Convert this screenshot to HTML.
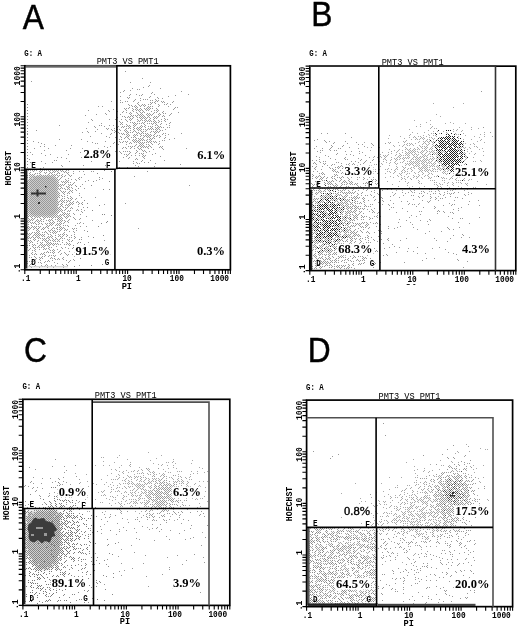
<!DOCTYPE html>
<html><head><meta charset="utf-8"><style>
html,body{margin:0;padding:0;background:#fff;width:520px;height:627px;overflow:hidden}
svg{display:block}
text{opacity:0.999}
</style></head><body>
<svg width="520" height="627" viewBox="0 0 520 627"><defs><filter id="b2" x="-50%" y="-50%" width="200%" height="200%"><feGaussianBlur stdDeviation="2.5"/></filter><filter id="b1" x="-20%" y="-20%" width="140%" height="140%"><feGaussianBlur stdDeviation="1.2"/></filter><filter id="b08" x="-20%" y="-20%" width="140%" height="140%"><feGaussianBlur stdDeviation="0.7"/></filter><filter id="b05" x="-20%" y="-20%" width="140%" height="140%"><feGaussianBlur stdDeviation="0.45"/></filter><filter id="bd" x="-2%" y="-2%" width="104%" height="104%"><feGaussianBlur stdDeviation="0.4"/></filter></defs><rect width="520" height="627" fill="#fff"/><rect x="28.5" y="176" width="29" height="40" rx="7" fill="#cdcdcd" filter="url(#b1)"/><g filter="url(#bd)"><path d="M105 169h1v1h-1zM104 170h1v1h-1zM111 171h1v1h-1zM59 173h1v1h-1zM97 173h1v1h-1zM99 177h1v1h-1zM48 178h1v1h-1zM93 181h1v1h-1zM109 181h1v1h-1zM91 185h1v1h-1zM76 186h1v1h-1zM78 188h1v1h-1zM103 189h1v1h-1zM109 189h1v1h-1zM27 193h1v1h-1zM31 195h1v1h-1zM57 197h1v1h-1zM50 198h1v1h-1zM50 200h1v1h-1zM84 200h1v1h-1zM61 203h1v1h-1zM87 203h1v1h-1zM82 204h1v1h-1zM61 205h1v1h-1zM99 205h1v1h-1zM43 207h1v1h-1zM87 207h1v1h-1zM65 209h1v1h-1zM92 210h1v1h-1zM31 213h1v1h-1zM64 214h1v1h-1zM102 214h1v1h-1zM104 214h1v1h-1zM111 215h1v1h-1zM28 216h1v1h-1zM58 218h1v1h-1zM107 221h1v1h-1zM106 222h1v1h-1zM101 223h1v1h-1zM36 224h1v1h-1zM68 226h1v1h-1zM98 226h1v1h-1zM27 227h1v1h-1zM57 227h1v1h-1zM38 228h1v1h-1zM37 229h1v1h-1zM43 229h1v1h-1zM57 229h1v1h-1zM87 231h1v1h-1zM38 234h1v1h-1zM55 235h1v1h-1zM67 235h1v1h-1zM103 235h1v1h-1zM74 236h1v1h-1zM93 237h1v1h-1zM79 239h1v1h-1zM72 240h1v1h-1zM80 242h1v1h-1zM51 243h1v1h-1zM84 244h1v1h-1zM29 245h1v1h-1zM73 245h1v1h-1zM73 247h1v1h-1zM72 248h1v1h-1zM48 252h1v1h-1zM87 253h1v1h-1zM36 254h1v1h-1zM110 254h1v1h-1zM74 256h1v1h-1zM54 258h1v1h-1zM80 258h1v1h-1zM48 260h1v1h-1zM102 264h1v1h-1zM67 265h1v1h-1zM91 265h1v1h-1zM74 266h1v1h-1zM47 267h1v1h-1z" fill="#888"/><path d="M125 71h1v1h-1zM142 78h1v1h-1zM31 81h1v1h-1zM130 82h1v1h-1zM150 82h1v1h-1zM149 85h1v1h-1zM148 86h1v1h-1zM143 87h1v1h-1zM132 88h1v1h-1zM160 88h1v1h-1zM137 89h1v1h-1zM139 89h1v1h-1zM124 90h1v1h-1zM130 90h1v1h-1zM123 91h1v1h-1zM181 91h1v1h-1zM120 92h1v1h-1zM152 92h1v1h-1zM151 93h1v1h-1zM130 94h1v1h-1zM136 94h1v1h-1zM142 94h1v1h-1zM154 94h1v1h-1zM188 94h1v1h-1zM129 95h1v1h-1zM139 95h1v1h-1zM141 95h1v1h-1zM175 95h1v1h-1zM120 96h1v1h-1zM150 96h1v1h-1zM168 96h1v1h-1zM127 97h1v1h-1zM129 97h1v1h-1zM149 97h1v1h-1zM157 97h1v1h-1zM128 98h1v1h-1zM140 98h1v1h-1zM158 98h1v1h-1zM162 98h1v1h-1zM135 99h1v1h-1zM143 99h1v1h-1zM145 99h1v1h-1zM147 99h1v1h-1zM155 99h1v1h-1zM120 100h1v1h-1zM134 100h1v1h-1zM140 100h1v1h-1zM150 100h1v1h-1zM152 100h1v1h-1zM156 100h1v1h-1zM158 100h1v1h-1zM111 101h1v1h-1zM125 101h1v1h-1zM127 101h1v1h-1zM133 101h1v1h-1zM155 101h1v1h-1zM157 101h1v1h-1zM161 101h1v1h-1zM163 101h1v1h-1zM173 101h1v1h-1zM120 102h1v1h-1zM122 102h1v1h-1zM138 102h1v1h-1zM150 102h1v1h-1zM152 102h1v1h-1zM154 102h1v1h-1zM162 102h1v1h-1zM164 102h1v1h-1zM172 102h1v1h-1zM137 103h1v1h-1zM151 103h1v1h-1zM155 103h1v1h-1zM167 103h1v1h-1zM128 104h1v1h-1zM138 104h1v1h-1zM142 104h1v1h-1zM144 104h1v1h-1zM148 104h1v1h-1zM150 104h1v1h-1zM158 104h1v1h-1zM164 104h1v1h-1zM166 104h1v1h-1zM170 104h1v1h-1zM129 105h1v1h-1zM131 105h1v1h-1zM135 105h1v1h-1zM139 105h1v1h-1zM141 105h1v1h-1zM143 105h1v1h-1zM145 105h1v1h-1zM159 105h1v1h-1zM98 106h1v1h-1zM102 106h1v1h-1zM132 106h1v1h-1zM134 106h1v1h-1zM136 106h1v1h-1zM140 106h1v1h-1zM144 106h1v1h-1zM148 106h1v1h-1zM150 106h1v1h-1zM152 106h1v1h-1zM158 106h1v1h-1zM168 106h1v1h-1zM129 107h1v1h-1zM135 107h1v1h-1zM137 107h1v1h-1zM147 107h1v1h-1zM149 107h1v1h-1zM175 107h1v1h-1zM177 107h1v1h-1zM124 108h1v1h-1zM126 108h1v1h-1zM128 108h1v1h-1zM132 108h1v1h-1zM136 108h1v1h-1zM140 108h1v1h-1zM144 108h1v1h-1zM146 108h1v1h-1zM148 108h1v1h-1zM150 108h1v1h-1zM152 108h1v1h-1zM156 108h1v1h-1zM174 108h1v1h-1zM113 109h1v1h-1zM125 109h1v1h-1zM133 109h1v1h-1zM135 109h1v1h-1zM137 109h1v1h-1zM139 109h1v1h-1zM141 109h1v1h-1zM145 109h1v1h-1zM147 109h1v1h-1zM149 109h1v1h-1zM157 109h1v1h-1zM173 109h1v1h-1zM88 110h1v1h-1zM108 110h1v1h-1zM126 110h1v1h-1zM132 110h1v1h-1zM136 110h1v1h-1zM138 110h1v1h-1zM140 110h1v1h-1zM142 110h1v1h-1zM146 110h1v1h-1zM148 110h1v1h-1zM154 110h1v1h-1zM156 110h1v1h-1zM158 110h1v1h-1zM109 111h1v1h-1zM117 111h1v1h-1zM123 111h1v1h-1zM133 111h1v1h-1zM139 111h1v1h-1zM143 111h1v1h-1zM151 111h1v1h-1zM157 111h1v1h-1zM163 111h1v1h-1zM122 112h1v1h-1zM126 112h1v1h-1zM130 112h1v1h-1zM136 112h1v1h-1zM140 112h1v1h-1zM142 112h1v1h-1zM144 112h1v1h-1zM154 112h1v1h-1zM156 112h1v1h-1zM162 112h1v1h-1zM178 112h1v1h-1zM105 113h1v1h-1zM129 113h1v1h-1zM131 113h1v1h-1zM137 113h1v1h-1zM141 113h1v1h-1zM147 113h1v1h-1zM149 113h1v1h-1zM153 113h1v1h-1zM159 113h1v1h-1zM163 113h1v1h-1zM165 113h1v1h-1zM171 113h1v1h-1zM96 114h1v1h-1zM106 114h1v1h-1zM120 114h1v1h-1zM130 114h1v1h-1zM138 114h1v1h-1zM140 114h1v1h-1zM142 114h1v1h-1zM146 114h1v1h-1zM148 114h1v1h-1zM150 114h1v1h-1zM152 114h1v1h-1zM158 114h1v1h-1zM160 114h1v1h-1zM170 114h1v1h-1zM85 115h1v1h-1zM131 115h1v1h-1zM133 115h1v1h-1zM135 115h1v1h-1zM137 115h1v1h-1zM139 115h1v1h-1zM141 115h1v1h-1zM143 115h1v1h-1zM147 115h1v1h-1zM149 115h1v1h-1zM151 115h1v1h-1zM159 115h1v1h-1zM163 115h1v1h-1zM169 115h1v1h-1zM116 116h1v1h-1zM122 116h1v1h-1zM124 116h1v1h-1zM128 116h1v1h-1zM130 116h1v1h-1zM132 116h1v1h-1zM136 116h1v1h-1zM140 116h1v1h-1zM142 116h1v1h-1zM144 116h1v1h-1zM148 116h1v1h-1zM154 116h1v1h-1zM156 116h1v1h-1zM158 116h1v1h-1zM162 116h1v1h-1zM164 116h1v1h-1zM117 117h1v1h-1zM125 117h1v1h-1zM127 117h1v1h-1zM129 117h1v1h-1zM133 117h1v1h-1zM137 117h1v1h-1zM139 117h1v1h-1zM141 117h1v1h-1zM143 117h1v1h-1zM145 117h1v1h-1zM147 117h1v1h-1zM149 117h1v1h-1zM153 117h1v1h-1zM155 117h1v1h-1zM157 117h1v1h-1zM130 118h1v1h-1zM132 118h1v1h-1zM140 118h1v1h-1zM142 118h1v1h-1zM144 118h1v1h-1zM146 118h1v1h-1zM150 118h1v1h-1zM154 118h1v1h-1zM156 118h1v1h-1zM164 118h1v1h-1zM91 119h1v1h-1zM109 119h1v1h-1zM115 119h1v1h-1zM121 119h1v1h-1zM125 119h1v1h-1zM129 119h1v1h-1zM131 119h1v1h-1zM137 119h1v1h-1zM141 119h1v1h-1zM145 119h1v1h-1zM149 119h1v1h-1zM153 119h1v1h-1zM161 119h1v1h-1zM165 119h1v1h-1zM167 119h1v1h-1zM92 120h1v1h-1zM126 120h1v1h-1zM130 120h1v1h-1zM138 120h1v1h-1zM140 120h1v1h-1zM142 120h1v1h-1zM144 120h1v1h-1zM146 120h1v1h-1zM148 120h1v1h-1zM150 120h1v1h-1zM154 120h1v1h-1zM158 120h1v1h-1zM164 120h1v1h-1zM119 121h1v1h-1zM127 121h1v1h-1zM137 121h1v1h-1zM139 121h1v1h-1zM145 121h1v1h-1zM147 121h1v1h-1zM149 121h1v1h-1zM151 121h1v1h-1zM153 121h1v1h-1zM155 121h1v1h-1zM159 121h1v1h-1zM161 121h1v1h-1zM165 121h1v1h-1zM88 122h1v1h-1zM120 122h1v1h-1zM122 122h1v1h-1zM130 122h1v1h-1zM132 122h1v1h-1zM134 122h1v1h-1zM142 122h1v1h-1zM144 122h1v1h-1zM154 122h1v1h-1zM156 122h1v1h-1zM158 122h1v1h-1zM170 122h1v1h-1zM101 123h1v1h-1zM121 123h1v1h-1zM133 123h1v1h-1zM135 123h1v1h-1zM137 123h1v1h-1zM139 123h1v1h-1zM141 123h1v1h-1zM143 123h1v1h-1zM147 123h1v1h-1zM149 123h1v1h-1zM151 123h1v1h-1zM153 123h1v1h-1zM155 123h1v1h-1zM161 123h1v1h-1zM169 123h1v1h-1zM120 124h1v1h-1zM122 124h1v1h-1zM126 124h1v1h-1zM134 124h1v1h-1zM136 124h1v1h-1zM144 124h1v1h-1zM152 124h1v1h-1zM156 124h1v1h-1zM160 124h1v1h-1zM166 124h1v1h-1zM59 125h1v1h-1zM99 125h1v1h-1zM101 125h1v1h-1zM109 125h1v1h-1zM113 125h1v1h-1zM127 125h1v1h-1zM129 125h1v1h-1zM133 125h1v1h-1zM135 125h1v1h-1zM141 125h1v1h-1zM145 125h1v1h-1zM155 125h1v1h-1zM157 125h1v1h-1zM169 125h1v1h-1zM94 126h1v1h-1zM104 126h1v1h-1zM116 126h1v1h-1zM118 126h1v1h-1zM122 126h1v1h-1zM124 126h1v1h-1zM126 126h1v1h-1zM128 126h1v1h-1zM130 126h1v1h-1zM134 126h1v1h-1zM140 126h1v1h-1zM142 126h1v1h-1zM144 126h1v1h-1zM148 126h1v1h-1zM150 126h1v1h-1zM152 126h1v1h-1zM158 126h1v1h-1zM160 126h1v1h-1zM95 127h1v1h-1zM117 127h1v1h-1zM121 127h1v1h-1zM123 127h1v1h-1zM129 127h1v1h-1zM133 127h1v1h-1zM137 127h1v1h-1zM139 127h1v1h-1zM141 127h1v1h-1zM145 127h1v1h-1zM151 127h1v1h-1zM155 127h1v1h-1zM157 127h1v1h-1zM159 127h1v1h-1zM161 127h1v1h-1zM163 127h1v1h-1zM167 127h1v1h-1zM169 127h1v1h-1zM86 128h1v1h-1zM106 128h1v1h-1zM108 128h1v1h-1zM114 128h1v1h-1zM126 128h1v1h-1zM128 128h1v1h-1zM130 128h1v1h-1zM134 128h1v1h-1zM136 128h1v1h-1zM138 128h1v1h-1zM140 128h1v1h-1zM148 128h1v1h-1zM150 128h1v1h-1zM152 128h1v1h-1zM156 128h1v1h-1zM158 128h1v1h-1zM97 129h1v1h-1zM107 129h1v1h-1zM111 129h1v1h-1zM117 129h1v1h-1zM119 129h1v1h-1zM125 129h1v1h-1zM133 129h1v1h-1zM137 129h1v1h-1zM139 129h1v1h-1zM141 129h1v1h-1zM143 129h1v1h-1zM145 129h1v1h-1zM147 129h1v1h-1zM149 129h1v1h-1zM151 129h1v1h-1zM153 129h1v1h-1zM155 129h1v1h-1zM157 129h1v1h-1zM159 129h1v1h-1zM165 129h1v1h-1zM36 130h1v1h-1zM112 130h1v1h-1zM114 130h1v1h-1zM120 130h1v1h-1zM124 130h1v1h-1zM126 130h1v1h-1zM130 130h1v1h-1zM134 130h1v1h-1zM138 130h1v1h-1zM140 130h1v1h-1zM146 130h1v1h-1zM156 130h1v1h-1zM160 130h1v1h-1zM162 130h1v1h-1zM87 131h1v1h-1zM95 131h1v1h-1zM115 131h1v1h-1zM125 131h1v1h-1zM127 131h1v1h-1zM133 131h1v1h-1zM135 131h1v1h-1zM141 131h1v1h-1zM143 131h1v1h-1zM145 131h1v1h-1zM151 131h1v1h-1zM153 131h1v1h-1zM155 131h1v1h-1zM157 131h1v1h-1zM159 131h1v1h-1zM82 132h1v1h-1zM88 132h1v1h-1zM114 132h1v1h-1zM118 132h1v1h-1zM126 132h1v1h-1zM128 132h1v1h-1zM130 132h1v1h-1zM132 132h1v1h-1zM136 132h1v1h-1zM138 132h1v1h-1zM142 132h1v1h-1zM150 132h1v1h-1zM154 132h1v1h-1zM156 132h1v1h-1zM158 132h1v1h-1zM27 133h1v1h-1zM101 133h1v1h-1zM111 133h1v1h-1zM119 133h1v1h-1zM121 133h1v1h-1zM123 133h1v1h-1zM127 133h1v1h-1zM137 133h1v1h-1zM139 133h1v1h-1zM141 133h1v1h-1zM143 133h1v1h-1zM145 133h1v1h-1zM147 133h1v1h-1zM155 133h1v1h-1zM163 133h1v1h-1zM165 133h1v1h-1zM181 133h1v1h-1zM110 134h1v1h-1zM122 134h1v1h-1zM124 134h1v1h-1zM126 134h1v1h-1zM128 134h1v1h-1zM134 134h1v1h-1zM136 134h1v1h-1zM140 134h1v1h-1zM146 134h1v1h-1zM148 134h1v1h-1zM150 134h1v1h-1zM154 134h1v1h-1zM162 134h1v1h-1zM168 134h1v1h-1zM127 135h1v1h-1zM129 135h1v1h-1zM133 135h1v1h-1zM135 135h1v1h-1zM137 135h1v1h-1zM141 135h1v1h-1zM143 135h1v1h-1zM145 135h1v1h-1zM147 135h1v1h-1zM149 135h1v1h-1zM151 135h1v1h-1zM153 135h1v1h-1zM157 135h1v1h-1zM159 135h1v1h-1zM165 135h1v1h-1zM90 136h1v1h-1zM106 136h1v1h-1zM120 136h1v1h-1zM126 136h1v1h-1zM128 136h1v1h-1zM134 136h1v1h-1zM140 136h1v1h-1zM144 136h1v1h-1zM146 136h1v1h-1zM148 136h1v1h-1zM150 136h1v1h-1zM154 136h1v1h-1zM156 136h1v1h-1zM160 136h1v1h-1zM109 137h1v1h-1zM115 137h1v1h-1zM121 137h1v1h-1zM125 137h1v1h-1zM127 137h1v1h-1zM131 137h1v1h-1zM133 137h1v1h-1zM135 137h1v1h-1zM143 137h1v1h-1zM147 137h1v1h-1zM149 137h1v1h-1zM153 137h1v1h-1zM159 137h1v1h-1zM165 137h1v1h-1zM124 138h1v1h-1zM128 138h1v1h-1zM136 138h1v1h-1zM138 138h1v1h-1zM140 138h1v1h-1zM142 138h1v1h-1zM150 138h1v1h-1zM152 138h1v1h-1zM154 138h1v1h-1zM164 138h1v1h-1zM174 138h1v1h-1zM59 139h1v1h-1zM81 139h1v1h-1zM119 139h1v1h-1zM121 139h1v1h-1zM129 139h1v1h-1zM133 139h1v1h-1zM135 139h1v1h-1zM139 139h1v1h-1zM141 139h1v1h-1zM143 139h1v1h-1zM147 139h1v1h-1zM149 139h1v1h-1zM151 139h1v1h-1zM169 139h1v1h-1zM132 140h1v1h-1zM134 140h1v1h-1zM136 140h1v1h-1zM138 140h1v1h-1zM140 140h1v1h-1zM142 140h1v1h-1zM144 140h1v1h-1zM146 140h1v1h-1zM150 140h1v1h-1zM162 140h1v1h-1zM164 140h1v1h-1zM33 141h1v1h-1zM87 141h1v1h-1zM105 141h1v1h-1zM119 141h1v1h-1zM123 141h1v1h-1zM125 141h1v1h-1zM127 141h1v1h-1zM133 141h1v1h-1zM135 141h1v1h-1zM137 141h1v1h-1zM139 141h1v1h-1zM147 141h1v1h-1zM149 141h1v1h-1zM151 141h1v1h-1zM153 141h1v1h-1zM155 141h1v1h-1zM159 141h1v1h-1zM38 142h1v1h-1zM92 142h1v1h-1zM114 142h1v1h-1zM120 142h1v1h-1zM122 142h1v1h-1zM126 142h1v1h-1zM130 142h1v1h-1zM134 142h1v1h-1zM136 142h1v1h-1zM138 142h1v1h-1zM140 142h1v1h-1zM142 142h1v1h-1zM144 142h1v1h-1zM146 142h1v1h-1zM148 142h1v1h-1zM150 142h1v1h-1zM154 142h1v1h-1zM156 142h1v1h-1zM41 143h1v1h-1zM95 143h1v1h-1zM97 143h1v1h-1zM113 143h1v1h-1zM129 143h1v1h-1zM131 143h1v1h-1zM139 143h1v1h-1zM141 143h1v1h-1zM143 143h1v1h-1zM151 143h1v1h-1zM159 143h1v1h-1zM44 144h1v1h-1zM116 144h1v1h-1zM118 144h1v1h-1zM126 144h1v1h-1zM136 144h1v1h-1zM140 144h1v1h-1zM142 144h1v1h-1zM146 144h1v1h-1zM148 144h1v1h-1zM152 144h1v1h-1zM158 144h1v1h-1zM55 145h1v1h-1zM71 145h1v1h-1zM135 145h1v1h-1zM139 145h1v1h-1zM141 145h1v1h-1zM143 145h1v1h-1zM149 145h1v1h-1zM40 146h1v1h-1zM44 146h1v1h-1zM104 146h1v1h-1zM110 146h1v1h-1zM128 146h1v1h-1zM130 146h1v1h-1zM132 146h1v1h-1zM134 146h1v1h-1zM138 146h1v1h-1zM140 146h1v1h-1zM142 146h1v1h-1zM144 146h1v1h-1zM146 146h1v1h-1zM148 146h1v1h-1zM150 146h1v1h-1zM160 146h1v1h-1zM162 146h1v1h-1zM107 147h1v1h-1zM123 147h1v1h-1zM125 147h1v1h-1zM131 147h1v1h-1zM137 147h1v1h-1zM141 147h1v1h-1zM143 147h1v1h-1zM145 147h1v1h-1zM147 147h1v1h-1zM151 147h1v1h-1zM159 147h1v1h-1zM161 147h1v1h-1zM34 148h1v1h-1zM48 148h1v1h-1zM70 148h1v1h-1zM82 148h1v1h-1zM98 148h1v1h-1zM122 148h1v1h-1zM126 148h1v1h-1zM130 148h1v1h-1zM134 148h1v1h-1zM138 148h1v1h-1zM140 148h1v1h-1zM148 148h1v1h-1zM162 148h1v1h-1zM186 148h1v1h-1zM91 149h1v1h-1zM139 149h1v1h-1zM141 149h1v1h-1zM153 149h1v1h-1zM163 149h1v1h-1zM44 150h1v1h-1zM66 150h1v1h-1zM88 150h1v1h-1zM92 150h1v1h-1zM136 150h1v1h-1zM142 150h1v1h-1zM144 150h1v1h-1zM101 151h1v1h-1zM115 151h1v1h-1zM119 151h1v1h-1zM123 151h1v1h-1zM125 151h1v1h-1zM127 151h1v1h-1zM129 151h1v1h-1zM137 151h1v1h-1zM143 151h1v1h-1zM145 151h1v1h-1zM149 151h1v1h-1zM30 152h1v1h-1zM80 152h1v1h-1zM120 152h1v1h-1zM130 152h1v1h-1zM136 152h1v1h-1zM146 152h1v1h-1zM41 153h1v1h-1zM111 153h1v1h-1zM121 153h1v1h-1zM129 153h1v1h-1zM135 153h1v1h-1zM139 153h1v1h-1zM141 153h1v1h-1zM143 153h1v1h-1zM155 153h1v1h-1zM32 154h1v1h-1zM50 154h1v1h-1zM68 154h1v1h-1zM90 154h1v1h-1zM124 154h1v1h-1zM126 154h1v1h-1zM128 154h1v1h-1zM142 154h1v1h-1zM152 154h1v1h-1zM45 155h1v1h-1zM127 155h1v1h-1zM131 155h1v1h-1zM135 155h1v1h-1zM139 155h1v1h-1zM143 155h1v1h-1zM145 155h1v1h-1zM126 156h1v1h-1zM142 156h1v1h-1zM144 156h1v1h-1zM160 156h1v1h-1zM57 157h1v1h-1zM61 157h1v1h-1zM81 157h1v1h-1zM99 157h1v1h-1zM123 157h1v1h-1zM129 157h1v1h-1zM143 157h1v1h-1zM66 158h1v1h-1zM128 158h1v1h-1zM136 158h1v1h-1zM144 158h1v1h-1zM29 159h1v1h-1zM111 159h1v1h-1zM135 159h1v1h-1zM137 159h1v1h-1zM54 160h1v1h-1zM56 160h1v1h-1zM142 160h1v1h-1zM150 160h1v1h-1zM164 160h1v1h-1zM41 161h1v1h-1zM69 161h1v1h-1zM91 161h1v1h-1zM119 161h1v1h-1zM133 161h1v1h-1zM141 161h1v1h-1zM30 162h1v1h-1zM52 162h1v1h-1zM136 162h1v1h-1zM144 162h1v1h-1zM148 162h1v1h-1zM45 163h1v1h-1zM133 163h1v1h-1zM137 163h1v1h-1zM139 163h1v1h-1zM155 163h1v1h-1zM180 164h1v1h-1zM61 165h1v1h-1zM83 165h1v1h-1zM105 165h1v1h-1zM135 165h1v1h-1zM62 166h1v1h-1zM138 166h1v1h-1zM154 166h1v1h-1zM43 167h1v1h-1zM119 167h1v1h-1zM127 167h1v1h-1zM40 168h1v1h-1zM144 168h1v1h-1zM67 169h1v1h-1zM28 170h1v1h-1zM30 170h1v1h-1zM32 170h1v1h-1zM34 170h1v1h-1zM36 170h1v1h-1zM40 170h1v1h-1zM42 170h1v1h-1zM44 170h1v1h-1zM46 170h1v1h-1zM48 170h1v1h-1zM50 170h1v1h-1zM52 170h1v1h-1zM54 170h1v1h-1zM56 170h1v1h-1zM58 170h1v1h-1zM60 170h1v1h-1zM62 170h1v1h-1zM66 170h1v1h-1zM68 170h1v1h-1zM33 171h1v1h-1zM39 171h1v1h-1zM41 171h1v1h-1zM49 171h1v1h-1zM53 171h1v1h-1zM55 171h1v1h-1zM57 171h1v1h-1zM61 171h1v1h-1zM63 171h1v1h-1zM65 171h1v1h-1zM73 171h1v1h-1zM79 171h1v1h-1zM83 171h1v1h-1zM91 171h1v1h-1zM93 171h1v1h-1zM147 171h1v1h-1zM26 172h1v1h-1zM30 172h1v1h-1zM40 172h1v1h-1zM44 172h1v1h-1zM46 172h1v1h-1zM50 172h1v1h-1zM52 172h1v1h-1zM54 172h1v1h-1zM58 172h1v1h-1zM64 172h1v1h-1zM66 172h1v1h-1zM68 172h1v1h-1zM29 173h1v1h-1zM35 173h1v1h-1zM37 173h1v1h-1zM39 173h1v1h-1zM45 173h1v1h-1zM49 173h1v1h-1zM51 173h1v1h-1zM57 173h1v1h-1zM67 173h1v1h-1zM73 173h1v1h-1zM26 174h1v1h-1zM30 174h1v1h-1zM32 174h1v1h-1zM34 174h1v1h-1zM40 174h1v1h-1zM48 174h1v1h-1zM52 174h1v1h-1zM54 174h1v1h-1zM56 174h1v1h-1zM62 174h1v1h-1zM68 174h1v1h-1zM84 174h1v1h-1zM27 175h1v1h-1zM29 175h1v1h-1zM31 175h1v1h-1zM37 175h1v1h-1zM41 175h1v1h-1zM43 175h1v1h-1zM45 175h1v1h-1zM49 175h1v1h-1zM51 175h1v1h-1zM53 175h1v1h-1zM57 175h1v1h-1zM59 175h1v1h-1zM61 175h1v1h-1zM65 175h1v1h-1zM69 175h1v1h-1zM71 175h1v1h-1zM26 176h1v1h-1zM30 176h1v1h-1zM36 176h1v1h-1zM40 176h1v1h-1zM42 176h1v1h-1zM46 176h1v1h-1zM52 176h1v1h-1zM58 176h1v1h-1zM62 176h1v1h-1zM64 176h1v1h-1zM70 176h1v1h-1zM134 176h1v1h-1zM27 177h1v1h-1zM29 177h1v1h-1zM33 177h1v1h-1zM35 177h1v1h-1zM37 177h1v1h-1zM39 177h1v1h-1zM41 177h1v1h-1zM43 177h1v1h-1zM47 177h1v1h-1zM51 177h1v1h-1zM57 177h1v1h-1zM61 177h1v1h-1zM79 177h1v1h-1zM81 177h1v1h-1zM30 178h1v1h-1zM36 178h1v1h-1zM38 178h1v1h-1zM42 178h1v1h-1zM46 178h1v1h-1zM54 178h1v1h-1zM60 178h1v1h-1zM68 178h1v1h-1zM78 178h1v1h-1zM102 178h1v1h-1zM29 179h1v1h-1zM37 179h1v1h-1zM39 179h1v1h-1zM51 179h1v1h-1zM55 179h1v1h-1zM57 179h1v1h-1zM59 179h1v1h-1zM65 179h1v1h-1zM71 179h1v1h-1zM75 179h1v1h-1zM79 179h1v1h-1zM99 179h1v1h-1zM26 180h1v1h-1zM30 180h1v1h-1zM32 180h1v1h-1zM38 180h1v1h-1zM40 180h1v1h-1zM46 180h1v1h-1zM48 180h1v1h-1zM50 180h1v1h-1zM52 180h1v1h-1zM54 180h1v1h-1zM56 180h1v1h-1zM58 180h1v1h-1zM66 180h1v1h-1zM68 180h1v1h-1zM76 180h1v1h-1zM88 180h1v1h-1zM96 180h1v1h-1zM27 181h1v1h-1zM31 181h1v1h-1zM37 181h1v1h-1zM39 181h1v1h-1zM41 181h1v1h-1zM45 181h1v1h-1zM53 181h1v1h-1zM57 181h1v1h-1zM61 181h1v1h-1zM63 181h1v1h-1zM65 181h1v1h-1zM67 181h1v1h-1zM85 181h1v1h-1zM26 182h1v1h-1zM28 182h1v1h-1zM32 182h1v1h-1zM34 182h1v1h-1zM38 182h1v1h-1zM40 182h1v1h-1zM42 182h1v1h-1zM44 182h1v1h-1zM46 182h1v1h-1zM48 182h1v1h-1zM50 182h1v1h-1zM52 182h1v1h-1zM54 182h1v1h-1zM56 182h1v1h-1zM58 182h1v1h-1zM62 182h1v1h-1zM64 182h1v1h-1zM66 182h1v1h-1zM68 182h1v1h-1zM70 182h1v1h-1zM74 182h1v1h-1zM27 183h1v1h-1zM29 183h1v1h-1zM31 183h1v1h-1zM45 183h1v1h-1zM47 183h1v1h-1zM51 183h1v1h-1zM55 183h1v1h-1zM65 183h1v1h-1zM73 183h1v1h-1zM28 184h1v1h-1zM30 184h1v1h-1zM34 184h1v1h-1zM36 184h1v1h-1zM38 184h1v1h-1zM40 184h1v1h-1zM44 184h1v1h-1zM46 184h1v1h-1zM48 184h1v1h-1zM50 184h1v1h-1zM58 184h1v1h-1zM60 184h1v1h-1zM62 184h1v1h-1zM64 184h1v1h-1zM68 184h1v1h-1zM70 184h1v1h-1zM72 184h1v1h-1zM82 184h1v1h-1zM27 185h1v1h-1zM29 185h1v1h-1zM33 185h1v1h-1zM35 185h1v1h-1zM37 185h1v1h-1zM43 185h1v1h-1zM47 185h1v1h-1zM53 185h1v1h-1zM55 185h1v1h-1zM59 185h1v1h-1zM61 185h1v1h-1zM63 185h1v1h-1zM69 185h1v1h-1zM71 185h1v1h-1zM75 185h1v1h-1zM189 185h1v1h-1zM28 186h1v1h-1zM30 186h1v1h-1zM32 186h1v1h-1zM34 186h1v1h-1zM36 186h1v1h-1zM38 186h1v1h-1zM40 186h1v1h-1zM44 186h1v1h-1zM48 186h1v1h-1zM58 186h1v1h-1zM60 186h1v1h-1zM66 186h1v1h-1zM68 186h1v1h-1zM80 186h1v1h-1zM27 187h1v1h-1zM29 187h1v1h-1zM31 187h1v1h-1zM33 187h1v1h-1zM39 187h1v1h-1zM41 187h1v1h-1zM43 187h1v1h-1zM45 187h1v1h-1zM51 187h1v1h-1zM53 187h1v1h-1zM61 187h1v1h-1zM67 187h1v1h-1zM69 187h1v1h-1zM71 187h1v1h-1zM26 188h1v1h-1zM28 188h1v1h-1zM30 188h1v1h-1zM34 188h1v1h-1zM36 188h1v1h-1zM40 188h1v1h-1zM44 188h1v1h-1zM46 188h1v1h-1zM48 188h1v1h-1zM50 188h1v1h-1zM52 188h1v1h-1zM56 188h1v1h-1zM58 188h1v1h-1zM60 188h1v1h-1zM62 188h1v1h-1zM64 188h1v1h-1zM68 188h1v1h-1zM72 188h1v1h-1zM84 188h1v1h-1zM29 189h1v1h-1zM31 189h1v1h-1zM33 189h1v1h-1zM35 189h1v1h-1zM41 189h1v1h-1zM45 189h1v1h-1zM47 189h1v1h-1zM49 189h1v1h-1zM53 189h1v1h-1zM57 189h1v1h-1zM59 189h1v1h-1zM65 189h1v1h-1zM67 189h1v1h-1zM69 189h1v1h-1zM75 189h1v1h-1zM30 190h1v1h-1zM32 190h1v1h-1zM36 190h1v1h-1zM38 190h1v1h-1zM40 190h1v1h-1zM42 190h1v1h-1zM44 190h1v1h-1zM46 190h1v1h-1zM48 190h1v1h-1zM50 190h1v1h-1zM52 190h1v1h-1zM60 190h1v1h-1zM70 190h1v1h-1zM72 190h1v1h-1zM76 190h1v1h-1zM27 191h1v1h-1zM29 191h1v1h-1zM31 191h1v1h-1zM35 191h1v1h-1zM37 191h1v1h-1zM41 191h1v1h-1zM43 191h1v1h-1zM45 191h1v1h-1zM47 191h1v1h-1zM51 191h1v1h-1zM53 191h1v1h-1zM55 191h1v1h-1zM57 191h1v1h-1zM61 191h1v1h-1zM63 191h1v1h-1zM65 191h1v1h-1zM69 191h1v1h-1zM71 191h1v1h-1zM26 192h1v1h-1zM28 192h1v1h-1zM30 192h1v1h-1zM32 192h1v1h-1zM36 192h1v1h-1zM40 192h1v1h-1zM42 192h1v1h-1zM46 192h1v1h-1zM48 192h1v1h-1zM56 192h1v1h-1zM58 192h1v1h-1zM62 192h1v1h-1zM64 192h1v1h-1zM68 192h1v1h-1zM72 192h1v1h-1zM29 193h1v1h-1zM31 193h1v1h-1zM33 193h1v1h-1zM39 193h1v1h-1zM43 193h1v1h-1zM45 193h1v1h-1zM47 193h1v1h-1zM51 193h1v1h-1zM53 193h1v1h-1zM59 193h1v1h-1zM63 193h1v1h-1zM67 193h1v1h-1zM69 193h1v1h-1zM79 193h1v1h-1zM28 194h1v1h-1zM30 194h1v1h-1zM38 194h1v1h-1zM40 194h1v1h-1zM42 194h1v1h-1zM46 194h1v1h-1zM50 194h1v1h-1zM58 194h1v1h-1zM64 194h1v1h-1zM29 195h1v1h-1zM37 195h1v1h-1zM39 195h1v1h-1zM41 195h1v1h-1zM43 195h1v1h-1zM45 195h1v1h-1zM51 195h1v1h-1zM53 195h1v1h-1zM55 195h1v1h-1zM59 195h1v1h-1zM61 195h1v1h-1zM67 195h1v1h-1zM79 195h1v1h-1zM26 196h1v1h-1zM28 196h1v1h-1zM30 196h1v1h-1zM32 196h1v1h-1zM34 196h1v1h-1zM38 196h1v1h-1zM40 196h1v1h-1zM46 196h1v1h-1zM48 196h1v1h-1zM50 196h1v1h-1zM54 196h1v1h-1zM58 196h1v1h-1zM62 196h1v1h-1zM64 196h1v1h-1zM70 196h1v1h-1zM31 197h1v1h-1zM35 197h1v1h-1zM37 197h1v1h-1zM41 197h1v1h-1zM43 197h1v1h-1zM45 197h1v1h-1zM49 197h1v1h-1zM53 197h1v1h-1zM55 197h1v1h-1zM59 197h1v1h-1zM67 197h1v1h-1zM71 197h1v1h-1zM81 197h1v1h-1zM95 197h1v1h-1zM32 198h1v1h-1zM34 198h1v1h-1zM36 198h1v1h-1zM42 198h1v1h-1zM44 198h1v1h-1zM46 198h1v1h-1zM52 198h1v1h-1zM56 198h1v1h-1zM62 198h1v1h-1zM64 198h1v1h-1zM68 198h1v1h-1zM70 198h1v1h-1zM72 198h1v1h-1zM76 198h1v1h-1zM27 199h1v1h-1zM29 199h1v1h-1zM31 199h1v1h-1zM35 199h1v1h-1zM43 199h1v1h-1zM45 199h1v1h-1zM47 199h1v1h-1zM51 199h1v1h-1zM53 199h1v1h-1zM55 199h1v1h-1zM57 199h1v1h-1zM61 199h1v1h-1zM71 199h1v1h-1zM75 199h1v1h-1zM26 200h1v1h-1zM28 200h1v1h-1zM32 200h1v1h-1zM34 200h1v1h-1zM38 200h1v1h-1zM42 200h1v1h-1zM44 200h1v1h-1zM46 200h1v1h-1zM52 200h1v1h-1zM54 200h1v1h-1zM56 200h1v1h-1zM60 200h1v1h-1zM62 200h1v1h-1zM64 200h1v1h-1zM66 200h1v1h-1zM68 200h1v1h-1zM70 200h1v1h-1zM27 201h1v1h-1zM35 201h1v1h-1zM37 201h1v1h-1zM39 201h1v1h-1zM41 201h1v1h-1zM47 201h1v1h-1zM49 201h1v1h-1zM53 201h1v1h-1zM59 201h1v1h-1zM61 201h1v1h-1zM63 201h1v1h-1zM67 201h1v1h-1zM69 201h1v1h-1zM73 201h1v1h-1zM77 201h1v1h-1zM26 202h1v1h-1zM28 202h1v1h-1zM30 202h1v1h-1zM32 202h1v1h-1zM36 202h1v1h-1zM42 202h1v1h-1zM44 202h1v1h-1zM46 202h1v1h-1zM48 202h1v1h-1zM50 202h1v1h-1zM54 202h1v1h-1zM56 202h1v1h-1zM58 202h1v1h-1zM62 202h1v1h-1zM64 202h1v1h-1zM66 202h1v1h-1zM70 202h1v1h-1zM72 202h1v1h-1zM76 202h1v1h-1zM78 202h1v1h-1zM82 202h1v1h-1zM27 203h1v1h-1zM29 203h1v1h-1zM31 203h1v1h-1zM35 203h1v1h-1zM37 203h1v1h-1zM41 203h1v1h-1zM43 203h1v1h-1zM45 203h1v1h-1zM47 203h1v1h-1zM49 203h1v1h-1zM51 203h1v1h-1zM53 203h1v1h-1zM57 203h1v1h-1zM69 203h1v1h-1zM71 203h1v1h-1zM73 203h1v1h-1zM79 203h1v1h-1zM81 203h1v1h-1zM125 203h1v1h-1zM26 204h1v1h-1zM28 204h1v1h-1zM30 204h1v1h-1zM32 204h1v1h-1zM36 204h1v1h-1zM40 204h1v1h-1zM46 204h1v1h-1zM48 204h1v1h-1zM50 204h1v1h-1zM52 204h1v1h-1zM56 204h1v1h-1zM58 204h1v1h-1zM60 204h1v1h-1zM62 204h1v1h-1zM66 204h1v1h-1zM68 204h1v1h-1zM70 204h1v1h-1zM72 204h1v1h-1zM78 204h1v1h-1zM104 204h1v1h-1zM31 205h1v1h-1zM35 205h1v1h-1zM39 205h1v1h-1zM41 205h1v1h-1zM43 205h1v1h-1zM45 205h1v1h-1zM47 205h1v1h-1zM49 205h1v1h-1zM51 205h1v1h-1zM55 205h1v1h-1zM65 205h1v1h-1zM67 205h1v1h-1zM69 205h1v1h-1zM26 206h1v1h-1zM28 206h1v1h-1zM30 206h1v1h-1zM40 206h1v1h-1zM48 206h1v1h-1zM50 206h1v1h-1zM52 206h1v1h-1zM54 206h1v1h-1zM56 206h1v1h-1zM60 206h1v1h-1zM62 206h1v1h-1zM68 206h1v1h-1zM78 206h1v1h-1zM27 207h1v1h-1zM35 207h1v1h-1zM37 207h1v1h-1zM39 207h1v1h-1zM41 207h1v1h-1zM45 207h1v1h-1zM49 207h1v1h-1zM51 207h1v1h-1zM55 207h1v1h-1zM59 207h1v1h-1zM63 207h1v1h-1zM65 207h1v1h-1zM67 207h1v1h-1zM71 207h1v1h-1zM83 207h1v1h-1zM26 208h1v1h-1zM28 208h1v1h-1zM30 208h1v1h-1zM38 208h1v1h-1zM42 208h1v1h-1zM46 208h1v1h-1zM54 208h1v1h-1zM56 208h1v1h-1zM58 208h1v1h-1zM60 208h1v1h-1zM66 208h1v1h-1zM70 208h1v1h-1zM72 208h1v1h-1zM27 209h1v1h-1zM29 209h1v1h-1zM35 209h1v1h-1zM37 209h1v1h-1zM39 209h1v1h-1zM43 209h1v1h-1zM45 209h1v1h-1zM47 209h1v1h-1zM51 209h1v1h-1zM53 209h1v1h-1zM55 209h1v1h-1zM57 209h1v1h-1zM59 209h1v1h-1zM61 209h1v1h-1zM77 209h1v1h-1zM81 209h1v1h-1zM26 210h1v1h-1zM28 210h1v1h-1zM30 210h1v1h-1zM32 210h1v1h-1zM36 210h1v1h-1zM38 210h1v1h-1zM42 210h1v1h-1zM46 210h1v1h-1zM48 210h1v1h-1zM50 210h1v1h-1zM52 210h1v1h-1zM54 210h1v1h-1zM58 210h1v1h-1zM60 210h1v1h-1zM62 210h1v1h-1zM64 210h1v1h-1zM68 210h1v1h-1zM70 210h1v1h-1zM76 210h1v1h-1zM78 210h1v1h-1zM84 210h1v1h-1zM27 211h1v1h-1zM29 211h1v1h-1zM31 211h1v1h-1zM33 211h1v1h-1zM35 211h1v1h-1zM37 211h1v1h-1zM41 211h1v1h-1zM43 211h1v1h-1zM47 211h1v1h-1zM49 211h1v1h-1zM55 211h1v1h-1zM57 211h1v1h-1zM59 211h1v1h-1zM61 211h1v1h-1zM67 211h1v1h-1zM69 211h1v1h-1zM81 211h1v1h-1zM26 212h1v1h-1zM28 212h1v1h-1zM30 212h1v1h-1zM34 212h1v1h-1zM38 212h1v1h-1zM40 212h1v1h-1zM42 212h1v1h-1zM44 212h1v1h-1zM50 212h1v1h-1zM56 212h1v1h-1zM58 212h1v1h-1zM62 212h1v1h-1zM64 212h1v1h-1zM82 212h1v1h-1zM33 213h1v1h-1zM35 213h1v1h-1zM39 213h1v1h-1zM41 213h1v1h-1zM43 213h1v1h-1zM45 213h1v1h-1zM51 213h1v1h-1zM53 213h1v1h-1zM55 213h1v1h-1zM63 213h1v1h-1zM65 213h1v1h-1zM67 213h1v1h-1zM69 213h1v1h-1zM73 213h1v1h-1zM28 214h1v1h-1zM30 214h1v1h-1zM32 214h1v1h-1zM34 214h1v1h-1zM36 214h1v1h-1zM40 214h1v1h-1zM42 214h1v1h-1zM44 214h1v1h-1zM48 214h1v1h-1zM54 214h1v1h-1zM56 214h1v1h-1zM60 214h1v1h-1zM62 214h1v1h-1zM66 214h1v1h-1zM68 214h1v1h-1zM74 214h1v1h-1zM80 214h1v1h-1zM29 215h1v1h-1zM31 215h1v1h-1zM35 215h1v1h-1zM41 215h1v1h-1zM45 215h1v1h-1zM47 215h1v1h-1zM49 215h1v1h-1zM53 215h1v1h-1zM57 215h1v1h-1zM59 215h1v1h-1zM61 215h1v1h-1zM63 215h1v1h-1zM67 215h1v1h-1zM69 215h1v1h-1zM26 216h1v1h-1zM30 216h1v1h-1zM32 216h1v1h-1zM40 216h1v1h-1zM42 216h1v1h-1zM48 216h1v1h-1zM50 216h1v1h-1zM52 216h1v1h-1zM54 216h1v1h-1zM58 216h1v1h-1zM60 216h1v1h-1zM64 216h1v1h-1zM66 216h1v1h-1zM68 216h1v1h-1zM70 216h1v1h-1zM86 216h1v1h-1zM27 217h1v1h-1zM31 217h1v1h-1zM35 217h1v1h-1zM37 217h1v1h-1zM39 217h1v1h-1zM43 217h1v1h-1zM45 217h1v1h-1zM47 217h1v1h-1zM49 217h1v1h-1zM51 217h1v1h-1zM53 217h1v1h-1zM55 217h1v1h-1zM57 217h1v1h-1zM59 217h1v1h-1zM61 217h1v1h-1zM65 217h1v1h-1zM67 217h1v1h-1zM73 217h1v1h-1zM28 218h1v1h-1zM32 218h1v1h-1zM34 218h1v1h-1zM40 218h1v1h-1zM44 218h1v1h-1zM52 218h1v1h-1zM60 218h1v1h-1zM62 218h1v1h-1zM66 218h1v1h-1zM74 218h1v1h-1zM80 218h1v1h-1zM29 219h1v1h-1zM31 219h1v1h-1zM33 219h1v1h-1zM37 219h1v1h-1zM41 219h1v1h-1zM43 219h1v1h-1zM49 219h1v1h-1zM51 219h1v1h-1zM55 219h1v1h-1zM57 219h1v1h-1zM59 219h1v1h-1zM61 219h1v1h-1zM69 219h1v1h-1zM75 219h1v1h-1zM79 219h1v1h-1zM28 220h1v1h-1zM30 220h1v1h-1zM32 220h1v1h-1zM36 220h1v1h-1zM38 220h1v1h-1zM40 220h1v1h-1zM46 220h1v1h-1zM48 220h1v1h-1zM50 220h1v1h-1zM52 220h1v1h-1zM58 220h1v1h-1zM60 220h1v1h-1zM62 220h1v1h-1zM64 220h1v1h-1zM68 220h1v1h-1zM92 220h1v1h-1zM27 221h1v1h-1zM29 221h1v1h-1zM35 221h1v1h-1zM37 221h1v1h-1zM39 221h1v1h-1zM41 221h1v1h-1zM43 221h1v1h-1zM49 221h1v1h-1zM53 221h1v1h-1zM57 221h1v1h-1zM59 221h1v1h-1zM61 221h1v1h-1zM65 221h1v1h-1zM67 221h1v1h-1zM26 222h1v1h-1zM28 222h1v1h-1zM30 222h1v1h-1zM32 222h1v1h-1zM34 222h1v1h-1zM38 222h1v1h-1zM50 222h1v1h-1zM52 222h1v1h-1zM54 222h1v1h-1zM60 222h1v1h-1zM64 222h1v1h-1zM68 222h1v1h-1zM80 222h1v1h-1zM31 223h1v1h-1zM33 223h1v1h-1zM35 223h1v1h-1zM39 223h1v1h-1zM41 223h1v1h-1zM45 223h1v1h-1zM47 223h1v1h-1zM49 223h1v1h-1zM51 223h1v1h-1zM53 223h1v1h-1zM57 223h1v1h-1zM59 223h1v1h-1zM61 223h1v1h-1zM63 223h1v1h-1zM77 223h1v1h-1zM79 223h1v1h-1zM83 223h1v1h-1zM26 224h1v1h-1zM28 224h1v1h-1zM38 224h1v1h-1zM42 224h1v1h-1zM46 224h1v1h-1zM50 224h1v1h-1zM52 224h1v1h-1zM56 224h1v1h-1zM58 224h1v1h-1zM60 224h1v1h-1zM31 225h1v1h-1zM47 225h1v1h-1zM49 225h1v1h-1zM51 225h1v1h-1zM55 225h1v1h-1zM57 225h1v1h-1zM59 225h1v1h-1zM63 225h1v1h-1zM65 225h1v1h-1zM67 225h1v1h-1zM75 225h1v1h-1zM28 226h1v1h-1zM32 226h1v1h-1zM34 226h1v1h-1zM36 226h1v1h-1zM38 226h1v1h-1zM40 226h1v1h-1zM46 226h1v1h-1zM48 226h1v1h-1zM60 226h1v1h-1zM80 226h1v1h-1zM86 226h1v1h-1zM29 227h1v1h-1zM31 227h1v1h-1zM33 227h1v1h-1zM35 227h1v1h-1zM39 227h1v1h-1zM43 227h1v1h-1zM45 227h1v1h-1zM47 227h1v1h-1zM53 227h1v1h-1zM59 227h1v1h-1zM61 227h1v1h-1zM63 227h1v1h-1zM26 228h1v1h-1zM28 228h1v1h-1zM30 228h1v1h-1zM34 228h1v1h-1zM36 228h1v1h-1zM42 228h1v1h-1zM44 228h1v1h-1zM48 228h1v1h-1zM52 228h1v1h-1zM54 228h1v1h-1zM56 228h1v1h-1zM60 228h1v1h-1zM62 228h1v1h-1zM64 228h1v1h-1zM72 228h1v1h-1zM74 228h1v1h-1zM76 228h1v1h-1zM138 228h1v1h-1zM29 229h1v1h-1zM33 229h1v1h-1zM41 229h1v1h-1zM51 229h1v1h-1zM59 229h1v1h-1zM61 229h1v1h-1zM65 229h1v1h-1zM67 229h1v1h-1zM73 229h1v1h-1zM26 230h1v1h-1zM28 230h1v1h-1zM36 230h1v1h-1zM38 230h1v1h-1zM48 230h1v1h-1zM50 230h1v1h-1zM52 230h1v1h-1zM54 230h1v1h-1zM60 230h1v1h-1zM64 230h1v1h-1zM66 230h1v1h-1zM76 230h1v1h-1zM84 230h1v1h-1zM37 231h1v1h-1zM39 231h1v1h-1zM45 231h1v1h-1zM49 231h1v1h-1zM53 231h1v1h-1zM55 231h1v1h-1zM57 231h1v1h-1zM59 231h1v1h-1zM69 231h1v1h-1zM73 231h1v1h-1zM32 232h1v1h-1zM34 232h1v1h-1zM36 232h1v1h-1zM38 232h1v1h-1zM42 232h1v1h-1zM44 232h1v1h-1zM46 232h1v1h-1zM50 232h1v1h-1zM52 232h1v1h-1zM54 232h1v1h-1zM56 232h1v1h-1zM64 232h1v1h-1zM74 232h1v1h-1zM27 233h1v1h-1zM29 233h1v1h-1zM31 233h1v1h-1zM35 233h1v1h-1zM37 233h1v1h-1zM39 233h1v1h-1zM47 233h1v1h-1zM53 233h1v1h-1zM55 233h1v1h-1zM63 233h1v1h-1zM28 234h1v1h-1zM30 234h1v1h-1zM34 234h1v1h-1zM36 234h1v1h-1zM40 234h1v1h-1zM42 234h1v1h-1zM44 234h1v1h-1zM48 234h1v1h-1zM50 234h1v1h-1zM58 234h1v1h-1zM60 234h1v1h-1zM62 234h1v1h-1zM64 234h1v1h-1zM66 234h1v1h-1zM74 234h1v1h-1zM29 235h1v1h-1zM33 235h1v1h-1zM35 235h1v1h-1zM37 235h1v1h-1zM39 235h1v1h-1zM41 235h1v1h-1zM43 235h1v1h-1zM51 235h1v1h-1zM59 235h1v1h-1zM63 235h1v1h-1zM71 235h1v1h-1zM28 236h1v1h-1zM32 236h1v1h-1zM36 236h1v1h-1zM38 236h1v1h-1zM42 236h1v1h-1zM44 236h1v1h-1zM48 236h1v1h-1zM50 236h1v1h-1zM52 236h1v1h-1zM58 236h1v1h-1zM60 236h1v1h-1zM62 236h1v1h-1zM66 236h1v1h-1zM88 236h1v1h-1zM27 237h1v1h-1zM29 237h1v1h-1zM31 237h1v1h-1zM33 237h1v1h-1zM35 237h1v1h-1zM37 237h1v1h-1zM39 237h1v1h-1zM47 237h1v1h-1zM49 237h1v1h-1zM51 237h1v1h-1zM55 237h1v1h-1zM61 237h1v1h-1zM69 237h1v1h-1zM71 237h1v1h-1zM75 237h1v1h-1zM81 237h1v1h-1zM28 238h1v1h-1zM30 238h1v1h-1zM34 238h1v1h-1zM38 238h1v1h-1zM40 238h1v1h-1zM42 238h1v1h-1zM44 238h1v1h-1zM46 238h1v1h-1zM48 238h1v1h-1zM52 238h1v1h-1zM56 238h1v1h-1zM60 238h1v1h-1zM62 238h1v1h-1zM64 238h1v1h-1zM74 238h1v1h-1zM33 239h1v1h-1zM35 239h1v1h-1zM43 239h1v1h-1zM45 239h1v1h-1zM49 239h1v1h-1zM53 239h1v1h-1zM55 239h1v1h-1zM57 239h1v1h-1zM59 239h1v1h-1zM67 239h1v1h-1zM69 239h1v1h-1zM81 239h1v1h-1zM28 240h1v1h-1zM30 240h1v1h-1zM34 240h1v1h-1zM38 240h1v1h-1zM42 240h1v1h-1zM44 240h1v1h-1zM46 240h1v1h-1zM48 240h1v1h-1zM50 240h1v1h-1zM52 240h1v1h-1zM54 240h1v1h-1zM58 240h1v1h-1zM62 240h1v1h-1zM68 240h1v1h-1zM104 240h1v1h-1zM29 241h1v1h-1zM31 241h1v1h-1zM37 241h1v1h-1zM45 241h1v1h-1zM47 241h1v1h-1zM53 241h1v1h-1zM55 241h1v1h-1zM57 241h1v1h-1zM59 241h1v1h-1zM69 241h1v1h-1zM71 241h1v1h-1zM26 242h1v1h-1zM30 242h1v1h-1zM32 242h1v1h-1zM40 242h1v1h-1zM42 242h1v1h-1zM46 242h1v1h-1zM48 242h1v1h-1zM50 242h1v1h-1zM62 242h1v1h-1zM66 242h1v1h-1zM78 242h1v1h-1zM88 242h1v1h-1zM29 243h1v1h-1zM37 243h1v1h-1zM41 243h1v1h-1zM47 243h1v1h-1zM49 243h1v1h-1zM53 243h1v1h-1zM55 243h1v1h-1zM57 243h1v1h-1zM67 243h1v1h-1zM69 243h1v1h-1zM77 243h1v1h-1zM32 244h1v1h-1zM34 244h1v1h-1zM40 244h1v1h-1zM42 244h1v1h-1zM44 244h1v1h-1zM46 244h1v1h-1zM48 244h1v1h-1zM50 244h1v1h-1zM52 244h1v1h-1zM54 244h1v1h-1zM56 244h1v1h-1zM58 244h1v1h-1zM60 244h1v1h-1zM64 244h1v1h-1zM66 244h1v1h-1zM68 244h1v1h-1zM70 244h1v1h-1zM27 245h1v1h-1zM33 245h1v1h-1zM35 245h1v1h-1zM39 245h1v1h-1zM41 245h1v1h-1zM43 245h1v1h-1zM45 245h1v1h-1zM47 245h1v1h-1zM49 245h1v1h-1zM53 245h1v1h-1zM69 245h1v1h-1zM81 245h1v1h-1zM89 245h1v1h-1zM32 246h1v1h-1zM38 246h1v1h-1zM42 246h1v1h-1zM44 246h1v1h-1zM48 246h1v1h-1zM56 246h1v1h-1zM27 247h1v1h-1zM33 247h1v1h-1zM35 247h1v1h-1zM37 247h1v1h-1zM39 247h1v1h-1zM41 247h1v1h-1zM43 247h1v1h-1zM49 247h1v1h-1zM51 247h1v1h-1zM61 247h1v1h-1zM65 247h1v1h-1zM81 247h1v1h-1zM89 247h1v1h-1zM26 248h1v1h-1zM30 248h1v1h-1zM34 248h1v1h-1zM44 248h1v1h-1zM46 248h1v1h-1zM48 248h1v1h-1zM62 248h1v1h-1zM68 248h1v1h-1zM29 249h1v1h-1zM35 249h1v1h-1zM39 249h1v1h-1zM43 249h1v1h-1zM45 249h1v1h-1zM49 249h1v1h-1zM53 249h1v1h-1zM57 249h1v1h-1zM28 250h1v1h-1zM32 250h1v1h-1zM34 250h1v1h-1zM50 250h1v1h-1zM52 250h1v1h-1zM54 250h1v1h-1zM60 250h1v1h-1zM35 251h1v1h-1zM47 251h1v1h-1zM53 251h1v1h-1zM59 251h1v1h-1zM69 251h1v1h-1zM32 252h1v1h-1zM44 252h1v1h-1zM46 252h1v1h-1zM50 252h1v1h-1zM52 252h1v1h-1zM54 252h1v1h-1zM58 252h1v1h-1zM64 252h1v1h-1zM74 252h1v1h-1zM31 253h1v1h-1zM35 253h1v1h-1zM41 253h1v1h-1zM43 253h1v1h-1zM53 253h1v1h-1zM61 253h1v1h-1zM65 253h1v1h-1zM83 253h1v1h-1zM85 253h1v1h-1zM32 254h1v1h-1zM34 254h1v1h-1zM40 254h1v1h-1zM42 254h1v1h-1zM44 254h1v1h-1zM60 254h1v1h-1zM66 254h1v1h-1zM68 254h1v1h-1zM72 254h1v1h-1zM29 255h1v1h-1zM45 255h1v1h-1zM49 255h1v1h-1zM51 255h1v1h-1zM53 255h1v1h-1zM55 255h1v1h-1zM67 255h1v1h-1zM217 255h1v1h-1zM34 256h1v1h-1zM42 256h1v1h-1zM44 256h1v1h-1zM48 256h1v1h-1zM54 256h1v1h-1zM29 257h1v1h-1zM31 257h1v1h-1zM35 257h1v1h-1zM39 257h1v1h-1zM41 257h1v1h-1zM51 257h1v1h-1zM63 257h1v1h-1zM36 258h1v1h-1zM40 258h1v1h-1zM42 258h1v1h-1zM50 258h1v1h-1zM52 258h1v1h-1zM58 258h1v1h-1zM62 258h1v1h-1zM35 259h1v1h-1zM39 259h1v1h-1zM55 259h1v1h-1zM57 259h1v1h-1zM59 259h1v1h-1zM63 259h1v1h-1zM73 259h1v1h-1zM34 260h1v1h-1zM40 260h1v1h-1zM52 260h1v1h-1zM66 260h1v1h-1zM70 260h1v1h-1zM74 260h1v1h-1zM27 261h1v1h-1zM29 261h1v1h-1zM31 261h1v1h-1zM33 261h1v1h-1zM45 261h1v1h-1zM47 261h1v1h-1zM49 261h1v1h-1zM69 261h1v1h-1zM38 262h1v1h-1zM40 262h1v1h-1zM44 262h1v1h-1zM54 262h1v1h-1zM68 262h1v1h-1zM27 263h1v1h-1zM31 263h1v1h-1zM41 263h1v1h-1zM57 263h1v1h-1zM30 264h1v1h-1zM46 264h1v1h-1zM62 264h1v1h-1zM66 264h1v1h-1zM29 265h1v1h-1zM35 265h1v1h-1zM41 265h1v1h-1zM45 265h1v1h-1zM47 265h1v1h-1zM51 265h1v1h-1zM55 265h1v1h-1zM63 265h1v1h-1zM79 265h1v1h-1zM30 266h1v1h-1zM34 266h1v1h-1zM42 266h1v1h-1zM44 266h1v1h-1zM31 267h1v1h-1zM39 267h1v1h-1zM53 267h1v1h-1zM63 267h1v1h-1z" fill="#999"/><path d="M33 175h1v1h-1zM39 175h1v1h-1zM47 175h1v1h-1zM55 175h1v1h-1zM32 176h1v1h-1zM34 176h1v1h-1zM38 176h1v1h-1zM44 176h1v1h-1zM48 176h1v1h-1zM50 176h1v1h-1zM54 176h1v1h-1zM31 177h1v1h-1zM45 177h1v1h-1zM49 177h1v1h-1zM53 177h1v1h-1zM55 177h1v1h-1zM34 178h1v1h-1zM40 178h1v1h-1zM44 178h1v1h-1zM50 178h1v1h-1zM52 178h1v1h-1zM56 178h1v1h-1zM31 179h1v1h-1zM33 179h1v1h-1zM35 179h1v1h-1zM41 179h1v1h-1zM43 179h1v1h-1zM45 179h1v1h-1zM47 179h1v1h-1zM49 179h1v1h-1zM53 179h1v1h-1zM28 180h1v1h-1zM34 180h1v1h-1zM36 180h1v1h-1zM42 180h1v1h-1zM44 180h1v1h-1zM29 181h1v1h-1zM33 181h1v1h-1zM35 181h1v1h-1zM43 181h1v1h-1zM47 181h1v1h-1zM49 181h1v1h-1zM51 181h1v1h-1zM55 181h1v1h-1zM30 182h1v1h-1zM36 182h1v1h-1zM33 183h1v1h-1zM35 183h1v1h-1zM37 183h1v1h-1zM39 183h1v1h-1zM41 183h1v1h-1zM43 183h1v1h-1zM49 183h1v1h-1zM53 183h1v1h-1zM57 183h1v1h-1zM32 184h1v1h-1zM42 184h1v1h-1zM52 184h1v1h-1zM54 184h1v1h-1zM56 184h1v1h-1zM31 185h1v1h-1zM39 185h1v1h-1zM41 185h1v1h-1zM45 185h1v1h-1zM49 185h1v1h-1zM51 185h1v1h-1zM57 185h1v1h-1zM26 186h1v1h-1zM42 186h1v1h-1zM46 186h1v1h-1zM50 186h1v1h-1zM52 186h1v1h-1zM54 186h1v1h-1zM56 186h1v1h-1zM35 187h1v1h-1zM37 187h1v1h-1zM47 187h1v1h-1zM49 187h1v1h-1zM55 187h1v1h-1zM57 187h1v1h-1zM32 188h1v1h-1zM38 188h1v1h-1zM42 188h1v1h-1zM54 188h1v1h-1zM27 189h1v1h-1zM37 189h1v1h-1zM39 189h1v1h-1zM43 189h1v1h-1zM51 189h1v1h-1zM55 189h1v1h-1zM26 190h1v1h-1zM28 190h1v1h-1zM34 190h1v1h-1zM54 190h1v1h-1zM56 190h1v1h-1zM33 191h1v1h-1zM39 191h1v1h-1zM49 191h1v1h-1zM34 192h1v1h-1zM38 192h1v1h-1zM44 192h1v1h-1zM50 192h1v1h-1zM52 192h1v1h-1zM54 192h1v1h-1zM35 193h1v1h-1zM37 193h1v1h-1zM41 193h1v1h-1zM49 193h1v1h-1zM55 193h1v1h-1zM57 193h1v1h-1zM26 194h1v1h-1zM32 194h1v1h-1zM34 194h1v1h-1zM36 194h1v1h-1zM44 194h1v1h-1zM48 194h1v1h-1zM52 194h1v1h-1zM54 194h1v1h-1zM56 194h1v1h-1zM27 195h1v1h-1zM33 195h1v1h-1zM35 195h1v1h-1zM47 195h1v1h-1zM49 195h1v1h-1zM57 195h1v1h-1zM36 196h1v1h-1zM42 196h1v1h-1zM44 196h1v1h-1zM52 196h1v1h-1zM56 196h1v1h-1zM27 197h1v1h-1zM29 197h1v1h-1zM33 197h1v1h-1zM39 197h1v1h-1zM47 197h1v1h-1zM51 197h1v1h-1zM26 198h1v1h-1zM28 198h1v1h-1zM30 198h1v1h-1zM38 198h1v1h-1zM40 198h1v1h-1zM48 198h1v1h-1zM54 198h1v1h-1zM33 199h1v1h-1zM37 199h1v1h-1zM39 199h1v1h-1zM41 199h1v1h-1zM49 199h1v1h-1zM30 200h1v1h-1zM36 200h1v1h-1zM40 200h1v1h-1zM48 200h1v1h-1zM29 201h1v1h-1zM31 201h1v1h-1zM33 201h1v1h-1zM43 201h1v1h-1zM45 201h1v1h-1zM51 201h1v1h-1zM55 201h1v1h-1zM57 201h1v1h-1zM34 202h1v1h-1zM38 202h1v1h-1zM40 202h1v1h-1zM52 202h1v1h-1zM33 203h1v1h-1zM39 203h1v1h-1zM55 203h1v1h-1zM34 204h1v1h-1zM38 204h1v1h-1zM42 204h1v1h-1zM44 204h1v1h-1zM54 204h1v1h-1zM27 205h1v1h-1zM29 205h1v1h-1zM33 205h1v1h-1zM37 205h1v1h-1zM53 205h1v1h-1zM57 205h1v1h-1zM32 206h1v1h-1zM34 206h1v1h-1zM36 206h1v1h-1zM38 206h1v1h-1zM42 206h1v1h-1zM44 206h1v1h-1zM46 206h1v1h-1zM29 207h1v1h-1zM31 207h1v1h-1zM33 207h1v1h-1zM47 207h1v1h-1zM53 207h1v1h-1zM57 207h1v1h-1zM32 208h1v1h-1zM34 208h1v1h-1zM36 208h1v1h-1zM40 208h1v1h-1zM44 208h1v1h-1zM48 208h1v1h-1zM50 208h1v1h-1zM52 208h1v1h-1zM31 209h1v1h-1zM33 209h1v1h-1zM41 209h1v1h-1zM49 209h1v1h-1zM34 210h1v1h-1zM40 210h1v1h-1zM44 210h1v1h-1zM56 210h1v1h-1zM39 211h1v1h-1zM45 211h1v1h-1zM51 211h1v1h-1zM53 211h1v1h-1zM32 212h1v1h-1zM36 212h1v1h-1zM46 212h1v1h-1zM48 212h1v1h-1zM52 212h1v1h-1zM54 212h1v1h-1zM27 213h1v1h-1zM29 213h1v1h-1zM37 213h1v1h-1zM47 213h1v1h-1zM49 213h1v1h-1zM57 213h1v1h-1zM38 214h1v1h-1zM46 214h1v1h-1zM50 214h1v1h-1zM52 214h1v1h-1zM27 215h1v1h-1zM33 215h1v1h-1zM37 215h1v1h-1zM39 215h1v1h-1zM43 215h1v1h-1zM51 215h1v1h-1zM55 215h1v1h-1zM34 216h1v1h-1zM36 216h1v1h-1zM38 216h1v1h-1zM44 216h1v1h-1zM46 216h1v1h-1zM56 216h1v1h-1z" fill="#9a9a9a"/></g><rect x="25.2" y="169.5" width="2.2" height="99" fill="#222"/><path d="M27 104h1v1h-1zM27 107h1v1h-1zM27 110h1v1h-1zM27 113h1v1h-1zM27 116h1v1h-1zM27 119h1v1h-1zM27 122h1v1h-1zM27 125h1v1h-1zM27 128h1v1h-1zM27 131h1v1h-1zM27 134h1v1h-1zM27 137h1v1h-1zM27 140h1v1h-1zM27 143h1v1h-1zM27 146h1v1h-1zM27 149h1v1h-1zM27 152h1v1h-1zM27 155h1v1h-1zM27 158h1v1h-1zM27 161h1v1h-1zM27 164h1v1h-1zM27 167h1v1h-1z" fill="#888"/><path d="M31 192.5h15v2h-15zM36.5 189.5h2v7h-2zM38 202h2v2h-2zM45 186h1.5v1.5h-1.5z" fill="#333"/><rect x="28" y="266.3" width="40" height="1" fill="#ccc"/><text transform="translate(22.70,28.60) scale(0.92,1)" font-size="34.5" style="font-family:'Liberation Sans',sans-serif" stroke="#000" stroke-width="0.45">A</text><text transform="translate(24.30,55.60) scale(1,1.28)" font-size="7.35" style="font-family:'Liberation Mono',monospace;font-weight:bold">G: A</text><text x="96.70" y="64.20" font-size="8.6" style="font-family:'Liberation Mono',monospace;font-weight:bold;font-weight:normal" text-anchor="start" >PMT3 VS PMT1</text><path d="M24.80 269.80v4.2M24.80 269.80h-4.2M40.27 269.80v4.2M24.80 254.45h-4.2M49.32 269.80v4.2M24.80 245.47h-4.2M55.75 269.80v4.2M24.80 239.09h-4.2M60.73 269.80v4.2M24.80 234.15h-4.2M64.80 269.80v4.2M24.80 230.11h-4.2M68.24 269.80v4.2M24.80 226.70h-4.2M71.22 269.80v4.2M24.80 223.74h-4.2M73.85 269.80v4.2M24.80 221.13h-4.2M76.20 269.80v4.2M24.80 218.80h-4.2M91.67 269.80v4.2M24.80 203.45h-4.2M100.72 269.80v4.2M24.80 194.47h-4.2M107.15 269.80v4.2M24.80 188.09h-4.2M112.13 269.80v4.2M24.80 183.15h-4.2M116.20 269.80v4.2M24.80 179.11h-4.2M119.64 269.80v4.2M24.80 175.70h-4.2M122.62 269.80v4.2M24.80 172.74h-4.2M125.25 269.80v4.2M24.80 170.13h-4.2M127.60 269.80v4.2M24.80 167.80h-4.2M143.07 269.80v4.2M24.80 152.45h-4.2M152.12 269.80v4.2M24.80 143.47h-4.2M158.55 269.80v4.2M24.80 137.09h-4.2M163.53 269.80v4.2M24.80 132.15h-4.2M167.60 269.80v4.2M24.80 128.11h-4.2M171.04 269.80v4.2M24.80 124.70h-4.2M174.02 269.80v4.2M24.80 121.74h-4.2M176.65 269.80v4.2M24.80 119.13h-4.2M179.00 269.80v4.2M24.80 116.80h-4.2M194.47 269.80v4.2M24.80 101.45h-4.2M203.52 269.80v4.2M24.80 92.47h-4.2M209.95 269.80v4.2M24.80 86.09h-4.2M214.93 269.80v4.2M24.80 81.15h-4.2M219.00 269.80v4.2M24.80 77.11h-4.2M222.44 269.80v4.2M24.80 73.70h-4.2M225.42 269.80v4.2M24.80 70.74h-4.2M228.05 269.80v4.2M24.80 68.13h-4.2M230.40 269.80v4.2M24.80 65.80h-4.2" stroke="#000" stroke-width="1.1" fill="none"/><rect x="24.80" y="65.80" width="205.60" height="204.00" fill="none" stroke="#000" stroke-width="1.7"/><line x1="116.85" y1="65.80" x2="116.85" y2="169.20" stroke="#000" stroke-width="1.6"/><line x1="114.90" y1="169.20" x2="114.90" y2="269.80" stroke="#000" stroke-width="1.6"/><line x1="24.80" y1="169.20" x2="115.88" y2="169.20" stroke="#000" stroke-width="1.6"/><line x1="115.88" y1="168.20" x2="230.40" y2="168.20" stroke="#000" stroke-width="1.6"/><text transform="translate(19.90,273.32) rotate(-90) scale(1,1.12)" font-size="8" style="font-family:'Liberation Mono',monospace;font-weight:bold">.1</text><text transform="translate(19.90,218.85) rotate(-90) scale(1,1.12)" font-size="8" style="font-family:'Liberation Mono',monospace;font-weight:bold">1</text><text transform="translate(19.90,171.72) rotate(-90) scale(1,1.12)" font-size="8" style="font-family:'Liberation Mono',monospace;font-weight:bold">10</text><text transform="translate(19.90,126.60) rotate(-90) scale(1,1.12)" font-size="8" style="font-family:'Liberation Mono',monospace;font-weight:bold">100</text><text transform="translate(19.90,85.40) rotate(-90) scale(1,1.12)" font-size="8" style="font-family:'Liberation Mono',monospace;font-weight:bold">1000</text><text transform="translate(10.60,185.39) rotate(-90)" font-size="8.2" style="font-family:'Liberation Mono',monospace;font-weight:bold">HOECHST</text><text transform="translate(21.00,281.10) scale(1,1.18)" font-size="7.8" style="font-family:'Liberation Mono',monospace;font-weight:bold">.1</text><text transform="translate(76.00,281.10) scale(1,1.18)" font-size="7.8" style="font-family:'Liberation Mono',monospace;font-weight:bold">1</text><text transform="translate(122.40,281.10) scale(1,1.18)" font-size="7.8" style="font-family:'Liberation Mono',monospace;font-weight:bold">10</text><text transform="translate(169.80,281.10) scale(1,1.18)" font-size="7.8" style="font-family:'Liberation Mono',monospace;font-weight:bold">100</text><text transform="translate(210.30,281.10) scale(1,1.18)" font-size="7.8" style="font-family:'Liberation Mono',monospace;font-weight:bold">1000</text><text x="121.70" y="288.70" font-size="8.6" style="font-family:'Liberation Mono',monospace;font-weight:bold" text-anchor="start" >PI</text><text transform="translate(31.30,168.00) scale(1,1.2)" font-size="7.6" style="font-family:'Liberation Mono',monospace;font-weight:bold" text-anchor="start">E</text><text transform="translate(110.55,168.30) scale(1,1.2)" font-size="7.6" style="font-family:'Liberation Mono',monospace;font-weight:bold" text-anchor="end">F</text><text transform="translate(31.30,265.30) scale(1,1.2)" font-size="7.6" style="font-family:'Liberation Mono',monospace;font-weight:bold" text-anchor="start">D</text><text transform="translate(109.30,265.30) scale(1,1.2)" font-size="7.6" style="font-family:'Liberation Mono',monospace;font-weight:bold" text-anchor="end">G</text><rect x="25.7" y="65.5" width="90.3" height="1.15" fill="#a0a0a0"/><path d="M24.8 67.1H117" stroke="#222" stroke-width="0.8"/><rect x="82.28" y="148.80" width="30.12" height="11.5" fill="#fff"/><text x="111.60" y="158.40" font-size="12.5" style="font-family:'Liberation Serif',serif;font-weight:bold" text-anchor="end" >2.8%</text><rect x="195.97" y="149.40" width="30.12" height="11.5" fill="#fff"/><text x="225.30" y="159.00" font-size="12.5" style="font-family:'Liberation Serif',serif;font-weight:bold" text-anchor="end" >6.1%</text><rect x="74.33" y="245.10" width="36.38" height="11.5" fill="#fff"/><text x="109.90" y="254.70" font-size="12.5" style="font-family:'Liberation Serif',serif;font-weight:bold" text-anchor="end" >91.5%</text><rect x="195.68" y="245.10" width="30.12" height="11.5" fill="#fff"/><text x="225.00" y="254.70" font-size="12.5" style="font-family:'Liberation Serif',serif;font-weight:bold" text-anchor="end" >0.3%</text><g filter="url(#bd)"><path d="M438 130h1v1h-1zM446 130h1v1h-1zM448 130h1v1h-1zM450 130h1v1h-1zM435 133h1v1h-1zM441 133h1v1h-1zM451 133h1v1h-1zM436 134h1v1h-1zM446 134h1v1h-1zM448 134h1v1h-1zM454 134h1v1h-1zM460 134h1v1h-1zM449 135h1v1h-1zM446 136h1v1h-1zM448 136h1v1h-1zM450 136h1v1h-1zM452 136h1v1h-1zM454 136h1v1h-1zM441 137h1v1h-1zM443 137h1v1h-1zM445 137h1v1h-1zM447 137h1v1h-1zM449 137h1v1h-1zM453 137h1v1h-1zM457 137h1v1h-1zM438 138h1v1h-1zM440 138h1v1h-1zM442 138h1v1h-1zM444 138h1v1h-1zM446 138h1v1h-1zM448 138h1v1h-1zM450 138h1v1h-1zM452 138h1v1h-1zM454 138h1v1h-1zM460 138h1v1h-1zM441 139h1v1h-1zM445 139h1v1h-1zM447 139h1v1h-1zM449 139h1v1h-1zM453 139h1v1h-1zM455 139h1v1h-1zM430 140h1v1h-1zM436 140h1v1h-1zM438 140h1v1h-1zM440 140h1v1h-1zM442 140h1v1h-1zM444 140h1v1h-1zM448 140h1v1h-1zM452 140h1v1h-1zM454 140h1v1h-1zM456 140h1v1h-1zM458 140h1v1h-1zM439 141h1v1h-1zM441 141h1v1h-1zM443 141h1v1h-1zM445 141h1v1h-1zM447 141h1v1h-1zM449 141h1v1h-1zM453 141h1v1h-1zM455 141h1v1h-1zM457 141h1v1h-1zM461 141h1v1h-1zM463 141h1v1h-1zM434 142h1v1h-1zM440 142h1v1h-1zM442 142h1v1h-1zM446 142h1v1h-1zM448 142h1v1h-1zM452 142h1v1h-1zM454 142h1v1h-1zM456 142h1v1h-1zM460 142h1v1h-1zM439 143h1v1h-1zM441 143h1v1h-1zM443 143h1v1h-1zM445 143h1v1h-1zM447 143h1v1h-1zM449 143h1v1h-1zM451 143h1v1h-1zM453 143h1v1h-1zM455 143h1v1h-1zM457 143h1v1h-1zM459 143h1v1h-1zM461 143h1v1h-1zM436 144h1v1h-1zM440 144h1v1h-1zM442 144h1v1h-1zM444 144h1v1h-1zM446 144h1v1h-1zM448 144h1v1h-1zM450 144h1v1h-1zM452 144h1v1h-1zM454 144h1v1h-1zM456 144h1v1h-1zM458 144h1v1h-1zM460 144h1v1h-1zM462 144h1v1h-1zM435 145h1v1h-1zM437 145h1v1h-1zM439 145h1v1h-1zM441 145h1v1h-1zM443 145h1v1h-1zM445 145h1v1h-1zM449 145h1v1h-1zM451 145h1v1h-1zM453 145h1v1h-1zM455 145h1v1h-1zM459 145h1v1h-1zM438 146h1v1h-1zM440 146h1v1h-1zM442 146h1v1h-1zM444 146h1v1h-1zM448 146h1v1h-1zM450 146h1v1h-1zM454 146h1v1h-1zM456 146h1v1h-1zM460 146h1v1h-1zM462 146h1v1h-1zM435 147h1v1h-1zM439 147h1v1h-1zM441 147h1v1h-1zM443 147h1v1h-1zM445 147h1v1h-1zM447 147h1v1h-1zM449 147h1v1h-1zM451 147h1v1h-1zM455 147h1v1h-1zM457 147h1v1h-1zM459 147h1v1h-1zM436 148h1v1h-1zM442 148h1v1h-1zM444 148h1v1h-1zM446 148h1v1h-1zM450 148h1v1h-1zM452 148h1v1h-1zM454 148h1v1h-1zM437 149h1v1h-1zM439 149h1v1h-1zM441 149h1v1h-1zM445 149h1v1h-1zM449 149h1v1h-1zM451 149h1v1h-1zM453 149h1v1h-1zM455 149h1v1h-1zM461 149h1v1h-1zM436 150h1v1h-1zM438 150h1v1h-1zM440 150h1v1h-1zM442 150h1v1h-1zM444 150h1v1h-1zM448 150h1v1h-1zM450 150h1v1h-1zM452 150h1v1h-1zM454 150h1v1h-1zM456 150h1v1h-1zM458 150h1v1h-1zM460 150h1v1h-1zM464 150h1v1h-1zM439 151h1v1h-1zM445 151h1v1h-1zM447 151h1v1h-1zM449 151h1v1h-1zM451 151h1v1h-1zM453 151h1v1h-1zM455 151h1v1h-1zM457 151h1v1h-1zM461 151h1v1h-1zM438 152h1v1h-1zM440 152h1v1h-1zM446 152h1v1h-1zM450 152h1v1h-1zM452 152h1v1h-1zM454 152h1v1h-1zM456 152h1v1h-1zM460 152h1v1h-1zM462 152h1v1h-1zM439 153h1v1h-1zM441 153h1v1h-1zM445 153h1v1h-1zM447 153h1v1h-1zM449 153h1v1h-1zM451 153h1v1h-1zM453 153h1v1h-1zM455 153h1v1h-1zM457 153h1v1h-1zM459 153h1v1h-1zM461 153h1v1h-1zM432 154h1v1h-1zM438 154h1v1h-1zM440 154h1v1h-1zM442 154h1v1h-1zM444 154h1v1h-1zM446 154h1v1h-1zM448 154h1v1h-1zM450 154h1v1h-1zM452 154h1v1h-1zM454 154h1v1h-1zM456 154h1v1h-1zM462 154h1v1h-1zM464 154h1v1h-1zM439 155h1v1h-1zM443 155h1v1h-1zM445 155h1v1h-1zM447 155h1v1h-1zM449 155h1v1h-1zM451 155h1v1h-1zM453 155h1v1h-1zM455 155h1v1h-1zM457 155h1v1h-1zM461 155h1v1h-1zM440 156h1v1h-1zM442 156h1v1h-1zM444 156h1v1h-1zM446 156h1v1h-1zM448 156h1v1h-1zM450 156h1v1h-1zM452 156h1v1h-1zM454 156h1v1h-1zM456 156h1v1h-1zM458 156h1v1h-1zM460 156h1v1h-1zM462 156h1v1h-1zM464 156h1v1h-1zM437 157h1v1h-1zM441 157h1v1h-1zM443 157h1v1h-1zM447 157h1v1h-1zM449 157h1v1h-1zM451 157h1v1h-1zM453 157h1v1h-1zM455 157h1v1h-1zM457 157h1v1h-1zM461 157h1v1h-1zM467 157h1v1h-1zM440 158h1v1h-1zM444 158h1v1h-1zM446 158h1v1h-1zM448 158h1v1h-1zM450 158h1v1h-1zM452 158h1v1h-1zM454 158h1v1h-1zM460 158h1v1h-1zM462 158h1v1h-1zM439 159h1v1h-1zM441 159h1v1h-1zM443 159h1v1h-1zM445 159h1v1h-1zM447 159h1v1h-1zM449 159h1v1h-1zM451 159h1v1h-1zM453 159h1v1h-1zM455 159h1v1h-1zM457 159h1v1h-1zM459 159h1v1h-1zM436 160h1v1h-1zM440 160h1v1h-1zM444 160h1v1h-1zM446 160h1v1h-1zM448 160h1v1h-1zM450 160h1v1h-1zM452 160h1v1h-1zM454 160h1v1h-1zM456 160h1v1h-1zM458 160h1v1h-1zM460 160h1v1h-1zM439 161h1v1h-1zM441 161h1v1h-1zM443 161h1v1h-1zM445 161h1v1h-1zM447 161h1v1h-1zM449 161h1v1h-1zM451 161h1v1h-1zM453 161h1v1h-1zM455 161h1v1h-1zM457 161h1v1h-1zM459 161h1v1h-1zM463 161h1v1h-1zM444 162h1v1h-1zM446 162h1v1h-1zM448 162h1v1h-1zM452 162h1v1h-1zM456 162h1v1h-1zM458 162h1v1h-1zM460 162h1v1h-1zM462 162h1v1h-1zM443 163h1v1h-1zM445 163h1v1h-1zM447 163h1v1h-1zM449 163h1v1h-1zM451 163h1v1h-1zM453 163h1v1h-1zM455 163h1v1h-1zM457 163h1v1h-1zM442 164h1v1h-1zM444 164h1v1h-1zM446 164h1v1h-1zM448 164h1v1h-1zM452 164h1v1h-1zM454 164h1v1h-1zM456 164h1v1h-1zM458 164h1v1h-1zM466 164h1v1h-1zM439 165h1v1h-1zM445 165h1v1h-1zM449 165h1v1h-1zM451 165h1v1h-1zM453 165h1v1h-1zM459 165h1v1h-1zM448 166h1v1h-1zM450 166h1v1h-1zM452 166h1v1h-1zM456 166h1v1h-1zM458 166h1v1h-1zM447 167h1v1h-1zM451 167h1v1h-1zM453 167h1v1h-1zM457 167h1v1h-1zM459 167h1v1h-1zM461 167h1v1h-1zM463 167h1v1h-1zM446 168h1v1h-1zM448 168h1v1h-1zM452 168h1v1h-1zM458 168h1v1h-1zM443 169h1v1h-1zM451 169h1v1h-1zM453 169h1v1h-1zM450 170h1v1h-1zM452 170h1v1h-1zM458 170h1v1h-1zM451 171h1v1h-1zM453 171h1v1h-1zM449 173h1v1h-1zM438 176h1v1h-1zM326 180h1v1h-1zM462 180h1v1h-1zM325 185h1v1h-1zM330 190h1v1h-1zM332 190h1v1h-1zM335 191h1v1h-1zM323 193h1v1h-1zM327 193h1v1h-1zM331 193h1v1h-1zM328 194h1v1h-1zM321 195h1v1h-1zM330 196h1v1h-1zM332 196h1v1h-1zM336 196h1v1h-1zM311 197h1v1h-1zM325 197h1v1h-1zM328 198h1v1h-1zM330 198h1v1h-1zM332 198h1v1h-1zM336 198h1v1h-1zM340 198h1v1h-1zM321 199h1v1h-1zM325 199h1v1h-1zM327 199h1v1h-1zM343 199h1v1h-1zM320 200h1v1h-1zM326 200h1v1h-1zM328 200h1v1h-1zM334 200h1v1h-1zM340 200h1v1h-1zM352 200h1v1h-1zM319 201h1v1h-1zM329 201h1v1h-1zM318 202h1v1h-1zM324 202h1v1h-1zM328 202h1v1h-1zM330 202h1v1h-1zM332 202h1v1h-1zM325 203h1v1h-1zM320 204h1v1h-1zM322 204h1v1h-1zM324 204h1v1h-1zM326 204h1v1h-1zM330 204h1v1h-1zM332 204h1v1h-1zM334 204h1v1h-1zM338 204h1v1h-1zM311 205h1v1h-1zM313 205h1v1h-1zM317 205h1v1h-1zM319 205h1v1h-1zM321 205h1v1h-1zM323 205h1v1h-1zM325 205h1v1h-1zM327 205h1v1h-1zM333 205h1v1h-1zM335 205h1v1h-1zM337 205h1v1h-1zM339 205h1v1h-1zM320 206h1v1h-1zM322 206h1v1h-1zM324 206h1v1h-1zM326 206h1v1h-1zM330 206h1v1h-1zM332 206h1v1h-1zM334 206h1v1h-1zM315 207h1v1h-1zM317 207h1v1h-1zM319 207h1v1h-1zM325 207h1v1h-1zM327 207h1v1h-1zM333 207h1v1h-1zM337 207h1v1h-1zM339 207h1v1h-1zM343 207h1v1h-1zM320 208h1v1h-1zM322 208h1v1h-1zM324 208h1v1h-1zM326 208h1v1h-1zM328 208h1v1h-1zM332 208h1v1h-1zM334 208h1v1h-1zM336 208h1v1h-1zM317 209h1v1h-1zM319 209h1v1h-1zM321 209h1v1h-1zM323 209h1v1h-1zM327 209h1v1h-1zM329 209h1v1h-1zM331 209h1v1h-1zM335 209h1v1h-1zM341 209h1v1h-1zM343 209h1v1h-1zM312 210h1v1h-1zM314 210h1v1h-1zM328 210h1v1h-1zM330 210h1v1h-1zM332 210h1v1h-1zM336 210h1v1h-1zM311 211h1v1h-1zM315 211h1v1h-1zM317 211h1v1h-1zM319 211h1v1h-1zM321 211h1v1h-1zM323 211h1v1h-1zM329 211h1v1h-1zM331 211h1v1h-1zM335 211h1v1h-1zM320 212h1v1h-1zM322 212h1v1h-1zM330 212h1v1h-1zM332 212h1v1h-1zM334 212h1v1h-1zM336 212h1v1h-1zM340 212h1v1h-1zM313 213h1v1h-1zM317 213h1v1h-1zM323 213h1v1h-1zM325 213h1v1h-1zM329 213h1v1h-1zM331 213h1v1h-1zM333 213h1v1h-1zM335 213h1v1h-1zM312 214h1v1h-1zM314 214h1v1h-1zM316 214h1v1h-1zM320 214h1v1h-1zM322 214h1v1h-1zM324 214h1v1h-1zM328 214h1v1h-1zM330 214h1v1h-1zM332 214h1v1h-1zM317 215h1v1h-1zM319 215h1v1h-1zM323 215h1v1h-1zM325 215h1v1h-1zM329 215h1v1h-1zM333 215h1v1h-1zM335 215h1v1h-1zM337 215h1v1h-1zM318 216h1v1h-1zM320 216h1v1h-1zM322 216h1v1h-1zM324 216h1v1h-1zM332 216h1v1h-1zM336 216h1v1h-1zM338 216h1v1h-1zM340 216h1v1h-1zM313 217h1v1h-1zM321 217h1v1h-1zM323 217h1v1h-1zM331 217h1v1h-1zM333 217h1v1h-1zM335 217h1v1h-1zM337 217h1v1h-1zM339 217h1v1h-1zM345 217h1v1h-1zM312 218h1v1h-1zM316 218h1v1h-1zM326 218h1v1h-1zM328 218h1v1h-1zM330 218h1v1h-1zM332 218h1v1h-1zM334 218h1v1h-1zM340 218h1v1h-1zM350 218h1v1h-1zM313 219h1v1h-1zM317 219h1v1h-1zM321 219h1v1h-1zM323 219h1v1h-1zM337 219h1v1h-1zM339 219h1v1h-1zM316 220h1v1h-1zM318 220h1v1h-1zM322 220h1v1h-1zM324 220h1v1h-1zM326 220h1v1h-1zM330 220h1v1h-1zM332 220h1v1h-1zM336 220h1v1h-1zM338 220h1v1h-1zM340 220h1v1h-1zM315 221h1v1h-1zM323 221h1v1h-1zM325 221h1v1h-1zM327 221h1v1h-1zM329 221h1v1h-1zM333 221h1v1h-1zM335 221h1v1h-1zM339 221h1v1h-1zM314 222h1v1h-1zM316 222h1v1h-1zM318 222h1v1h-1zM320 222h1v1h-1zM326 222h1v1h-1zM330 222h1v1h-1zM332 222h1v1h-1zM336 222h1v1h-1zM317 223h1v1h-1zM325 223h1v1h-1zM327 223h1v1h-1zM329 223h1v1h-1zM331 223h1v1h-1zM333 223h1v1h-1zM335 223h1v1h-1zM339 223h1v1h-1zM341 223h1v1h-1zM347 223h1v1h-1zM318 224h1v1h-1zM320 224h1v1h-1zM322 224h1v1h-1zM324 224h1v1h-1zM326 224h1v1h-1zM330 224h1v1h-1zM336 224h1v1h-1zM338 224h1v1h-1zM311 225h1v1h-1zM313 225h1v1h-1zM317 225h1v1h-1zM323 225h1v1h-1zM325 225h1v1h-1zM327 225h1v1h-1zM329 225h1v1h-1zM333 225h1v1h-1zM335 225h1v1h-1zM337 225h1v1h-1zM343 225h1v1h-1zM314 226h1v1h-1zM316 226h1v1h-1zM318 226h1v1h-1zM324 226h1v1h-1zM326 226h1v1h-1zM328 226h1v1h-1zM330 226h1v1h-1zM332 226h1v1h-1zM338 226h1v1h-1zM315 227h1v1h-1zM317 227h1v1h-1zM319 227h1v1h-1zM323 227h1v1h-1zM325 227h1v1h-1zM327 227h1v1h-1zM329 227h1v1h-1zM341 227h1v1h-1zM320 228h1v1h-1zM324 228h1v1h-1zM328 228h1v1h-1zM332 228h1v1h-1zM334 228h1v1h-1zM336 228h1v1h-1zM344 228h1v1h-1zM317 229h1v1h-1zM323 229h1v1h-1zM327 229h1v1h-1zM331 229h1v1h-1zM333 229h1v1h-1zM335 229h1v1h-1zM337 229h1v1h-1zM339 229h1v1h-1zM314 230h1v1h-1zM316 230h1v1h-1zM318 230h1v1h-1zM320 230h1v1h-1zM324 230h1v1h-1zM326 230h1v1h-1zM328 230h1v1h-1zM330 230h1v1h-1zM332 230h1v1h-1zM334 230h1v1h-1zM344 230h1v1h-1zM319 231h1v1h-1zM325 231h1v1h-1zM327 231h1v1h-1zM335 231h1v1h-1zM339 231h1v1h-1zM320 232h1v1h-1zM322 232h1v1h-1zM324 232h1v1h-1zM328 232h1v1h-1zM330 232h1v1h-1zM336 232h1v1h-1zM317 233h1v1h-1zM319 233h1v1h-1zM321 233h1v1h-1zM329 233h1v1h-1zM331 233h1v1h-1zM333 233h1v1h-1zM335 233h1v1h-1zM316 234h1v1h-1zM318 234h1v1h-1zM320 234h1v1h-1zM322 234h1v1h-1zM324 234h1v1h-1zM328 234h1v1h-1zM330 234h1v1h-1zM334 234h1v1h-1zM336 234h1v1h-1zM317 235h1v1h-1zM319 235h1v1h-1zM327 235h1v1h-1zM329 235h1v1h-1zM331 235h1v1h-1zM333 235h1v1h-1zM335 235h1v1h-1zM337 235h1v1h-1zM316 236h1v1h-1zM320 236h1v1h-1zM324 236h1v1h-1zM326 236h1v1h-1zM328 236h1v1h-1zM330 236h1v1h-1zM332 236h1v1h-1zM338 236h1v1h-1zM342 236h1v1h-1zM346 236h1v1h-1zM315 237h1v1h-1zM317 237h1v1h-1zM319 237h1v1h-1zM323 237h1v1h-1zM325 237h1v1h-1zM331 237h1v1h-1zM343 237h1v1h-1zM345 237h1v1h-1zM320 238h1v1h-1zM328 238h1v1h-1zM331 239h1v1h-1zM337 239h1v1h-1zM339 239h1v1h-1zM316 240h1v1h-1zM318 240h1v1h-1zM320 240h1v1h-1zM328 240h1v1h-1zM336 240h1v1h-1zM319 241h1v1h-1zM323 241h1v1h-1zM325 241h1v1h-1zM335 241h1v1h-1zM312 242h1v1h-1zM326 242h1v1h-1zM328 242h1v1h-1zM330 242h1v1h-1zM329 243h1v1h-1zM324 244h1v1h-1zM332 244h1v1h-1zM334 244h1v1h-1zM330 246h1v1h-1zM317 247h1v1h-1zM318 248h1v1h-1zM324 248h1v1h-1zM334 248h1v1h-1zM322 250h1v1h-1zM328 250h1v1h-1zM319 251h1v1h-1zM318 252h1v1h-1z" fill="#222"/><path d="M481 91h1v1h-1zM483 127h1v1h-1zM490 132h1v1h-1zM321 133h1v1h-1zM327 133h1v1h-1zM345 133h1v1h-1zM351 137h1v1h-1zM317 139h1v1h-1zM314 140h1v1h-1zM324 140h1v1h-1zM325 141h1v1h-1zM329 141h1v1h-1zM345 141h1v1h-1zM326 142h1v1h-1zM334 142h1v1h-1zM356 142h1v1h-1zM390 142h1v1h-1zM333 143h1v1h-1zM347 143h1v1h-1zM371 143h1v1h-1zM385 143h1v1h-1zM358 144h1v1h-1zM362 144h1v1h-1zM372 144h1v1h-1zM331 145h1v1h-1zM343 145h1v1h-1zM373 145h1v1h-1zM316 146h1v1h-1zM332 146h1v1h-1zM342 146h1v1h-1zM364 146h1v1h-1zM331 147h1v1h-1zM349 147h1v1h-1zM314 148h1v1h-1zM322 148h1v1h-1zM330 148h1v1h-1zM338 148h1v1h-1zM340 148h1v1h-1zM358 148h1v1h-1zM329 149h1v1h-1zM320 150h1v1h-1zM322 150h1v1h-1zM330 150h1v1h-1zM334 150h1v1h-1zM336 150h1v1h-1zM317 151h1v1h-1zM345 151h1v1h-1zM351 151h1v1h-1zM359 151h1v1h-1zM391 151h1v1h-1zM320 152h1v1h-1zM362 152h1v1h-1zM337 153h1v1h-1zM359 153h1v1h-1zM336 154h1v1h-1zM346 154h1v1h-1zM350 154h1v1h-1zM325 155h1v1h-1zM353 155h1v1h-1zM365 155h1v1h-1zM316 156h1v1h-1zM328 156h1v1h-1zM374 156h1v1h-1zM319 157h1v1h-1zM345 157h1v1h-1zM369 157h1v1h-1zM330 158h1v1h-1zM344 158h1v1h-1zM358 158h1v1h-1zM319 159h1v1h-1zM335 159h1v1h-1zM345 159h1v1h-1zM347 159h1v1h-1zM361 159h1v1h-1zM373 159h1v1h-1zM312 160h1v1h-1zM316 160h1v1h-1zM360 160h1v1h-1zM372 160h1v1h-1zM319 161h1v1h-1zM323 161h1v1h-1zM325 161h1v1h-1zM351 161h1v1h-1zM355 161h1v1h-1zM365 161h1v1h-1zM314 162h1v1h-1zM320 162h1v1h-1zM336 162h1v1h-1zM338 162h1v1h-1zM358 162h1v1h-1zM364 162h1v1h-1zM370 162h1v1h-1zM313 163h1v1h-1zM315 163h1v1h-1zM323 163h1v1h-1zM325 163h1v1h-1zM341 163h1v1h-1zM349 163h1v1h-1zM353 163h1v1h-1zM363 163h1v1h-1zM316 164h1v1h-1zM324 164h1v1h-1zM332 164h1v1h-1zM334 164h1v1h-1zM346 164h1v1h-1zM348 164h1v1h-1zM352 164h1v1h-1zM354 164h1v1h-1zM360 164h1v1h-1zM376 164h1v1h-1zM327 165h1v1h-1zM331 165h1v1h-1zM341 165h1v1h-1zM349 165h1v1h-1zM357 165h1v1h-1zM369 165h1v1h-1zM371 165h1v1h-1zM312 166h1v1h-1zM316 166h1v1h-1zM322 166h1v1h-1zM338 166h1v1h-1zM340 166h1v1h-1zM342 166h1v1h-1zM348 166h1v1h-1zM352 166h1v1h-1zM358 166h1v1h-1zM315 167h1v1h-1zM329 167h1v1h-1zM335 167h1v1h-1zM337 167h1v1h-1zM339 167h1v1h-1zM343 167h1v1h-1zM371 167h1v1h-1zM373 167h1v1h-1zM314 168h1v1h-1zM330 168h1v1h-1zM332 168h1v1h-1zM338 168h1v1h-1zM342 168h1v1h-1zM358 168h1v1h-1zM315 169h1v1h-1zM321 169h1v1h-1zM333 169h1v1h-1zM335 169h1v1h-1zM357 169h1v1h-1zM369 169h1v1h-1zM373 169h1v1h-1zM332 170h1v1h-1zM334 170h1v1h-1zM340 170h1v1h-1zM313 171h1v1h-1zM317 171h1v1h-1zM333 171h1v1h-1zM335 171h1v1h-1zM337 171h1v1h-1zM347 171h1v1h-1zM351 171h1v1h-1zM353 171h1v1h-1zM355 171h1v1h-1zM357 171h1v1h-1zM371 171h1v1h-1zM373 171h1v1h-1zM375 171h1v1h-1zM322 172h1v1h-1zM336 172h1v1h-1zM338 172h1v1h-1zM342 172h1v1h-1zM319 173h1v1h-1zM321 173h1v1h-1zM323 173h1v1h-1zM341 173h1v1h-1zM343 173h1v1h-1zM349 173h1v1h-1zM351 173h1v1h-1zM353 173h1v1h-1zM355 173h1v1h-1zM357 173h1v1h-1zM373 173h1v1h-1zM377 173h1v1h-1zM312 174h1v1h-1zM322 174h1v1h-1zM324 174h1v1h-1zM334 174h1v1h-1zM336 174h1v1h-1zM352 174h1v1h-1zM364 174h1v1h-1zM370 174h1v1h-1zM313 175h1v1h-1zM319 175h1v1h-1zM335 175h1v1h-1zM337 175h1v1h-1zM351 175h1v1h-1zM461 175h1v1h-1zM312 176h1v1h-1zM316 176h1v1h-1zM318 176h1v1h-1zM320 176h1v1h-1zM324 176h1v1h-1zM332 176h1v1h-1zM334 176h1v1h-1zM342 176h1v1h-1zM344 176h1v1h-1zM356 176h1v1h-1zM358 176h1v1h-1zM360 176h1v1h-1zM315 177h1v1h-1zM317 177h1v1h-1zM321 177h1v1h-1zM323 177h1v1h-1zM327 177h1v1h-1zM331 177h1v1h-1zM337 177h1v1h-1zM339 177h1v1h-1zM341 177h1v1h-1zM343 177h1v1h-1zM347 177h1v1h-1zM351 177h1v1h-1zM357 177h1v1h-1zM359 177h1v1h-1zM363 177h1v1h-1zM369 177h1v1h-1zM312 178h1v1h-1zM316 178h1v1h-1zM320 178h1v1h-1zM322 178h1v1h-1zM326 178h1v1h-1zM332 178h1v1h-1zM334 178h1v1h-1zM340 178h1v1h-1zM348 178h1v1h-1zM364 178h1v1h-1zM319 179h1v1h-1zM321 179h1v1h-1zM335 179h1v1h-1zM341 179h1v1h-1zM349 179h1v1h-1zM357 179h1v1h-1zM363 179h1v1h-1zM371 179h1v1h-1zM373 179h1v1h-1zM375 179h1v1h-1zM411 179h1v1h-1zM455 179h1v1h-1zM322 180h1v1h-1zM324 180h1v1h-1zM332 180h1v1h-1zM336 180h1v1h-1zM340 180h1v1h-1zM344 180h1v1h-1zM348 180h1v1h-1zM372 180h1v1h-1zM376 180h1v1h-1zM315 181h1v1h-1zM317 181h1v1h-1zM327 181h1v1h-1zM329 181h1v1h-1zM331 181h1v1h-1zM333 181h1v1h-1zM339 181h1v1h-1zM343 181h1v1h-1zM345 181h1v1h-1zM349 181h1v1h-1zM351 181h1v1h-1zM318 182h1v1h-1zM324 182h1v1h-1zM328 182h1v1h-1zM330 182h1v1h-1zM342 182h1v1h-1zM344 182h1v1h-1zM346 182h1v1h-1zM350 182h1v1h-1zM352 182h1v1h-1zM366 182h1v1h-1zM368 182h1v1h-1zM434 182h1v1h-1zM311 183h1v1h-1zM319 183h1v1h-1zM325 183h1v1h-1zM327 183h1v1h-1zM329 183h1v1h-1zM331 183h1v1h-1zM335 183h1v1h-1zM341 183h1v1h-1zM347 183h1v1h-1zM349 183h1v1h-1zM351 183h1v1h-1zM355 183h1v1h-1zM357 183h1v1h-1zM363 183h1v1h-1zM365 183h1v1h-1zM367 183h1v1h-1zM371 183h1v1h-1zM377 183h1v1h-1zM312 184h1v1h-1zM314 184h1v1h-1zM316 184h1v1h-1zM318 184h1v1h-1zM324 184h1v1h-1zM328 184h1v1h-1zM330 184h1v1h-1zM332 184h1v1h-1zM336 184h1v1h-1zM342 184h1v1h-1zM344 184h1v1h-1zM346 184h1v1h-1zM350 184h1v1h-1zM352 184h1v1h-1zM354 184h1v1h-1zM356 184h1v1h-1zM370 184h1v1h-1zM466 184h1v1h-1zM313 185h1v1h-1zM317 185h1v1h-1zM333 185h1v1h-1zM335 185h1v1h-1zM337 185h1v1h-1zM341 185h1v1h-1zM357 185h1v1h-1zM365 185h1v1h-1zM371 185h1v1h-1zM437 185h1v1h-1zM447 185h1v1h-1zM312 186h1v1h-1zM318 186h1v1h-1zM328 186h1v1h-1zM330 186h1v1h-1zM334 186h1v1h-1zM336 186h1v1h-1zM340 186h1v1h-1zM346 186h1v1h-1zM348 186h1v1h-1zM358 186h1v1h-1zM360 186h1v1h-1zM398 186h1v1h-1zM327 187h1v1h-1zM331 187h1v1h-1zM333 187h1v1h-1zM339 187h1v1h-1zM341 187h1v1h-1zM343 187h1v1h-1zM345 187h1v1h-1zM349 187h1v1h-1zM353 187h1v1h-1zM361 187h1v1h-1zM363 187h1v1h-1zM375 187h1v1h-1zM437 187h1v1h-1zM314 188h1v1h-1zM318 188h1v1h-1zM320 188h1v1h-1zM322 188h1v1h-1zM324 188h1v1h-1zM328 188h1v1h-1zM336 188h1v1h-1zM338 188h1v1h-1zM346 188h1v1h-1zM356 188h1v1h-1zM412 188h1v1h-1zM311 189h1v1h-1zM313 189h1v1h-1zM319 189h1v1h-1zM325 189h1v1h-1zM327 189h1v1h-1zM329 189h1v1h-1zM333 189h1v1h-1zM335 189h1v1h-1zM337 189h1v1h-1zM343 189h1v1h-1zM345 189h1v1h-1zM353 189h1v1h-1zM363 189h1v1h-1zM367 189h1v1h-1zM387 189h1v1h-1zM391 189h1v1h-1zM429 189h1v1h-1zM431 189h1v1h-1zM447 189h1v1h-1zM453 189h1v1h-1zM455 189h1v1h-1zM312 190h1v1h-1zM314 190h1v1h-1zM316 190h1v1h-1zM318 190h1v1h-1zM320 190h1v1h-1zM324 190h1v1h-1zM328 190h1v1h-1zM338 190h1v1h-1zM340 190h1v1h-1zM342 190h1v1h-1zM344 190h1v1h-1zM348 190h1v1h-1zM352 190h1v1h-1zM358 190h1v1h-1zM366 190h1v1h-1zM374 190h1v1h-1zM382 190h1v1h-1zM414 190h1v1h-1zM438 190h1v1h-1zM452 190h1v1h-1zM464 190h1v1h-1zM319 191h1v1h-1zM321 191h1v1h-1zM323 191h1v1h-1zM325 191h1v1h-1zM329 191h1v1h-1zM333 191h1v1h-1zM341 191h1v1h-1zM349 191h1v1h-1zM355 191h1v1h-1zM371 191h1v1h-1zM411 191h1v1h-1zM421 191h1v1h-1zM423 191h1v1h-1zM431 191h1v1h-1zM435 191h1v1h-1zM447 191h1v1h-1zM312 192h1v1h-1zM316 192h1v1h-1zM318 192h1v1h-1zM320 192h1v1h-1zM330 192h1v1h-1zM338 192h1v1h-1zM340 192h1v1h-1zM342 192h1v1h-1zM344 192h1v1h-1zM346 192h1v1h-1zM348 192h1v1h-1zM350 192h1v1h-1zM352 192h1v1h-1zM354 192h1v1h-1zM362 192h1v1h-1zM374 192h1v1h-1zM402 192h1v1h-1zM408 192h1v1h-1zM414 192h1v1h-1zM424 192h1v1h-1zM444 192h1v1h-1zM454 192h1v1h-1zM458 192h1v1h-1zM468 192h1v1h-1zM311 193h1v1h-1zM315 193h1v1h-1zM317 193h1v1h-1zM321 193h1v1h-1zM325 193h1v1h-1zM329 193h1v1h-1zM333 193h1v1h-1zM335 193h1v1h-1zM337 193h1v1h-1zM343 193h1v1h-1zM345 193h1v1h-1zM347 193h1v1h-1zM349 193h1v1h-1zM351 193h1v1h-1zM353 193h1v1h-1zM357 193h1v1h-1zM361 193h1v1h-1zM377 193h1v1h-1zM395 193h1v1h-1zM405 193h1v1h-1zM419 193h1v1h-1zM421 193h1v1h-1zM433 193h1v1h-1zM435 193h1v1h-1zM439 193h1v1h-1zM447 193h1v1h-1zM451 193h1v1h-1zM453 193h1v1h-1zM471 193h1v1h-1zM312 194h1v1h-1zM316 194h1v1h-1zM326 194h1v1h-1zM330 194h1v1h-1zM336 194h1v1h-1zM338 194h1v1h-1zM340 194h1v1h-1zM346 194h1v1h-1zM358 194h1v1h-1zM378 194h1v1h-1zM430 194h1v1h-1zM440 194h1v1h-1zM450 194h1v1h-1zM464 194h1v1h-1zM468 194h1v1h-1zM323 195h1v1h-1zM325 195h1v1h-1zM327 195h1v1h-1zM329 195h1v1h-1zM331 195h1v1h-1zM335 195h1v1h-1zM337 195h1v1h-1zM339 195h1v1h-1zM341 195h1v1h-1zM345 195h1v1h-1zM347 195h1v1h-1zM351 195h1v1h-1zM357 195h1v1h-1zM361 195h1v1h-1zM365 195h1v1h-1zM367 195h1v1h-1zM371 195h1v1h-1zM379 195h1v1h-1zM393 195h1v1h-1zM403 195h1v1h-1zM411 195h1v1h-1zM413 195h1v1h-1zM423 195h1v1h-1zM443 195h1v1h-1zM465 195h1v1h-1zM314 196h1v1h-1zM320 196h1v1h-1zM322 196h1v1h-1zM324 196h1v1h-1zM326 196h1v1h-1zM328 196h1v1h-1zM334 196h1v1h-1zM342 196h1v1h-1zM344 196h1v1h-1zM346 196h1v1h-1zM354 196h1v1h-1zM356 196h1v1h-1zM374 196h1v1h-1zM390 196h1v1h-1zM418 196h1v1h-1zM422 196h1v1h-1zM430 196h1v1h-1zM450 196h1v1h-1zM321 197h1v1h-1zM323 197h1v1h-1zM327 197h1v1h-1zM329 197h1v1h-1zM331 197h1v1h-1zM333 197h1v1h-1zM335 197h1v1h-1zM339 197h1v1h-1zM343 197h1v1h-1zM345 197h1v1h-1zM349 197h1v1h-1zM351 197h1v1h-1zM353 197h1v1h-1zM355 197h1v1h-1zM357 197h1v1h-1zM359 197h1v1h-1zM363 197h1v1h-1zM373 197h1v1h-1zM381 197h1v1h-1zM399 197h1v1h-1zM419 197h1v1h-1zM435 197h1v1h-1zM445 197h1v1h-1zM455 197h1v1h-1zM457 197h1v1h-1zM314 198h1v1h-1zM316 198h1v1h-1zM318 198h1v1h-1zM320 198h1v1h-1zM322 198h1v1h-1zM324 198h1v1h-1zM326 198h1v1h-1zM334 198h1v1h-1zM338 198h1v1h-1zM342 198h1v1h-1zM344 198h1v1h-1zM352 198h1v1h-1zM354 198h1v1h-1zM356 198h1v1h-1zM358 198h1v1h-1zM362 198h1v1h-1zM364 198h1v1h-1zM382 198h1v1h-1zM430 198h1v1h-1zM436 198h1v1h-1zM440 198h1v1h-1zM442 198h1v1h-1zM462 198h1v1h-1zM311 199h1v1h-1zM313 199h1v1h-1zM315 199h1v1h-1zM317 199h1v1h-1zM323 199h1v1h-1zM331 199h1v1h-1zM333 199h1v1h-1zM335 199h1v1h-1zM337 199h1v1h-1zM339 199h1v1h-1zM341 199h1v1h-1zM345 199h1v1h-1zM347 199h1v1h-1zM349 199h1v1h-1zM351 199h1v1h-1zM355 199h1v1h-1zM363 199h1v1h-1zM375 199h1v1h-1zM413 199h1v1h-1zM435 199h1v1h-1zM314 200h1v1h-1zM322 200h1v1h-1zM330 200h1v1h-1zM332 200h1v1h-1zM336 200h1v1h-1zM342 200h1v1h-1zM344 200h1v1h-1zM346 200h1v1h-1zM348 200h1v1h-1zM354 200h1v1h-1zM364 200h1v1h-1zM368 200h1v1h-1zM374 200h1v1h-1zM382 200h1v1h-1zM390 200h1v1h-1zM422 200h1v1h-1zM438 200h1v1h-1zM454 200h1v1h-1zM478 200h1v1h-1zM311 201h1v1h-1zM313 201h1v1h-1zM315 201h1v1h-1zM317 201h1v1h-1zM321 201h1v1h-1zM323 201h1v1h-1zM327 201h1v1h-1zM335 201h1v1h-1zM337 201h1v1h-1zM341 201h1v1h-1zM345 201h1v1h-1zM347 201h1v1h-1zM349 201h1v1h-1zM355 201h1v1h-1zM357 201h1v1h-1zM363 201h1v1h-1zM383 201h1v1h-1zM401 201h1v1h-1zM407 201h1v1h-1zM429 201h1v1h-1zM469 201h1v1h-1zM312 202h1v1h-1zM316 202h1v1h-1zM320 202h1v1h-1zM322 202h1v1h-1zM326 202h1v1h-1zM334 202h1v1h-1zM338 202h1v1h-1zM340 202h1v1h-1zM342 202h1v1h-1zM344 202h1v1h-1zM346 202h1v1h-1zM350 202h1v1h-1zM352 202h1v1h-1zM354 202h1v1h-1zM360 202h1v1h-1zM364 202h1v1h-1zM378 202h1v1h-1zM428 202h1v1h-1zM311 203h1v1h-1zM315 203h1v1h-1zM317 203h1v1h-1zM319 203h1v1h-1zM327 203h1v1h-1zM331 203h1v1h-1zM333 203h1v1h-1zM337 203h1v1h-1zM339 203h1v1h-1zM341 203h1v1h-1zM343 203h1v1h-1zM345 203h1v1h-1zM347 203h1v1h-1zM351 203h1v1h-1zM355 203h1v1h-1zM357 203h1v1h-1zM359 203h1v1h-1zM361 203h1v1h-1zM393 203h1v1h-1zM409 203h1v1h-1zM449 203h1v1h-1zM312 204h1v1h-1zM318 204h1v1h-1zM328 204h1v1h-1zM336 204h1v1h-1zM340 204h1v1h-1zM342 204h1v1h-1zM346 204h1v1h-1zM348 204h1v1h-1zM350 204h1v1h-1zM352 204h1v1h-1zM364 204h1v1h-1zM370 204h1v1h-1zM372 204h1v1h-1zM382 204h1v1h-1zM388 204h1v1h-1zM408 204h1v1h-1zM412 204h1v1h-1zM414 204h1v1h-1zM418 204h1v1h-1zM452 204h1v1h-1zM454 204h1v1h-1zM468 204h1v1h-1zM315 205h1v1h-1zM329 205h1v1h-1zM331 205h1v1h-1zM341 205h1v1h-1zM343 205h1v1h-1zM345 205h1v1h-1zM347 205h1v1h-1zM353 205h1v1h-1zM355 205h1v1h-1zM365 205h1v1h-1zM389 205h1v1h-1zM443 205h1v1h-1zM451 205h1v1h-1zM479 205h1v1h-1zM312 206h1v1h-1zM314 206h1v1h-1zM318 206h1v1h-1zM328 206h1v1h-1zM336 206h1v1h-1zM342 206h1v1h-1zM344 206h1v1h-1zM346 206h1v1h-1zM348 206h1v1h-1zM350 206h1v1h-1zM352 206h1v1h-1zM354 206h1v1h-1zM356 206h1v1h-1zM358 206h1v1h-1zM360 206h1v1h-1zM364 206h1v1h-1zM366 206h1v1h-1zM368 206h1v1h-1zM370 206h1v1h-1zM416 206h1v1h-1zM434 206h1v1h-1zM311 207h1v1h-1zM313 207h1v1h-1zM321 207h1v1h-1zM323 207h1v1h-1zM329 207h1v1h-1zM331 207h1v1h-1zM335 207h1v1h-1zM341 207h1v1h-1zM347 207h1v1h-1zM349 207h1v1h-1zM351 207h1v1h-1zM355 207h1v1h-1zM357 207h1v1h-1zM391 207h1v1h-1zM393 207h1v1h-1zM423 207h1v1h-1zM435 207h1v1h-1zM461 207h1v1h-1zM314 208h1v1h-1zM318 208h1v1h-1zM338 208h1v1h-1zM340 208h1v1h-1zM342 208h1v1h-1zM344 208h1v1h-1zM346 208h1v1h-1zM348 208h1v1h-1zM350 208h1v1h-1zM352 208h1v1h-1zM354 208h1v1h-1zM356 208h1v1h-1zM358 208h1v1h-1zM360 208h1v1h-1zM362 208h1v1h-1zM364 208h1v1h-1zM374 208h1v1h-1zM402 208h1v1h-1zM434 208h1v1h-1zM458 208h1v1h-1zM311 209h1v1h-1zM313 209h1v1h-1zM315 209h1v1h-1zM337 209h1v1h-1zM339 209h1v1h-1zM347 209h1v1h-1zM351 209h1v1h-1zM355 209h1v1h-1zM359 209h1v1h-1zM363 209h1v1h-1zM367 209h1v1h-1zM371 209h1v1h-1zM389 209h1v1h-1zM453 209h1v1h-1zM316 210h1v1h-1zM318 210h1v1h-1zM320 210h1v1h-1zM324 210h1v1h-1zM326 210h1v1h-1zM334 210h1v1h-1zM338 210h1v1h-1zM340 210h1v1h-1zM342 210h1v1h-1zM348 210h1v1h-1zM350 210h1v1h-1zM354 210h1v1h-1zM356 210h1v1h-1zM372 210h1v1h-1zM438 210h1v1h-1zM458 210h1v1h-1zM313 211h1v1h-1zM325 211h1v1h-1zM337 211h1v1h-1zM339 211h1v1h-1zM341 211h1v1h-1zM343 211h1v1h-1zM345 211h1v1h-1zM347 211h1v1h-1zM349 211h1v1h-1zM351 211h1v1h-1zM353 211h1v1h-1zM355 211h1v1h-1zM359 211h1v1h-1zM361 211h1v1h-1zM369 211h1v1h-1zM373 211h1v1h-1zM407 211h1v1h-1zM419 211h1v1h-1zM421 211h1v1h-1zM437 211h1v1h-1zM439 211h1v1h-1zM443 211h1v1h-1zM312 212h1v1h-1zM318 212h1v1h-1zM324 212h1v1h-1zM326 212h1v1h-1zM342 212h1v1h-1zM346 212h1v1h-1zM348 212h1v1h-1zM350 212h1v1h-1zM352 212h1v1h-1zM354 212h1v1h-1zM360 212h1v1h-1zM372 212h1v1h-1zM374 212h1v1h-1zM378 212h1v1h-1zM396 212h1v1h-1zM444 212h1v1h-1zM450 212h1v1h-1zM452 212h1v1h-1zM315 213h1v1h-1zM321 213h1v1h-1zM327 213h1v1h-1zM337 213h1v1h-1zM341 213h1v1h-1zM345 213h1v1h-1zM347 213h1v1h-1zM349 213h1v1h-1zM355 213h1v1h-1zM359 213h1v1h-1zM363 213h1v1h-1zM377 213h1v1h-1zM437 213h1v1h-1zM453 213h1v1h-1zM318 214h1v1h-1zM326 214h1v1h-1zM336 214h1v1h-1zM338 214h1v1h-1zM340 214h1v1h-1zM342 214h1v1h-1zM346 214h1v1h-1zM350 214h1v1h-1zM352 214h1v1h-1zM356 214h1v1h-1zM358 214h1v1h-1zM420 214h1v1h-1zM311 215h1v1h-1zM313 215h1v1h-1zM315 215h1v1h-1zM327 215h1v1h-1zM345 215h1v1h-1zM347 215h1v1h-1zM349 215h1v1h-1zM353 215h1v1h-1zM355 215h1v1h-1zM357 215h1v1h-1zM361 215h1v1h-1zM377 215h1v1h-1zM411 215h1v1h-1zM312 216h1v1h-1zM314 216h1v1h-1zM326 216h1v1h-1zM328 216h1v1h-1zM330 216h1v1h-1zM342 216h1v1h-1zM344 216h1v1h-1zM346 216h1v1h-1zM350 216h1v1h-1zM354 216h1v1h-1zM356 216h1v1h-1zM362 216h1v1h-1zM364 216h1v1h-1zM366 216h1v1h-1zM374 216h1v1h-1zM376 216h1v1h-1zM380 216h1v1h-1zM416 216h1v1h-1zM448 216h1v1h-1zM315 217h1v1h-1zM317 217h1v1h-1zM319 217h1v1h-1zM325 217h1v1h-1zM327 217h1v1h-1zM329 217h1v1h-1zM343 217h1v1h-1zM347 217h1v1h-1zM349 217h1v1h-1zM353 217h1v1h-1zM355 217h1v1h-1zM357 217h1v1h-1zM361 217h1v1h-1zM363 217h1v1h-1zM369 217h1v1h-1zM377 217h1v1h-1zM409 217h1v1h-1zM479 217h1v1h-1zM314 218h1v1h-1zM318 218h1v1h-1zM320 218h1v1h-1zM322 218h1v1h-1zM338 218h1v1h-1zM342 218h1v1h-1zM344 218h1v1h-1zM346 218h1v1h-1zM348 218h1v1h-1zM354 218h1v1h-1zM356 218h1v1h-1zM370 218h1v1h-1zM372 218h1v1h-1zM452 218h1v1h-1zM460 218h1v1h-1zM462 218h1v1h-1zM315 219h1v1h-1zM319 219h1v1h-1zM329 219h1v1h-1zM331 219h1v1h-1zM343 219h1v1h-1zM345 219h1v1h-1zM349 219h1v1h-1zM351 219h1v1h-1zM353 219h1v1h-1zM357 219h1v1h-1zM361 219h1v1h-1zM363 219h1v1h-1zM369 219h1v1h-1zM399 219h1v1h-1zM429 219h1v1h-1zM312 220h1v1h-1zM314 220h1v1h-1zM320 220h1v1h-1zM328 220h1v1h-1zM334 220h1v1h-1zM342 220h1v1h-1zM344 220h1v1h-1zM346 220h1v1h-1zM350 220h1v1h-1zM352 220h1v1h-1zM354 220h1v1h-1zM406 220h1v1h-1zM420 220h1v1h-1zM430 220h1v1h-1zM311 221h1v1h-1zM331 221h1v1h-1zM341 221h1v1h-1zM345 221h1v1h-1zM347 221h1v1h-1zM349 221h1v1h-1zM427 221h1v1h-1zM322 222h1v1h-1zM324 222h1v1h-1zM328 222h1v1h-1zM334 222h1v1h-1zM340 222h1v1h-1zM342 222h1v1h-1zM344 222h1v1h-1zM348 222h1v1h-1zM350 222h1v1h-1zM352 222h1v1h-1zM362 222h1v1h-1zM364 222h1v1h-1zM366 222h1v1h-1zM370 222h1v1h-1zM376 222h1v1h-1zM398 222h1v1h-1zM410 222h1v1h-1zM458 222h1v1h-1zM313 223h1v1h-1zM315 223h1v1h-1zM319 223h1v1h-1zM321 223h1v1h-1zM323 223h1v1h-1zM337 223h1v1h-1zM343 223h1v1h-1zM345 223h1v1h-1zM349 223h1v1h-1zM353 223h1v1h-1zM355 223h1v1h-1zM357 223h1v1h-1zM359 223h1v1h-1zM361 223h1v1h-1zM363 223h1v1h-1zM367 223h1v1h-1zM373 223h1v1h-1zM375 223h1v1h-1zM377 223h1v1h-1zM469 223h1v1h-1zM312 224h1v1h-1zM314 224h1v1h-1zM316 224h1v1h-1zM328 224h1v1h-1zM334 224h1v1h-1zM340 224h1v1h-1zM342 224h1v1h-1zM346 224h1v1h-1zM348 224h1v1h-1zM356 224h1v1h-1zM358 224h1v1h-1zM360 224h1v1h-1zM366 224h1v1h-1zM368 224h1v1h-1zM380 224h1v1h-1zM412 224h1v1h-1zM428 224h1v1h-1zM315 225h1v1h-1zM321 225h1v1h-1zM331 225h1v1h-1zM339 225h1v1h-1zM345 225h1v1h-1zM347 225h1v1h-1zM351 225h1v1h-1zM353 225h1v1h-1zM355 225h1v1h-1zM359 225h1v1h-1zM365 225h1v1h-1zM367 225h1v1h-1zM312 226h1v1h-1zM320 226h1v1h-1zM322 226h1v1h-1zM334 226h1v1h-1zM336 226h1v1h-1zM340 226h1v1h-1zM348 226h1v1h-1zM350 226h1v1h-1zM352 226h1v1h-1zM354 226h1v1h-1zM360 226h1v1h-1zM362 226h1v1h-1zM366 226h1v1h-1zM376 226h1v1h-1zM388 226h1v1h-1zM400 226h1v1h-1zM311 227h1v1h-1zM313 227h1v1h-1zM335 227h1v1h-1zM337 227h1v1h-1zM339 227h1v1h-1zM343 227h1v1h-1zM345 227h1v1h-1zM347 227h1v1h-1zM349 227h1v1h-1zM361 227h1v1h-1zM363 227h1v1h-1zM365 227h1v1h-1zM369 227h1v1h-1zM397 227h1v1h-1zM413 227h1v1h-1zM447 227h1v1h-1zM459 227h1v1h-1zM312 228h1v1h-1zM314 228h1v1h-1zM316 228h1v1h-1zM318 228h1v1h-1zM322 228h1v1h-1zM326 228h1v1h-1zM330 228h1v1h-1zM338 228h1v1h-1zM340 228h1v1h-1zM346 228h1v1h-1zM350 228h1v1h-1zM358 228h1v1h-1zM368 228h1v1h-1zM388 228h1v1h-1zM394 228h1v1h-1zM448 228h1v1h-1zM311 229h1v1h-1zM313 229h1v1h-1zM315 229h1v1h-1zM321 229h1v1h-1zM325 229h1v1h-1zM341 229h1v1h-1zM343 229h1v1h-1zM345 229h1v1h-1zM347 229h1v1h-1zM349 229h1v1h-1zM355 229h1v1h-1zM363 229h1v1h-1zM417 229h1v1h-1zM449 229h1v1h-1zM453 229h1v1h-1zM312 230h1v1h-1zM322 230h1v1h-1zM336 230h1v1h-1zM338 230h1v1h-1zM342 230h1v1h-1zM346 230h1v1h-1zM348 230h1v1h-1zM350 230h1v1h-1zM354 230h1v1h-1zM360 230h1v1h-1zM378 230h1v1h-1zM380 230h1v1h-1zM311 231h1v1h-1zM315 231h1v1h-1zM317 231h1v1h-1zM321 231h1v1h-1zM331 231h1v1h-1zM337 231h1v1h-1zM341 231h1v1h-1zM343 231h1v1h-1zM345 231h1v1h-1zM347 231h1v1h-1zM351 231h1v1h-1zM353 231h1v1h-1zM357 231h1v1h-1zM361 231h1v1h-1zM367 231h1v1h-1zM379 231h1v1h-1zM381 231h1v1h-1zM429 231h1v1h-1zM441 231h1v1h-1zM312 232h1v1h-1zM314 232h1v1h-1zM316 232h1v1h-1zM326 232h1v1h-1zM332 232h1v1h-1zM334 232h1v1h-1zM340 232h1v1h-1zM344 232h1v1h-1zM346 232h1v1h-1zM348 232h1v1h-1zM350 232h1v1h-1zM352 232h1v1h-1zM354 232h1v1h-1zM356 232h1v1h-1zM362 232h1v1h-1zM366 232h1v1h-1zM368 232h1v1h-1zM374 232h1v1h-1zM311 233h1v1h-1zM313 233h1v1h-1zM315 233h1v1h-1zM323 233h1v1h-1zM325 233h1v1h-1zM327 233h1v1h-1zM337 233h1v1h-1zM339 233h1v1h-1zM345 233h1v1h-1zM351 233h1v1h-1zM353 233h1v1h-1zM355 233h1v1h-1zM369 233h1v1h-1zM381 233h1v1h-1zM425 233h1v1h-1zM312 234h1v1h-1zM326 234h1v1h-1zM332 234h1v1h-1zM338 234h1v1h-1zM340 234h1v1h-1zM344 234h1v1h-1zM346 234h1v1h-1zM348 234h1v1h-1zM350 234h1v1h-1zM354 234h1v1h-1zM356 234h1v1h-1zM358 234h1v1h-1zM462 234h1v1h-1zM321 235h1v1h-1zM323 235h1v1h-1zM339 235h1v1h-1zM343 235h1v1h-1zM345 235h1v1h-1zM347 235h1v1h-1zM349 235h1v1h-1zM353 235h1v1h-1zM355 235h1v1h-1zM357 235h1v1h-1zM359 235h1v1h-1zM367 235h1v1h-1zM453 235h1v1h-1zM463 235h1v1h-1zM312 236h1v1h-1zM314 236h1v1h-1zM318 236h1v1h-1zM322 236h1v1h-1zM336 236h1v1h-1zM340 236h1v1h-1zM344 236h1v1h-1zM348 236h1v1h-1zM350 236h1v1h-1zM352 236h1v1h-1zM354 236h1v1h-1zM358 236h1v1h-1zM360 236h1v1h-1zM368 236h1v1h-1zM378 236h1v1h-1zM311 237h1v1h-1zM321 237h1v1h-1zM327 237h1v1h-1zM329 237h1v1h-1zM335 237h1v1h-1zM337 237h1v1h-1zM339 237h1v1h-1zM341 237h1v1h-1zM347 237h1v1h-1zM349 237h1v1h-1zM351 237h1v1h-1zM365 237h1v1h-1zM367 237h1v1h-1zM371 237h1v1h-1zM461 237h1v1h-1zM469 237h1v1h-1zM312 238h1v1h-1zM314 238h1v1h-1zM316 238h1v1h-1zM318 238h1v1h-1zM322 238h1v1h-1zM324 238h1v1h-1zM326 238h1v1h-1zM330 238h1v1h-1zM332 238h1v1h-1zM334 238h1v1h-1zM338 238h1v1h-1zM342 238h1v1h-1zM344 238h1v1h-1zM350 238h1v1h-1zM352 238h1v1h-1zM354 238h1v1h-1zM356 238h1v1h-1zM360 238h1v1h-1zM362 238h1v1h-1zM368 238h1v1h-1zM388 238h1v1h-1zM406 238h1v1h-1zM434 238h1v1h-1zM450 238h1v1h-1zM311 239h1v1h-1zM315 239h1v1h-1zM317 239h1v1h-1zM319 239h1v1h-1zM321 239h1v1h-1zM325 239h1v1h-1zM327 239h1v1h-1zM329 239h1v1h-1zM333 239h1v1h-1zM335 239h1v1h-1zM341 239h1v1h-1zM347 239h1v1h-1zM351 239h1v1h-1zM355 239h1v1h-1zM359 239h1v1h-1zM365 239h1v1h-1zM373 239h1v1h-1zM379 239h1v1h-1zM381 239h1v1h-1zM387 239h1v1h-1zM312 240h1v1h-1zM314 240h1v1h-1zM322 240h1v1h-1zM324 240h1v1h-1zM326 240h1v1h-1zM330 240h1v1h-1zM334 240h1v1h-1zM338 240h1v1h-1zM340 240h1v1h-1zM342 240h1v1h-1zM346 240h1v1h-1zM350 240h1v1h-1zM352 240h1v1h-1zM360 240h1v1h-1zM368 240h1v1h-1zM374 240h1v1h-1zM388 240h1v1h-1zM400 240h1v1h-1zM436 240h1v1h-1zM311 241h1v1h-1zM313 241h1v1h-1zM315 241h1v1h-1zM317 241h1v1h-1zM321 241h1v1h-1zM327 241h1v1h-1zM329 241h1v1h-1zM331 241h1v1h-1zM333 241h1v1h-1zM337 241h1v1h-1zM339 241h1v1h-1zM343 241h1v1h-1zM345 241h1v1h-1zM347 241h1v1h-1zM351 241h1v1h-1zM355 241h1v1h-1zM361 241h1v1h-1zM377 241h1v1h-1zM447 241h1v1h-1zM314 242h1v1h-1zM316 242h1v1h-1zM318 242h1v1h-1zM320 242h1v1h-1zM322 242h1v1h-1zM334 242h1v1h-1zM338 242h1v1h-1zM350 242h1v1h-1zM354 242h1v1h-1zM360 242h1v1h-1zM366 242h1v1h-1zM368 242h1v1h-1zM370 242h1v1h-1zM311 243h1v1h-1zM315 243h1v1h-1zM317 243h1v1h-1zM323 243h1v1h-1zM325 243h1v1h-1zM327 243h1v1h-1zM331 243h1v1h-1zM335 243h1v1h-1zM337 243h1v1h-1zM339 243h1v1h-1zM341 243h1v1h-1zM343 243h1v1h-1zM349 243h1v1h-1zM351 243h1v1h-1zM359 243h1v1h-1zM363 243h1v1h-1zM383 243h1v1h-1zM314 244h1v1h-1zM322 244h1v1h-1zM326 244h1v1h-1zM328 244h1v1h-1zM336 244h1v1h-1zM340 244h1v1h-1zM342 244h1v1h-1zM346 244h1v1h-1zM348 244h1v1h-1zM350 244h1v1h-1zM352 244h1v1h-1zM356 244h1v1h-1zM358 244h1v1h-1zM360 244h1v1h-1zM366 244h1v1h-1zM392 244h1v1h-1zM313 245h1v1h-1zM315 245h1v1h-1zM319 245h1v1h-1zM321 245h1v1h-1zM323 245h1v1h-1zM329 245h1v1h-1zM331 245h1v1h-1zM333 245h1v1h-1zM337 245h1v1h-1zM339 245h1v1h-1zM341 245h1v1h-1zM343 245h1v1h-1zM351 245h1v1h-1zM355 245h1v1h-1zM357 245h1v1h-1zM361 245h1v1h-1zM363 245h1v1h-1zM371 245h1v1h-1zM314 246h1v1h-1zM316 246h1v1h-1zM320 246h1v1h-1zM322 246h1v1h-1zM326 246h1v1h-1zM328 246h1v1h-1zM332 246h1v1h-1zM334 246h1v1h-1zM336 246h1v1h-1zM340 246h1v1h-1zM342 246h1v1h-1zM344 246h1v1h-1zM346 246h1v1h-1zM360 246h1v1h-1zM362 246h1v1h-1zM368 246h1v1h-1zM394 246h1v1h-1zM311 247h1v1h-1zM313 247h1v1h-1zM315 247h1v1h-1zM319 247h1v1h-1zM321 247h1v1h-1zM325 247h1v1h-1zM327 247h1v1h-1zM333 247h1v1h-1zM335 247h1v1h-1zM339 247h1v1h-1zM341 247h1v1h-1zM343 247h1v1h-1zM345 247h1v1h-1zM347 247h1v1h-1zM351 247h1v1h-1zM355 247h1v1h-1zM357 247h1v1h-1zM361 247h1v1h-1zM363 247h1v1h-1zM365 247h1v1h-1zM389 247h1v1h-1zM399 247h1v1h-1zM417 247h1v1h-1zM439 247h1v1h-1zM316 248h1v1h-1zM320 248h1v1h-1zM322 248h1v1h-1zM326 248h1v1h-1zM328 248h1v1h-1zM330 248h1v1h-1zM336 248h1v1h-1zM338 248h1v1h-1zM340 248h1v1h-1zM342 248h1v1h-1zM344 248h1v1h-1zM346 248h1v1h-1zM354 248h1v1h-1zM364 248h1v1h-1zM372 248h1v1h-1zM374 248h1v1h-1zM384 248h1v1h-1zM408 248h1v1h-1zM432 248h1v1h-1zM313 249h1v1h-1zM315 249h1v1h-1zM321 249h1v1h-1zM325 249h1v1h-1zM327 249h1v1h-1zM329 249h1v1h-1zM331 249h1v1h-1zM335 249h1v1h-1zM337 249h1v1h-1zM343 249h1v1h-1zM345 249h1v1h-1zM347 249h1v1h-1zM355 249h1v1h-1zM359 249h1v1h-1zM371 249h1v1h-1zM445 249h1v1h-1zM312 250h1v1h-1zM320 250h1v1h-1zM324 250h1v1h-1zM326 250h1v1h-1zM330 250h1v1h-1zM332 250h1v1h-1zM334 250h1v1h-1zM338 250h1v1h-1zM340 250h1v1h-1zM344 250h1v1h-1zM346 250h1v1h-1zM356 250h1v1h-1zM360 250h1v1h-1zM372 250h1v1h-1zM376 250h1v1h-1zM311 251h1v1h-1zM315 251h1v1h-1zM317 251h1v1h-1zM321 251h1v1h-1zM323 251h1v1h-1zM325 251h1v1h-1zM327 251h1v1h-1zM329 251h1v1h-1zM331 251h1v1h-1zM337 251h1v1h-1zM339 251h1v1h-1zM343 251h1v1h-1zM345 251h1v1h-1zM347 251h1v1h-1zM355 251h1v1h-1zM357 251h1v1h-1zM375 251h1v1h-1zM377 251h1v1h-1zM407 251h1v1h-1zM413 251h1v1h-1zM467 251h1v1h-1zM320 252h1v1h-1zM322 252h1v1h-1zM326 252h1v1h-1zM328 252h1v1h-1zM330 252h1v1h-1zM334 252h1v1h-1zM336 252h1v1h-1zM342 252h1v1h-1zM344 252h1v1h-1zM350 252h1v1h-1zM354 252h1v1h-1zM356 252h1v1h-1zM358 252h1v1h-1zM360 252h1v1h-1zM362 252h1v1h-1zM368 252h1v1h-1zM396 252h1v1h-1zM448 252h1v1h-1zM315 253h1v1h-1zM319 253h1v1h-1zM321 253h1v1h-1zM329 253h1v1h-1zM333 253h1v1h-1zM335 253h1v1h-1zM337 253h1v1h-1zM339 253h1v1h-1zM343 253h1v1h-1zM345 253h1v1h-1zM355 253h1v1h-1zM357 253h1v1h-1zM359 253h1v1h-1zM361 253h1v1h-1zM373 253h1v1h-1zM417 253h1v1h-1zM425 253h1v1h-1zM453 253h1v1h-1zM465 253h1v1h-1zM314 254h1v1h-1zM318 254h1v1h-1zM320 254h1v1h-1zM322 254h1v1h-1zM324 254h1v1h-1zM326 254h1v1h-1zM328 254h1v1h-1zM330 254h1v1h-1zM332 254h1v1h-1zM334 254h1v1h-1zM336 254h1v1h-1zM338 254h1v1h-1zM340 254h1v1h-1zM342 254h1v1h-1zM344 254h1v1h-1zM348 254h1v1h-1zM356 254h1v1h-1zM358 254h1v1h-1zM360 254h1v1h-1zM362 254h1v1h-1zM386 254h1v1h-1zM456 254h1v1h-1zM311 255h1v1h-1zM313 255h1v1h-1zM315 255h1v1h-1zM319 255h1v1h-1zM325 255h1v1h-1zM329 255h1v1h-1zM341 255h1v1h-1zM343 255h1v1h-1zM345 255h1v1h-1zM353 255h1v1h-1zM367 255h1v1h-1zM383 255h1v1h-1zM387 255h1v1h-1zM314 256h1v1h-1zM316 256h1v1h-1zM322 256h1v1h-1zM328 256h1v1h-1zM332 256h1v1h-1zM338 256h1v1h-1zM340 256h1v1h-1zM342 256h1v1h-1zM350 256h1v1h-1zM354 256h1v1h-1zM358 256h1v1h-1zM360 256h1v1h-1zM362 256h1v1h-1zM311 257h1v1h-1zM315 257h1v1h-1zM319 257h1v1h-1zM321 257h1v1h-1zM325 257h1v1h-1zM329 257h1v1h-1zM333 257h1v1h-1zM339 257h1v1h-1zM341 257h1v1h-1zM343 257h1v1h-1zM345 257h1v1h-1zM353 257h1v1h-1zM355 257h1v1h-1zM363 257h1v1h-1zM365 257h1v1h-1zM312 258h1v1h-1zM316 258h1v1h-1zM318 258h1v1h-1zM320 258h1v1h-1zM322 258h1v1h-1zM326 258h1v1h-1zM328 258h1v1h-1zM330 258h1v1h-1zM336 258h1v1h-1zM338 258h1v1h-1zM348 258h1v1h-1zM352 258h1v1h-1zM362 258h1v1h-1zM364 258h1v1h-1zM366 258h1v1h-1zM370 258h1v1h-1zM426 258h1v1h-1zM434 258h1v1h-1zM317 259h1v1h-1zM323 259h1v1h-1zM325 259h1v1h-1zM327 259h1v1h-1zM329 259h1v1h-1zM335 259h1v1h-1zM345 259h1v1h-1zM347 259h1v1h-1zM357 259h1v1h-1zM363 259h1v1h-1zM457 259h1v1h-1zM314 260h1v1h-1zM316 260h1v1h-1zM320 260h1v1h-1zM324 260h1v1h-1zM330 260h1v1h-1zM332 260h1v1h-1zM334 260h1v1h-1zM336 260h1v1h-1zM338 260h1v1h-1zM342 260h1v1h-1zM344 260h1v1h-1zM348 260h1v1h-1zM350 260h1v1h-1zM356 260h1v1h-1zM358 260h1v1h-1zM360 260h1v1h-1zM362 260h1v1h-1zM364 260h1v1h-1zM422 260h1v1h-1zM458 260h1v1h-1zM313 261h1v1h-1zM315 261h1v1h-1zM319 261h1v1h-1zM321 261h1v1h-1zM323 261h1v1h-1zM325 261h1v1h-1zM327 261h1v1h-1zM331 261h1v1h-1zM335 261h1v1h-1zM341 261h1v1h-1zM351 261h1v1h-1zM353 261h1v1h-1zM359 261h1v1h-1zM467 261h1v1h-1zM322 262h1v1h-1zM324 262h1v1h-1zM326 262h1v1h-1zM328 262h1v1h-1zM330 262h1v1h-1zM332 262h1v1h-1zM334 262h1v1h-1zM336 262h1v1h-1zM338 262h1v1h-1zM344 262h1v1h-1zM346 262h1v1h-1zM364 262h1v1h-1zM374 262h1v1h-1zM380 262h1v1h-1zM404 262h1v1h-1zM315 263h1v1h-1zM319 263h1v1h-1zM321 263h1v1h-1zM323 263h1v1h-1zM325 263h1v1h-1zM327 263h1v1h-1zM329 263h1v1h-1zM353 263h1v1h-1zM359 263h1v1h-1zM361 263h1v1h-1zM363 263h1v1h-1zM375 263h1v1h-1zM318 264h1v1h-1zM322 264h1v1h-1zM326 264h1v1h-1zM330 264h1v1h-1zM334 264h1v1h-1zM348 264h1v1h-1zM352 264h1v1h-1zM358 264h1v1h-1zM360 264h1v1h-1zM370 264h1v1h-1zM374 264h1v1h-1zM311 265h1v1h-1zM315 265h1v1h-1zM317 265h1v1h-1zM319 265h1v1h-1zM325 265h1v1h-1zM327 265h1v1h-1zM329 265h1v1h-1zM331 265h1v1h-1zM337 265h1v1h-1zM339 265h1v1h-1zM341 265h1v1h-1zM343 265h1v1h-1zM345 265h1v1h-1zM349 265h1v1h-1zM353 265h1v1h-1zM312 266h1v1h-1zM316 266h1v1h-1zM320 266h1v1h-1zM322 266h1v1h-1zM324 266h1v1h-1zM332 266h1v1h-1zM334 266h1v1h-1zM336 266h1v1h-1zM338 266h1v1h-1zM342 266h1v1h-1zM344 266h1v1h-1zM348 266h1v1h-1zM311 267h1v1h-1zM315 267h1v1h-1zM319 267h1v1h-1zM321 267h1v1h-1zM329 267h1v1h-1zM331 267h1v1h-1zM337 267h1v1h-1zM339 267h1v1h-1zM341 267h1v1h-1zM347 267h1v1h-1zM349 267h1v1h-1zM351 267h1v1h-1zM373 267h1v1h-1zM463 267h1v1h-1zM312 268h1v1h-1zM314 268h1v1h-1zM316 268h1v1h-1zM320 268h1v1h-1zM334 268h1v1h-1zM340 268h1v1h-1zM344 268h1v1h-1zM346 268h1v1h-1zM348 268h1v1h-1zM354 268h1v1h-1z" fill="#999"/><path d="M433 103h1v1h-1zM463 103h1v1h-1zM453 107h1v1h-1zM436 114h1v1h-1zM440 116h1v1h-1zM414 120h1v1h-1zM430 120h1v1h-1zM426 122h1v1h-1zM450 122h1v1h-1zM445 123h1v1h-1zM453 123h1v1h-1zM465 123h1v1h-1zM420 124h1v1h-1zM430 124h1v1h-1zM416 126h1v1h-1zM420 126h1v1h-1zM432 126h1v1h-1zM431 127h1v1h-1zM459 127h1v1h-1zM471 127h1v1h-1zM430 128h1v1h-1zM434 128h1v1h-1zM436 128h1v1h-1zM478 128h1v1h-1zM409 129h1v1h-1zM453 129h1v1h-1zM457 129h1v1h-1zM471 129h1v1h-1zM428 130h1v1h-1zM456 130h1v1h-1zM462 130h1v1h-1zM433 131h1v1h-1zM437 131h1v1h-1zM443 131h1v1h-1zM453 131h1v1h-1zM461 131h1v1h-1zM412 132h1v1h-1zM424 132h1v1h-1zM446 132h1v1h-1zM484 132h1v1h-1zM417 133h1v1h-1zM431 133h1v1h-1zM433 133h1v1h-1zM439 133h1v1h-1zM447 133h1v1h-1zM455 133h1v1h-1zM463 133h1v1h-1zM410 134h1v1h-1zM428 134h1v1h-1zM456 134h1v1h-1zM458 134h1v1h-1zM480 134h1v1h-1zM484 134h1v1h-1zM389 135h1v1h-1zM409 135h1v1h-1zM423 135h1v1h-1zM429 135h1v1h-1zM433 135h1v1h-1zM435 135h1v1h-1zM465 135h1v1h-1zM400 136h1v1h-1zM414 136h1v1h-1zM418 136h1v1h-1zM420 136h1v1h-1zM426 136h1v1h-1zM436 136h1v1h-1zM458 136h1v1h-1zM474 136h1v1h-1zM484 136h1v1h-1zM492 136h1v1h-1zM409 137h1v1h-1zM413 137h1v1h-1zM415 137h1v1h-1zM421 137h1v1h-1zM423 137h1v1h-1zM429 137h1v1h-1zM431 137h1v1h-1zM439 137h1v1h-1zM479 137h1v1h-1zM388 138h1v1h-1zM404 138h1v1h-1zM416 138h1v1h-1zM420 138h1v1h-1zM422 138h1v1h-1zM424 138h1v1h-1zM432 138h1v1h-1zM434 138h1v1h-1zM458 138h1v1h-1zM411 139h1v1h-1zM415 139h1v1h-1zM417 139h1v1h-1zM419 139h1v1h-1zM423 139h1v1h-1zM427 139h1v1h-1zM429 139h1v1h-1zM433 139h1v1h-1zM437 139h1v1h-1zM451 139h1v1h-1zM463 139h1v1h-1zM471 139h1v1h-1zM481 139h1v1h-1zM406 140h1v1h-1zM426 140h1v1h-1zM450 140h1v1h-1zM480 140h1v1h-1zM403 141h1v1h-1zM405 141h1v1h-1zM419 141h1v1h-1zM423 141h1v1h-1zM425 141h1v1h-1zM427 141h1v1h-1zM429 141h1v1h-1zM431 141h1v1h-1zM433 141h1v1h-1zM435 141h1v1h-1zM451 141h1v1h-1zM477 141h1v1h-1zM364 142h1v1h-1zM388 142h1v1h-1zM398 142h1v1h-1zM404 142h1v1h-1zM418 142h1v1h-1zM424 142h1v1h-1zM428 142h1v1h-1zM432 142h1v1h-1zM438 142h1v1h-1zM444 142h1v1h-1zM484 142h1v1h-1zM389 143h1v1h-1zM407 143h1v1h-1zM409 143h1v1h-1zM411 143h1v1h-1zM415 143h1v1h-1zM423 143h1v1h-1zM425 143h1v1h-1zM429 143h1v1h-1zM433 143h1v1h-1zM463 143h1v1h-1zM465 143h1v1h-1zM473 143h1v1h-1zM404 144h1v1h-1zM406 144h1v1h-1zM410 144h1v1h-1zM412 144h1v1h-1zM422 144h1v1h-1zM426 144h1v1h-1zM428 144h1v1h-1zM432 144h1v1h-1zM470 144h1v1h-1zM474 144h1v1h-1zM393 145h1v1h-1zM399 145h1v1h-1zM403 145h1v1h-1zM407 145h1v1h-1zM409 145h1v1h-1zM413 145h1v1h-1zM419 145h1v1h-1zM427 145h1v1h-1zM433 145h1v1h-1zM463 145h1v1h-1zM394 146h1v1h-1zM402 146h1v1h-1zM420 146h1v1h-1zM422 146h1v1h-1zM424 146h1v1h-1zM426 146h1v1h-1zM432 146h1v1h-1zM434 146h1v1h-1zM436 146h1v1h-1zM446 146h1v1h-1zM458 146h1v1h-1zM474 146h1v1h-1zM476 146h1v1h-1zM367 147h1v1h-1zM371 147h1v1h-1zM379 147h1v1h-1zM405 147h1v1h-1zM417 147h1v1h-1zM421 147h1v1h-1zM425 147h1v1h-1zM427 147h1v1h-1zM431 147h1v1h-1zM437 147h1v1h-1zM461 147h1v1h-1zM463 147h1v1h-1zM465 147h1v1h-1zM469 147h1v1h-1zM477 147h1v1h-1zM406 148h1v1h-1zM410 148h1v1h-1zM414 148h1v1h-1zM418 148h1v1h-1zM422 148h1v1h-1zM424 148h1v1h-1zM426 148h1v1h-1zM430 148h1v1h-1zM432 148h1v1h-1zM458 148h1v1h-1zM460 148h1v1h-1zM464 148h1v1h-1zM470 148h1v1h-1zM482 148h1v1h-1zM389 149h1v1h-1zM399 149h1v1h-1zM405 149h1v1h-1zM407 149h1v1h-1zM409 149h1v1h-1zM413 149h1v1h-1zM415 149h1v1h-1zM417 149h1v1h-1zM419 149h1v1h-1zM425 149h1v1h-1zM429 149h1v1h-1zM431 149h1v1h-1zM447 149h1v1h-1zM457 149h1v1h-1zM459 149h1v1h-1zM467 149h1v1h-1zM479 149h1v1h-1zM370 150h1v1h-1zM394 150h1v1h-1zM398 150h1v1h-1zM402 150h1v1h-1zM408 150h1v1h-1zM410 150h1v1h-1zM412 150h1v1h-1zM414 150h1v1h-1zM422 150h1v1h-1zM424 150h1v1h-1zM426 150h1v1h-1zM432 150h1v1h-1zM434 150h1v1h-1zM462 150h1v1h-1zM397 151h1v1h-1zM405 151h1v1h-1zM409 151h1v1h-1zM411 151h1v1h-1zM413 151h1v1h-1zM415 151h1v1h-1zM417 151h1v1h-1zM421 151h1v1h-1zM423 151h1v1h-1zM427 151h1v1h-1zM429 151h1v1h-1zM431 151h1v1h-1zM433 151h1v1h-1zM437 151h1v1h-1zM441 151h1v1h-1zM443 151h1v1h-1zM459 151h1v1h-1zM467 151h1v1h-1zM471 151h1v1h-1zM483 151h1v1h-1zM378 152h1v1h-1zM382 152h1v1h-1zM388 152h1v1h-1zM396 152h1v1h-1zM402 152h1v1h-1zM406 152h1v1h-1zM408 152h1v1h-1zM410 152h1v1h-1zM412 152h1v1h-1zM414 152h1v1h-1zM418 152h1v1h-1zM420 152h1v1h-1zM422 152h1v1h-1zM426 152h1v1h-1zM430 152h1v1h-1zM432 152h1v1h-1zM434 152h1v1h-1zM436 152h1v1h-1zM442 152h1v1h-1zM444 152h1v1h-1zM464 152h1v1h-1zM391 153h1v1h-1zM399 153h1v1h-1zM405 153h1v1h-1zM407 153h1v1h-1zM409 153h1v1h-1zM411 153h1v1h-1zM415 153h1v1h-1zM421 153h1v1h-1zM425 153h1v1h-1zM429 153h1v1h-1zM433 153h1v1h-1zM435 153h1v1h-1zM437 153h1v1h-1zM463 153h1v1h-1zM465 153h1v1h-1zM469 153h1v1h-1zM475 153h1v1h-1zM380 154h1v1h-1zM388 154h1v1h-1zM396 154h1v1h-1zM400 154h1v1h-1zM406 154h1v1h-1zM408 154h1v1h-1zM412 154h1v1h-1zM414 154h1v1h-1zM416 154h1v1h-1zM418 154h1v1h-1zM422 154h1v1h-1zM424 154h1v1h-1zM428 154h1v1h-1zM430 154h1v1h-1zM434 154h1v1h-1zM436 154h1v1h-1zM458 154h1v1h-1zM460 154h1v1h-1zM474 154h1v1h-1zM383 155h1v1h-1zM385 155h1v1h-1zM387 155h1v1h-1zM395 155h1v1h-1zM399 155h1v1h-1zM401 155h1v1h-1zM403 155h1v1h-1zM405 155h1v1h-1zM407 155h1v1h-1zM409 155h1v1h-1zM413 155h1v1h-1zM417 155h1v1h-1zM423 155h1v1h-1zM425 155h1v1h-1zM427 155h1v1h-1zM437 155h1v1h-1zM465 155h1v1h-1zM483 155h1v1h-1zM380 156h1v1h-1zM384 156h1v1h-1zM386 156h1v1h-1zM398 156h1v1h-1zM400 156h1v1h-1zM408 156h1v1h-1zM414 156h1v1h-1zM416 156h1v1h-1zM420 156h1v1h-1zM422 156h1v1h-1zM424 156h1v1h-1zM426 156h1v1h-1zM430 156h1v1h-1zM432 156h1v1h-1zM436 156h1v1h-1zM438 156h1v1h-1zM466 156h1v1h-1zM373 157h1v1h-1zM377 157h1v1h-1zM381 157h1v1h-1zM385 157h1v1h-1zM391 157h1v1h-1zM397 157h1v1h-1zM399 157h1v1h-1zM403 157h1v1h-1zM405 157h1v1h-1zM407 157h1v1h-1zM409 157h1v1h-1zM413 157h1v1h-1zM415 157h1v1h-1zM417 157h1v1h-1zM419 157h1v1h-1zM421 157h1v1h-1zM423 157h1v1h-1zM427 157h1v1h-1zM433 157h1v1h-1zM439 157h1v1h-1zM445 157h1v1h-1zM465 157h1v1h-1zM473 157h1v1h-1zM384 158h1v1h-1zM394 158h1v1h-1zM396 158h1v1h-1zM400 158h1v1h-1zM402 158h1v1h-1zM404 158h1v1h-1zM406 158h1v1h-1zM408 158h1v1h-1zM412 158h1v1h-1zM416 158h1v1h-1zM418 158h1v1h-1zM420 158h1v1h-1zM424 158h1v1h-1zM426 158h1v1h-1zM430 158h1v1h-1zM432 158h1v1h-1zM434 158h1v1h-1zM436 158h1v1h-1zM438 158h1v1h-1zM442 158h1v1h-1zM458 158h1v1h-1zM466 158h1v1h-1zM383 159h1v1h-1zM385 159h1v1h-1zM391 159h1v1h-1zM395 159h1v1h-1zM397 159h1v1h-1zM399 159h1v1h-1zM403 159h1v1h-1zM411 159h1v1h-1zM413 159h1v1h-1zM415 159h1v1h-1zM417 159h1v1h-1zM419 159h1v1h-1zM423 159h1v1h-1zM425 159h1v1h-1zM427 159h1v1h-1zM429 159h1v1h-1zM431 159h1v1h-1zM433 159h1v1h-1zM437 159h1v1h-1zM461 159h1v1h-1zM465 159h1v1h-1zM366 160h1v1h-1zM386 160h1v1h-1zM390 160h1v1h-1zM396 160h1v1h-1zM404 160h1v1h-1zM410 160h1v1h-1zM416 160h1v1h-1zM418 160h1v1h-1zM420 160h1v1h-1zM422 160h1v1h-1zM424 160h1v1h-1zM426 160h1v1h-1zM428 160h1v1h-1zM432 160h1v1h-1zM438 160h1v1h-1zM442 160h1v1h-1zM464 160h1v1h-1zM480 160h1v1h-1zM379 161h1v1h-1zM383 161h1v1h-1zM395 161h1v1h-1zM403 161h1v1h-1zM407 161h1v1h-1zM409 161h1v1h-1zM411 161h1v1h-1zM413 161h1v1h-1zM415 161h1v1h-1zM417 161h1v1h-1zM419 161h1v1h-1zM421 161h1v1h-1zM423 161h1v1h-1zM425 161h1v1h-1zM429 161h1v1h-1zM431 161h1v1h-1zM435 161h1v1h-1zM437 161h1v1h-1zM461 161h1v1h-1zM473 161h1v1h-1zM475 161h1v1h-1zM481 161h1v1h-1zM386 162h1v1h-1zM390 162h1v1h-1zM394 162h1v1h-1zM400 162h1v1h-1zM402 162h1v1h-1zM410 162h1v1h-1zM412 162h1v1h-1zM414 162h1v1h-1zM416 162h1v1h-1zM418 162h1v1h-1zM422 162h1v1h-1zM424 162h1v1h-1zM426 162h1v1h-1zM428 162h1v1h-1zM430 162h1v1h-1zM434 162h1v1h-1zM438 162h1v1h-1zM440 162h1v1h-1zM450 162h1v1h-1zM381 163h1v1h-1zM389 163h1v1h-1zM395 163h1v1h-1zM397 163h1v1h-1zM405 163h1v1h-1zM407 163h1v1h-1zM409 163h1v1h-1zM411 163h1v1h-1zM413 163h1v1h-1zM415 163h1v1h-1zM417 163h1v1h-1zM419 163h1v1h-1zM421 163h1v1h-1zM423 163h1v1h-1zM427 163h1v1h-1zM429 163h1v1h-1zM431 163h1v1h-1zM433 163h1v1h-1zM435 163h1v1h-1zM439 163h1v1h-1zM441 163h1v1h-1zM465 163h1v1h-1zM374 164h1v1h-1zM382 164h1v1h-1zM396 164h1v1h-1zM406 164h1v1h-1zM408 164h1v1h-1zM410 164h1v1h-1zM412 164h1v1h-1zM416 164h1v1h-1zM418 164h1v1h-1zM422 164h1v1h-1zM424 164h1v1h-1zM426 164h1v1h-1zM432 164h1v1h-1zM434 164h1v1h-1zM464 164h1v1h-1zM389 165h1v1h-1zM405 165h1v1h-1zM409 165h1v1h-1zM413 165h1v1h-1zM415 165h1v1h-1zM417 165h1v1h-1zM419 165h1v1h-1zM423 165h1v1h-1zM425 165h1v1h-1zM427 165h1v1h-1zM429 165h1v1h-1zM431 165h1v1h-1zM433 165h1v1h-1zM437 165h1v1h-1zM441 165h1v1h-1zM443 165h1v1h-1zM461 165h1v1h-1zM380 166h1v1h-1zM396 166h1v1h-1zM402 166h1v1h-1zM414 166h1v1h-1zM416 166h1v1h-1zM418 166h1v1h-1zM422 166h1v1h-1zM424 166h1v1h-1zM426 166h1v1h-1zM430 166h1v1h-1zM432 166h1v1h-1zM434 166h1v1h-1zM436 166h1v1h-1zM438 166h1v1h-1zM442 166h1v1h-1zM444 166h1v1h-1zM446 166h1v1h-1zM460 166h1v1h-1zM397 167h1v1h-1zM403 167h1v1h-1zM405 167h1v1h-1zM411 167h1v1h-1zM413 167h1v1h-1zM419 167h1v1h-1zM421 167h1v1h-1zM423 167h1v1h-1zM425 167h1v1h-1zM427 167h1v1h-1zM429 167h1v1h-1zM437 167h1v1h-1zM439 167h1v1h-1zM443 167h1v1h-1zM449 167h1v1h-1zM455 167h1v1h-1zM469 167h1v1h-1zM473 167h1v1h-1zM388 168h1v1h-1zM396 168h1v1h-1zM404 168h1v1h-1zM408 168h1v1h-1zM410 168h1v1h-1zM414 168h1v1h-1zM418 168h1v1h-1zM420 168h1v1h-1zM422 168h1v1h-1zM424 168h1v1h-1zM426 168h1v1h-1zM432 168h1v1h-1zM434 168h1v1h-1zM438 168h1v1h-1zM440 168h1v1h-1zM442 168h1v1h-1zM444 168h1v1h-1zM456 168h1v1h-1zM460 168h1v1h-1zM466 168h1v1h-1zM468 168h1v1h-1zM472 168h1v1h-1zM371 169h1v1h-1zM375 169h1v1h-1zM379 169h1v1h-1zM385 169h1v1h-1zM387 169h1v1h-1zM391 169h1v1h-1zM395 169h1v1h-1zM397 169h1v1h-1zM403 169h1v1h-1zM407 169h1v1h-1zM411 169h1v1h-1zM419 169h1v1h-1zM421 169h1v1h-1zM425 169h1v1h-1zM427 169h1v1h-1zM429 169h1v1h-1zM433 169h1v1h-1zM435 169h1v1h-1zM437 169h1v1h-1zM439 169h1v1h-1zM441 169h1v1h-1zM445 169h1v1h-1zM447 169h1v1h-1zM449 169h1v1h-1zM459 169h1v1h-1zM461 169h1v1h-1zM473 169h1v1h-1zM479 169h1v1h-1zM366 170h1v1h-1zM378 170h1v1h-1zM394 170h1v1h-1zM402 170h1v1h-1zM404 170h1v1h-1zM412 170h1v1h-1zM420 170h1v1h-1zM422 170h1v1h-1zM424 170h1v1h-1zM426 170h1v1h-1zM428 170h1v1h-1zM430 170h1v1h-1zM432 170h1v1h-1zM440 170h1v1h-1zM444 170h1v1h-1zM448 170h1v1h-1zM454 170h1v1h-1zM460 170h1v1h-1zM387 171h1v1h-1zM389 171h1v1h-1zM395 171h1v1h-1zM401 171h1v1h-1zM405 171h1v1h-1zM407 171h1v1h-1zM411 171h1v1h-1zM419 171h1v1h-1zM421 171h1v1h-1zM425 171h1v1h-1zM427 171h1v1h-1zM431 171h1v1h-1zM433 171h1v1h-1zM435 171h1v1h-1zM437 171h1v1h-1zM443 171h1v1h-1zM445 171h1v1h-1zM447 171h1v1h-1zM455 171h1v1h-1zM459 171h1v1h-1zM463 171h1v1h-1zM467 171h1v1h-1zM469 171h1v1h-1zM362 172h1v1h-1zM390 172h1v1h-1zM394 172h1v1h-1zM402 172h1v1h-1zM404 172h1v1h-1zM414 172h1v1h-1zM418 172h1v1h-1zM422 172h1v1h-1zM428 172h1v1h-1zM442 172h1v1h-1zM444 172h1v1h-1zM450 172h1v1h-1zM456 172h1v1h-1zM458 172h1v1h-1zM385 173h1v1h-1zM393 173h1v1h-1zM399 173h1v1h-1zM401 173h1v1h-1zM407 173h1v1h-1zM409 173h1v1h-1zM415 173h1v1h-1zM423 173h1v1h-1zM429 173h1v1h-1zM431 173h1v1h-1zM443 173h1v1h-1zM445 173h1v1h-1zM447 173h1v1h-1zM453 173h1v1h-1zM455 173h1v1h-1zM463 173h1v1h-1zM467 173h1v1h-1zM469 173h1v1h-1zM400 174h1v1h-1zM406 174h1v1h-1zM418 174h1v1h-1zM422 174h1v1h-1zM428 174h1v1h-1zM432 174h1v1h-1zM446 174h1v1h-1zM460 174h1v1h-1zM474 174h1v1h-1zM480 174h1v1h-1zM486 174h1v1h-1zM397 175h1v1h-1zM401 175h1v1h-1zM413 175h1v1h-1zM419 175h1v1h-1zM425 175h1v1h-1zM427 175h1v1h-1zM437 175h1v1h-1zM453 175h1v1h-1zM457 175h1v1h-1zM390 176h1v1h-1zM398 176h1v1h-1zM404 176h1v1h-1zM408 176h1v1h-1zM414 176h1v1h-1zM416 176h1v1h-1zM418 176h1v1h-1zM424 176h1v1h-1zM428 176h1v1h-1zM434 176h1v1h-1zM436 176h1v1h-1zM452 176h1v1h-1zM458 176h1v1h-1zM373 177h1v1h-1zM385 177h1v1h-1zM393 177h1v1h-1zM401 177h1v1h-1zM407 177h1v1h-1zM413 177h1v1h-1zM417 177h1v1h-1zM421 177h1v1h-1zM429 177h1v1h-1zM431 177h1v1h-1zM441 177h1v1h-1zM443 177h1v1h-1zM451 177h1v1h-1zM457 177h1v1h-1zM459 177h1v1h-1zM402 178h1v1h-1zM404 178h1v1h-1zM410 178h1v1h-1zM416 178h1v1h-1zM422 178h1v1h-1zM428 178h1v1h-1zM430 178h1v1h-1zM442 178h1v1h-1zM444 178h1v1h-1zM446 178h1v1h-1zM450 178h1v1h-1zM452 178h1v1h-1zM456 178h1v1h-1zM464 178h1v1h-1zM367 179h1v1h-1zM401 179h1v1h-1zM405 179h1v1h-1zM449 179h1v1h-1zM463 179h1v1h-1zM469 179h1v1h-1zM471 179h1v1h-1zM418 180h1v1h-1zM430 180h1v1h-1zM432 180h1v1h-1zM434 180h1v1h-1zM442 180h1v1h-1zM444 180h1v1h-1zM456 180h1v1h-1zM458 180h1v1h-1zM460 180h1v1h-1zM464 180h1v1h-1zM468 180h1v1h-1zM375 181h1v1h-1zM387 181h1v1h-1zM399 181h1v1h-1zM405 181h1v1h-1zM419 181h1v1h-1zM477 181h1v1h-1zM372 182h1v1h-1zM408 182h1v1h-1zM418 182h1v1h-1zM436 182h1v1h-1zM444 182h1v1h-1zM448 182h1v1h-1zM452 182h1v1h-1zM456 182h1v1h-1zM458 182h1v1h-1zM460 182h1v1h-1zM375 183h1v1h-1zM407 183h1v1h-1zM419 183h1v1h-1zM421 183h1v1h-1zM439 183h1v1h-1zM447 183h1v1h-1zM453 183h1v1h-1zM461 183h1v1h-1zM465 183h1v1h-1zM467 183h1v1h-1zM376 184h1v1h-1zM392 184h1v1h-1zM434 184h1v1h-1zM436 184h1v1h-1zM440 184h1v1h-1zM442 184h1v1h-1zM452 184h1v1h-1zM486 184h1v1h-1zM379 185h1v1h-1zM407 185h1v1h-1zM453 185h1v1h-1zM467 185h1v1h-1zM412 186h1v1h-1zM424 186h1v1h-1zM438 186h1v1h-1zM440 186h1v1h-1zM458 186h1v1h-1zM409 187h1v1h-1zM419 187h1v1h-1zM441 187h1v1h-1zM449 187h1v1h-1zM461 187h1v1h-1zM473 187h1v1h-1zM475 187h1v1h-1zM410 188h1v1h-1zM434 188h1v1h-1zM450 188h1v1h-1zM467 189h1v1h-1zM396 190h1v1h-1zM402 190h1v1h-1zM410 190h1v1h-1zM450 190h1v1h-1zM429 191h1v1h-1zM439 191h1v1h-1zM392 192h1v1h-1zM412 192h1v1h-1zM427 193h1v1h-1zM449 193h1v1h-1zM370 194h1v1h-1zM394 194h1v1h-1zM444 194h1v1h-1zM438 196h1v1h-1zM431 197h1v1h-1zM430 200h1v1h-1zM427 201h1v1h-1zM419 203h1v1h-1z" fill="#aaa"/></g><rect x="310" y="190" width="2.2" height="80" fill="#222"/><text transform="translate(311.30,26.40) scale(0.92,1)" font-size="34.5" style="font-family:'Liberation Sans',sans-serif" stroke="#000" stroke-width="0.45">B</text><text transform="translate(309.30,55.95) scale(1,1.28)" font-size="7.35" style="font-family:'Liberation Mono',monospace;font-weight:bold">G: A</text><text x="381.70" y="64.55" font-size="8.6" style="font-family:'Liberation Mono',monospace;font-weight:bold;font-weight:normal" text-anchor="start" >PMT3 VS PMT1</text><path d="M309.80 270.60v4.2M309.80 270.60h-4.2M325.30 270.60v4.2M309.80 255.21h-4.2M334.37 270.60v4.2M309.80 246.21h-4.2M340.81 270.60v4.2M309.80 239.83h-4.2M345.80 270.60v4.2M309.80 234.87h-4.2M349.87 270.60v4.2M309.80 230.83h-4.2M353.32 270.60v4.2M309.80 227.40h-4.2M356.31 270.60v4.2M309.80 224.44h-4.2M358.94 270.60v4.2M309.80 221.83h-4.2M361.30 270.60v4.2M309.80 219.49h-4.2M376.80 270.60v4.2M309.80 204.10h-4.2M385.87 270.60v4.2M309.80 195.10h-4.2M392.31 270.60v4.2M309.80 188.71h-4.2M397.30 270.60v4.2M309.80 183.76h-4.2M401.37 270.60v4.2M309.80 179.71h-4.2M404.82 270.60v4.2M309.80 176.29h-4.2M407.81 270.60v4.2M309.80 173.33h-4.2M410.44 270.60v4.2M309.80 170.71h-4.2M412.80 270.60v4.2M309.80 168.38h-4.2M428.30 270.60v4.2M309.80 152.99h-4.2M437.37 270.60v4.2M309.80 143.99h-4.2M443.81 270.60v4.2M309.80 137.60h-4.2M448.80 270.60v4.2M309.80 132.65h-4.2M452.87 270.60v4.2M309.80 128.60h-4.2M456.32 270.60v4.2M309.80 125.18h-4.2M459.31 270.60v4.2M309.80 122.22h-4.2M461.94 270.60v4.2M309.80 119.60h-4.2M464.30 270.60v4.2M309.80 117.26h-4.2M479.80 270.60v4.2M309.80 101.88h-4.2M488.87 270.60v4.2M309.80 92.88h-4.2M495.31 270.60v4.2M309.80 86.49h-4.2M500.30 270.60v4.2M309.80 81.54h-4.2M504.37 270.60v4.2M309.80 77.49h-4.2M507.82 270.60v4.2M309.80 74.07h-4.2M510.81 270.60v4.2M309.80 71.10h-4.2M513.44 270.60v4.2M309.80 68.49h-4.2M515.80 270.60v4.2M309.80 66.15h-4.2" stroke="#000" stroke-width="1.1" fill="none"/><rect x="309.80" y="66.15" width="206.00" height="204.45" fill="none" stroke="#000" stroke-width="1.7"/><path d="M309.80 66.15H495.50V270.60" fill="none" stroke="#333" stroke-width="1.6"/><line x1="378.80" y1="66.15" x2="378.80" y2="188.00" stroke="#000" stroke-width="1.6"/><line x1="379.90" y1="188.00" x2="379.90" y2="270.60" stroke="#000" stroke-width="1.6"/><line x1="309.80" y1="188.00" x2="379.35" y2="188.00" stroke="#000" stroke-width="1.6"/><line x1="379.35" y1="188.80" x2="495.50" y2="188.80" stroke="#000" stroke-width="1.6"/><text transform="translate(304.90,274.12) rotate(-90) scale(1,1.12)" font-size="8" style="font-family:'Liberation Mono',monospace;font-weight:bold">.1</text><text transform="translate(304.90,219.54) rotate(-90) scale(1,1.12)" font-size="8" style="font-family:'Liberation Mono',monospace;font-weight:bold">1</text><text transform="translate(304.90,172.30) rotate(-90) scale(1,1.12)" font-size="8" style="font-family:'Liberation Mono',monospace;font-weight:bold">10</text><text transform="translate(304.90,127.08) rotate(-90) scale(1,1.12)" font-size="8" style="font-family:'Liberation Mono',monospace;font-weight:bold">100</text><text transform="translate(304.90,85.79) rotate(-90) scale(1,1.12)" font-size="8" style="font-family:'Liberation Mono',monospace;font-weight:bold">1000</text><text transform="translate(295.60,186.00) rotate(-90)" font-size="8.2" style="font-family:'Liberation Mono',monospace;font-weight:bold">HOECHST</text><text transform="translate(306.00,281.90) scale(1,1.18)" font-size="7.8" style="font-family:'Liberation Mono',monospace;font-weight:bold">.1</text><text transform="translate(361.00,281.90) scale(1,1.18)" font-size="7.8" style="font-family:'Liberation Mono',monospace;font-weight:bold">1</text><text transform="translate(407.40,281.90) scale(1,1.18)" font-size="7.8" style="font-family:'Liberation Mono',monospace;font-weight:bold">10</text><text transform="translate(454.80,281.90) scale(1,1.18)" font-size="7.8" style="font-family:'Liberation Mono',monospace;font-weight:bold">100</text><text transform="translate(495.30,281.90) scale(1,1.18)" font-size="7.8" style="font-family:'Liberation Mono',monospace;font-weight:bold">1000</text><path d="M406.70 284.00h3v1.1h-3zM413.30 284.00h2v1.1h-2z" fill="#222"/><text transform="translate(316.30,186.80) scale(1,1.2)" font-size="7.6" style="font-family:'Liberation Mono',monospace;font-weight:bold" text-anchor="start">E</text><text transform="translate(372.50,187.10) scale(1,1.2)" font-size="7.6" style="font-family:'Liberation Mono',monospace;font-weight:bold" text-anchor="end">F</text><text transform="translate(316.30,266.10) scale(1,1.2)" font-size="7.6" style="font-family:'Liberation Mono',monospace;font-weight:bold" text-anchor="start">D</text><text transform="translate(374.30,266.10) scale(1,1.2)" font-size="7.6" style="font-family:'Liberation Mono',monospace;font-weight:bold" text-anchor="end">G</text><rect x="343.38" y="165.60" width="30.12" height="11.5" fill="#fff"/><text x="372.70" y="175.20" font-size="12.5" style="font-family:'Liberation Serif',serif;font-weight:bold" text-anchor="end" >3.3%</text><rect x="453.82" y="166.00" width="36.38" height="11.5" fill="#fff"/><text x="489.40" y="175.60" font-size="12.5" style="font-family:'Liberation Serif',serif;font-weight:bold" text-anchor="end" >25.1%</text><rect x="337.02" y="243.80" width="36.38" height="11.5" fill="#fff"/><text x="372.60" y="253.40" font-size="12.5" style="font-family:'Liberation Serif',serif;font-weight:bold" text-anchor="end" >68.3%</text><rect x="460.68" y="243.80" width="30.12" height="11.5" fill="#fff"/><text x="490.00" y="253.40" font-size="12.5" style="font-family:'Liberation Serif',serif;font-weight:bold" text-anchor="end" >4.3%</text><path d="M28 511H56Q60 511 60 516V548Q56 568 45 570Q32 568 27 548V516Q27 511 31 511Z" fill="#d0d0d0" filter="url(#b1)"/><g filter="url(#bd)"><path d="M58 482h1v1h-1zM51 487h1v1h-1zM55 487h1v1h-1zM59 487h1v1h-1zM61 487h1v1h-1zM72 488h1v1h-1zM59 489h1v1h-1zM67 489h1v1h-1zM58 490h1v1h-1zM62 490h1v1h-1zM57 493h1v1h-1zM76 494h1v1h-1zM57 495h1v1h-1zM81 495h1v1h-1zM87 495h1v1h-1zM54 496h1v1h-1zM56 496h1v1h-1zM61 497h1v1h-1zM69 497h1v1h-1zM71 497h1v1h-1zM54 498h1v1h-1zM43 499h1v1h-1zM57 499h1v1h-1zM54 500h1v1h-1zM60 500h1v1h-1zM62 500h1v1h-1zM64 500h1v1h-1zM66 500h1v1h-1zM68 500h1v1h-1zM72 500h1v1h-1zM49 501h1v1h-1zM55 501h1v1h-1zM63 501h1v1h-1zM69 501h1v1h-1zM50 502h1v1h-1zM66 502h1v1h-1zM72 502h1v1h-1zM84 502h1v1h-1zM55 503h1v1h-1zM59 503h1v1h-1zM61 503h1v1h-1zM46 504h1v1h-1zM56 504h1v1h-1zM51 505h1v1h-1zM55 505h1v1h-1zM61 505h1v1h-1zM63 505h1v1h-1zM73 505h1v1h-1zM75 505h1v1h-1zM48 506h1v1h-1zM50 506h1v1h-1zM52 506h1v1h-1zM56 506h1v1h-1zM60 506h1v1h-1zM62 506h1v1h-1zM64 506h1v1h-1zM70 506h1v1h-1zM35 507h1v1h-1zM43 507h1v1h-1zM45 507h1v1h-1zM49 507h1v1h-1zM53 507h1v1h-1zM61 507h1v1h-1zM69 507h1v1h-1zM71 507h1v1h-1zM77 507h1v1h-1zM50 508h1v1h-1zM52 508h1v1h-1zM54 508h1v1h-1zM56 508h1v1h-1zM66 508h1v1h-1zM68 508h1v1h-1zM72 508h1v1h-1zM74 508h1v1h-1zM45 509h1v1h-1zM47 509h1v1h-1zM49 509h1v1h-1zM51 509h1v1h-1zM53 509h1v1h-1zM67 509h1v1h-1zM69 509h1v1h-1zM71 509h1v1h-1zM73 509h1v1h-1zM79 509h1v1h-1zM42 510h1v1h-1zM50 510h1v1h-1zM54 510h1v1h-1zM56 510h1v1h-1zM64 510h1v1h-1zM49 511h1v1h-1zM51 511h1v1h-1zM53 511h1v1h-1zM55 511h1v1h-1zM63 511h1v1h-1zM69 511h1v1h-1zM71 511h1v1h-1zM42 512h1v1h-1zM50 512h1v1h-1zM56 512h1v1h-1zM60 512h1v1h-1zM66 512h1v1h-1zM49 513h1v1h-1zM59 513h1v1h-1zM63 513h1v1h-1zM67 513h1v1h-1zM71 513h1v1h-1zM73 513h1v1h-1zM46 514h1v1h-1zM50 514h1v1h-1zM54 514h1v1h-1zM60 514h1v1h-1zM62 514h1v1h-1zM68 514h1v1h-1zM82 514h1v1h-1zM49 515h1v1h-1zM51 515h1v1h-1zM59 515h1v1h-1zM61 515h1v1h-1zM65 515h1v1h-1zM67 515h1v1h-1zM69 515h1v1h-1zM73 515h1v1h-1zM77 515h1v1h-1zM91 515h1v1h-1zM48 516h1v1h-1zM56 516h1v1h-1zM58 516h1v1h-1zM60 516h1v1h-1zM62 516h1v1h-1zM66 516h1v1h-1zM68 516h1v1h-1zM70 516h1v1h-1zM74 516h1v1h-1zM76 516h1v1h-1zM80 516h1v1h-1zM51 517h1v1h-1zM53 517h1v1h-1zM55 517h1v1h-1zM57 517h1v1h-1zM61 517h1v1h-1zM63 517h1v1h-1zM67 517h1v1h-1zM69 517h1v1h-1zM73 517h1v1h-1zM75 517h1v1h-1zM77 517h1v1h-1zM81 517h1v1h-1zM42 518h1v1h-1zM46 518h1v1h-1zM48 518h1v1h-1zM50 518h1v1h-1zM64 518h1v1h-1zM66 518h1v1h-1zM72 518h1v1h-1zM84 518h1v1h-1zM88 518h1v1h-1zM90 518h1v1h-1zM39 519h1v1h-1zM55 519h1v1h-1zM59 519h1v1h-1zM61 519h1v1h-1zM63 519h1v1h-1zM81 519h1v1h-1zM30 520h1v1h-1zM38 520h1v1h-1zM42 520h1v1h-1zM52 520h1v1h-1zM54 520h1v1h-1zM56 520h1v1h-1zM58 520h1v1h-1zM66 520h1v1h-1zM72 520h1v1h-1zM86 520h1v1h-1zM47 521h1v1h-1zM49 521h1v1h-1zM51 521h1v1h-1zM57 521h1v1h-1zM59 521h1v1h-1zM61 521h1v1h-1zM65 521h1v1h-1zM67 521h1v1h-1zM69 521h1v1h-1zM73 521h1v1h-1zM77 521h1v1h-1zM54 522h1v1h-1zM62 522h1v1h-1zM64 522h1v1h-1zM68 522h1v1h-1zM70 522h1v1h-1zM74 522h1v1h-1zM76 522h1v1h-1zM78 522h1v1h-1zM37 523h1v1h-1zM45 523h1v1h-1zM47 523h1v1h-1zM51 523h1v1h-1zM53 523h1v1h-1zM57 523h1v1h-1zM59 523h1v1h-1zM61 523h1v1h-1zM63 523h1v1h-1zM65 523h1v1h-1zM67 523h1v1h-1zM83 523h1v1h-1zM42 524h1v1h-1zM48 524h1v1h-1zM50 524h1v1h-1zM52 524h1v1h-1zM58 524h1v1h-1zM60 524h1v1h-1zM62 524h1v1h-1zM66 524h1v1h-1zM72 524h1v1h-1zM74 524h1v1h-1zM84 524h1v1h-1zM86 524h1v1h-1zM49 525h1v1h-1zM51 525h1v1h-1zM55 525h1v1h-1zM59 525h1v1h-1zM65 525h1v1h-1zM71 525h1v1h-1zM77 525h1v1h-1zM79 525h1v1h-1zM91 525h1v1h-1zM40 526h1v1h-1zM48 526h1v1h-1zM62 526h1v1h-1zM66 526h1v1h-1zM68 526h1v1h-1zM78 526h1v1h-1zM45 527h1v1h-1zM53 527h1v1h-1zM57 527h1v1h-1zM61 527h1v1h-1zM67 527h1v1h-1zM69 527h1v1h-1zM71 527h1v1h-1zM73 527h1v1h-1zM24 528h1v1h-1zM42 528h1v1h-1zM52 528h1v1h-1zM56 528h1v1h-1zM58 528h1v1h-1zM62 528h1v1h-1zM64 528h1v1h-1zM70 528h1v1h-1zM72 528h1v1h-1zM74 528h1v1h-1zM88 528h1v1h-1zM45 529h1v1h-1zM47 529h1v1h-1zM55 529h1v1h-1zM57 529h1v1h-1zM61 529h1v1h-1zM65 529h1v1h-1zM77 529h1v1h-1zM79 529h1v1h-1zM40 530h1v1h-1zM46 530h1v1h-1zM54 530h1v1h-1zM60 530h1v1h-1zM68 530h1v1h-1zM70 530h1v1h-1zM76 530h1v1h-1zM41 531h1v1h-1zM45 531h1v1h-1zM47 531h1v1h-1zM49 531h1v1h-1zM51 531h1v1h-1zM53 531h1v1h-1zM59 531h1v1h-1zM63 531h1v1h-1zM71 531h1v1h-1zM77 531h1v1h-1zM50 532h1v1h-1zM52 532h1v1h-1zM56 532h1v1h-1zM58 532h1v1h-1zM62 532h1v1h-1zM66 532h1v1h-1zM68 532h1v1h-1zM70 532h1v1h-1zM72 532h1v1h-1zM74 532h1v1h-1zM76 532h1v1h-1zM84 532h1v1h-1zM53 533h1v1h-1zM61 533h1v1h-1zM65 533h1v1h-1zM67 533h1v1h-1zM71 533h1v1h-1zM75 533h1v1h-1zM79 533h1v1h-1zM48 534h1v1h-1zM50 534h1v1h-1zM52 534h1v1h-1zM54 534h1v1h-1zM56 534h1v1h-1zM58 534h1v1h-1zM62 534h1v1h-1zM64 534h1v1h-1zM68 534h1v1h-1zM70 534h1v1h-1zM72 534h1v1h-1zM49 535h1v1h-1zM59 535h1v1h-1zM61 535h1v1h-1zM63 535h1v1h-1zM69 535h1v1h-1zM71 535h1v1h-1zM75 535h1v1h-1zM77 535h1v1h-1zM24 536h1v1h-1zM46 536h1v1h-1zM56 536h1v1h-1zM58 536h1v1h-1zM62 536h1v1h-1zM64 536h1v1h-1zM66 536h1v1h-1zM68 536h1v1h-1zM70 536h1v1h-1zM72 536h1v1h-1zM76 536h1v1h-1zM78 536h1v1h-1zM80 536h1v1h-1zM88 536h1v1h-1zM55 537h1v1h-1zM59 537h1v1h-1zM61 537h1v1h-1zM67 537h1v1h-1zM79 537h1v1h-1zM42 538h1v1h-1zM50 538h1v1h-1zM52 538h1v1h-1zM56 538h1v1h-1zM60 538h1v1h-1zM62 538h1v1h-1zM70 538h1v1h-1zM72 538h1v1h-1zM76 538h1v1h-1zM78 538h1v1h-1zM84 538h1v1h-1zM49 539h1v1h-1zM51 539h1v1h-1zM57 539h1v1h-1zM61 539h1v1h-1zM63 539h1v1h-1zM67 539h1v1h-1zM71 539h1v1h-1zM75 539h1v1h-1zM79 539h1v1h-1zM54 540h1v1h-1zM60 540h1v1h-1zM64 540h1v1h-1zM66 540h1v1h-1zM68 540h1v1h-1zM70 540h1v1h-1zM74 540h1v1h-1zM37 541h1v1h-1zM53 541h1v1h-1zM55 541h1v1h-1zM57 541h1v1h-1zM59 541h1v1h-1zM61 541h1v1h-1zM65 541h1v1h-1zM71 541h1v1h-1zM89 541h1v1h-1zM48 542h1v1h-1zM52 542h1v1h-1zM54 542h1v1h-1zM56 542h1v1h-1zM58 542h1v1h-1zM60 542h1v1h-1zM62 542h1v1h-1zM64 542h1v1h-1zM66 542h1v1h-1zM68 542h1v1h-1zM90 542h1v1h-1zM49 543h1v1h-1zM51 543h1v1h-1zM53 543h1v1h-1zM57 543h1v1h-1zM67 543h1v1h-1zM73 543h1v1h-1zM77 543h1v1h-1zM95 543h1v1h-1zM24 544h1v1h-1zM34 544h1v1h-1zM52 544h1v1h-1zM56 544h1v1h-1zM58 544h1v1h-1zM62 544h1v1h-1zM64 544h1v1h-1zM68 544h1v1h-1zM72 544h1v1h-1zM74 544h1v1h-1zM76 544h1v1h-1zM84 544h1v1h-1zM47 545h1v1h-1zM53 545h1v1h-1zM61 545h1v1h-1zM69 545h1v1h-1zM81 545h1v1h-1zM48 546h1v1h-1zM50 546h1v1h-1zM54 546h1v1h-1zM58 546h1v1h-1zM64 546h1v1h-1zM70 546h1v1h-1zM72 546h1v1h-1zM39 547h1v1h-1zM47 547h1v1h-1zM55 547h1v1h-1zM63 547h1v1h-1zM67 547h1v1h-1zM69 547h1v1h-1zM73 547h1v1h-1zM87 547h1v1h-1zM34 548h1v1h-1zM40 548h1v1h-1zM62 548h1v1h-1zM66 548h1v1h-1zM74 548h1v1h-1zM76 548h1v1h-1zM80 548h1v1h-1zM33 549h1v1h-1zM53 549h1v1h-1zM55 549h1v1h-1zM59 549h1v1h-1zM61 549h1v1h-1zM65 549h1v1h-1zM73 549h1v1h-1zM75 549h1v1h-1zM87 549h1v1h-1zM38 550h1v1h-1zM48 550h1v1h-1zM54 550h1v1h-1zM58 550h1v1h-1zM60 550h1v1h-1zM62 550h1v1h-1zM66 550h1v1h-1zM70 550h1v1h-1zM39 551h1v1h-1zM63 551h1v1h-1zM67 551h1v1h-1zM69 551h1v1h-1zM79 551h1v1h-1zM48 552h1v1h-1zM54 552h1v1h-1zM58 552h1v1h-1zM62 552h1v1h-1zM68 552h1v1h-1zM74 552h1v1h-1zM78 552h1v1h-1zM80 552h1v1h-1zM31 553h1v1h-1zM45 553h1v1h-1zM51 553h1v1h-1zM57 553h1v1h-1zM61 553h1v1h-1zM63 553h1v1h-1zM67 553h1v1h-1zM69 553h1v1h-1zM38 554h1v1h-1zM42 554h1v1h-1zM46 554h1v1h-1zM56 554h1v1h-1zM64 554h1v1h-1zM66 554h1v1h-1zM35 555h1v1h-1zM57 555h1v1h-1zM61 555h1v1h-1zM24 556h1v1h-1zM44 556h1v1h-1zM52 556h1v1h-1zM56 556h1v1h-1zM60 556h1v1h-1zM66 556h1v1h-1zM70 556h1v1h-1zM27 557h1v1h-1zM39 557h1v1h-1zM41 557h1v1h-1zM47 557h1v1h-1zM51 557h1v1h-1zM55 557h1v1h-1zM61 557h1v1h-1zM73 557h1v1h-1zM26 558h1v1h-1zM36 558h1v1h-1zM60 558h1v1h-1zM72 558h1v1h-1zM74 558h1v1h-1zM35 559h1v1h-1zM41 559h1v1h-1zM47 559h1v1h-1zM53 559h1v1h-1zM71 559h1v1h-1zM73 559h1v1h-1zM81 559h1v1h-1zM30 560h1v1h-1zM34 560h1v1h-1zM54 560h1v1h-1zM74 560h1v1h-1zM29 561h1v1h-1zM33 561h1v1h-1zM41 561h1v1h-1zM55 561h1v1h-1zM57 561h1v1h-1zM65 561h1v1h-1zM26 562h1v1h-1zM34 562h1v1h-1zM36 562h1v1h-1zM44 562h1v1h-1zM48 562h1v1h-1zM64 562h1v1h-1zM49 563h1v1h-1zM55 563h1v1h-1zM59 563h1v1h-1zM61 563h1v1h-1zM32 564h1v1h-1zM34 564h1v1h-1zM36 564h1v1h-1zM40 564h1v1h-1zM42 564h1v1h-1zM33 565h1v1h-1zM35 565h1v1h-1zM39 565h1v1h-1zM51 565h1v1h-1zM71 565h1v1h-1zM75 565h1v1h-1zM32 566h1v1h-1zM38 566h1v1h-1zM42 566h1v1h-1zM44 566h1v1h-1zM46 566h1v1h-1zM37 567h1v1h-1zM39 567h1v1h-1zM43 567h1v1h-1zM51 567h1v1h-1zM55 567h1v1h-1zM57 567h1v1h-1zM63 567h1v1h-1zM26 568h1v1h-1zM28 568h1v1h-1zM36 568h1v1h-1zM38 568h1v1h-1zM40 568h1v1h-1zM46 568h1v1h-1zM52 568h1v1h-1zM31 569h1v1h-1zM39 569h1v1h-1zM41 569h1v1h-1zM47 569h1v1h-1zM51 569h1v1h-1zM55 569h1v1h-1zM57 569h1v1h-1zM36 570h1v1h-1zM38 570h1v1h-1zM40 570h1v1h-1zM44 570h1v1h-1zM94 570h1v1h-1zM29 571h1v1h-1zM41 571h1v1h-1zM49 571h1v1h-1zM51 571h1v1h-1zM65 571h1v1h-1zM87 571h1v1h-1zM24 572h1v1h-1zM30 572h1v1h-1zM38 572h1v1h-1zM44 572h1v1h-1zM60 572h1v1h-1zM29 573h1v1h-1zM43 573h1v1h-1zM49 573h1v1h-1zM63 573h1v1h-1zM69 573h1v1h-1zM24 574h1v1h-1zM32 574h1v1h-1zM34 574h1v1h-1zM36 574h1v1h-1zM38 574h1v1h-1zM40 574h1v1h-1zM46 574h1v1h-1zM60 574h1v1h-1zM62 574h1v1h-1zM64 574h1v1h-1zM25 575h1v1h-1zM29 575h1v1h-1zM37 575h1v1h-1zM41 575h1v1h-1zM57 575h1v1h-1zM30 576h1v1h-1zM34 576h1v1h-1zM52 576h1v1h-1zM56 576h1v1h-1zM58 576h1v1h-1zM64 576h1v1h-1zM37 577h1v1h-1zM39 577h1v1h-1zM43 577h1v1h-1zM47 577h1v1h-1zM38 578h1v1h-1zM40 578h1v1h-1zM44 578h1v1h-1zM62 578h1v1h-1zM37 579h1v1h-1zM39 579h1v1h-1zM28 580h1v1h-1zM32 580h1v1h-1zM34 580h1v1h-1zM50 580h1v1h-1zM54 580h1v1h-1zM45 581h1v1h-1zM51 581h1v1h-1zM71 581h1v1h-1zM28 582h1v1h-1zM30 582h1v1h-1zM66 582h1v1h-1zM31 583h1v1h-1zM33 583h1v1h-1zM35 583h1v1h-1zM37 583h1v1h-1zM53 583h1v1h-1zM75 583h1v1h-1zM46 584h1v1h-1zM48 584h1v1h-1zM50 584h1v1h-1zM58 584h1v1h-1zM64 584h1v1h-1zM78 584h1v1h-1zM31 585h1v1h-1zM37 585h1v1h-1zM39 585h1v1h-1zM41 585h1v1h-1zM26 586h1v1h-1zM30 586h1v1h-1zM38 586h1v1h-1zM40 586h1v1h-1zM58 586h1v1h-1zM74 586h1v1h-1zM31 587h1v1h-1zM33 587h1v1h-1zM37 587h1v1h-1zM47 587h1v1h-1zM38 588h1v1h-1zM40 588h1v1h-1zM42 588h1v1h-1zM56 588h1v1h-1zM41 589h1v1h-1zM45 589h1v1h-1zM53 589h1v1h-1zM59 589h1v1h-1zM65 589h1v1h-1zM32 590h1v1h-1zM40 590h1v1h-1zM50 590h1v1h-1zM56 590h1v1h-1zM43 591h1v1h-1zM45 591h1v1h-1zM30 592h1v1h-1zM32 592h1v1h-1zM36 592h1v1h-1zM46 592h1v1h-1zM56 592h1v1h-1zM35 593h1v1h-1zM39 593h1v1h-1zM43 593h1v1h-1zM53 593h1v1h-1zM26 594h1v1h-1zM34 594h1v1h-1zM46 594h1v1h-1zM52 594h1v1h-1zM31 595h1v1h-1zM37 595h1v1h-1zM45 595h1v1h-1zM51 595h1v1h-1zM26 596h1v1h-1zM31 597h1v1h-1zM37 597h1v1h-1zM59 597h1v1h-1zM33 599h1v1h-1zM97 599h1v1h-1zM46 600h1v1h-1zM48 600h1v1h-1zM50 600h1v1h-1zM58 600h1v1h-1zM66 600h1v1h-1zM29 601h1v1h-1zM31 601h1v1h-1zM70 602h1v1h-1zM37 603h1v1h-1z" fill="#777"/><path d="M59 485h1v1h-1zM30 494h1v1h-1zM59 499h1v1h-1zM76 500h1v1h-1zM75 503h1v1h-1zM85 503h1v1h-1zM95 507h1v1h-1zM28 510h1v1h-1zM34 510h1v1h-1zM36 510h1v1h-1zM38 510h1v1h-1zM40 510h1v1h-1zM44 510h1v1h-1zM46 510h1v1h-1zM48 510h1v1h-1zM52 510h1v1h-1zM70 510h1v1h-1zM25 511h1v1h-1zM27 511h1v1h-1zM31 511h1v1h-1zM37 511h1v1h-1zM39 511h1v1h-1zM41 511h1v1h-1zM43 511h1v1h-1zM45 511h1v1h-1zM47 511h1v1h-1zM26 512h1v1h-1zM28 512h1v1h-1zM30 512h1v1h-1zM34 512h1v1h-1zM36 512h1v1h-1zM38 512h1v1h-1zM40 512h1v1h-1zM44 512h1v1h-1zM46 512h1v1h-1zM48 512h1v1h-1zM52 512h1v1h-1zM54 512h1v1h-1zM25 513h1v1h-1zM29 513h1v1h-1zM31 513h1v1h-1zM35 513h1v1h-1zM37 513h1v1h-1zM39 513h1v1h-1zM41 513h1v1h-1zM43 513h1v1h-1zM45 513h1v1h-1zM47 513h1v1h-1zM51 513h1v1h-1zM53 513h1v1h-1zM55 513h1v1h-1zM57 513h1v1h-1zM61 513h1v1h-1zM69 513h1v1h-1zM79 513h1v1h-1zM28 514h1v1h-1zM30 514h1v1h-1zM32 514h1v1h-1zM34 514h1v1h-1zM36 514h1v1h-1zM38 514h1v1h-1zM40 514h1v1h-1zM42 514h1v1h-1zM44 514h1v1h-1zM48 514h1v1h-1zM52 514h1v1h-1zM58 514h1v1h-1zM29 515h1v1h-1zM33 515h1v1h-1zM35 515h1v1h-1zM37 515h1v1h-1zM39 515h1v1h-1zM41 515h1v1h-1zM43 515h1v1h-1zM45 515h1v1h-1zM47 515h1v1h-1zM53 515h1v1h-1zM55 515h1v1h-1zM57 515h1v1h-1zM71 515h1v1h-1zM26 516h1v1h-1zM28 516h1v1h-1zM30 516h1v1h-1zM32 516h1v1h-1zM34 516h1v1h-1zM36 516h1v1h-1zM38 516h1v1h-1zM40 516h1v1h-1zM42 516h1v1h-1zM44 516h1v1h-1zM46 516h1v1h-1zM50 516h1v1h-1zM52 516h1v1h-1zM96 516h1v1h-1zM27 517h1v1h-1zM29 517h1v1h-1zM31 517h1v1h-1zM33 517h1v1h-1zM35 517h1v1h-1zM37 517h1v1h-1zM39 517h1v1h-1zM41 517h1v1h-1zM43 517h1v1h-1zM45 517h1v1h-1zM47 517h1v1h-1zM49 517h1v1h-1zM59 517h1v1h-1zM71 517h1v1h-1zM26 518h1v1h-1zM28 518h1v1h-1zM30 518h1v1h-1zM32 518h1v1h-1zM34 518h1v1h-1zM36 518h1v1h-1zM38 518h1v1h-1zM40 518h1v1h-1zM41 518h1v1h-1zM44 518h1v1h-1zM52 518h1v1h-1zM54 518h1v1h-1zM56 518h1v1h-1zM58 518h1v1h-1zM60 518h1v1h-1zM74 518h1v1h-1zM82 518h1v1h-1zM27 519h1v1h-1zM29 519h1v1h-1zM31 519h1v1h-1zM33 519h1v1h-1zM35 519h1v1h-1zM37 519h1v1h-1zM40 519h1v1h-1zM41 519h1v1h-1zM43 519h1v1h-1zM45 519h1v1h-1zM47 519h1v1h-1zM49 519h1v1h-1zM51 519h1v1h-1zM53 519h1v1h-1zM57 519h1v1h-1zM79 519h1v1h-1zM26 520h1v1h-1zM28 520h1v1h-1zM32 520h1v1h-1zM34 520h1v1h-1zM36 520h1v1h-1zM40 520h1v1h-1zM44 520h1v1h-1zM46 520h1v1h-1zM48 520h1v1h-1zM50 520h1v1h-1zM64 520h1v1h-1zM27 521h1v1h-1zM29 521h1v1h-1zM31 521h1v1h-1zM33 521h1v1h-1zM35 521h1v1h-1zM37 521h1v1h-1zM39 521h1v1h-1zM41 521h1v1h-1zM43 521h1v1h-1zM45 521h1v1h-1zM52 521h1v1h-1zM53 521h1v1h-1zM55 521h1v1h-1zM28 522h1v1h-1zM30 522h1v1h-1zM32 522h1v1h-1zM34 522h1v1h-1zM36 522h1v1h-1zM38 522h1v1h-1zM40 522h1v1h-1zM42 522h1v1h-1zM44 522h1v1h-1zM46 522h1v1h-1zM48 522h1v1h-1zM50 522h1v1h-1zM52 522h1v1h-1zM56 522h1v1h-1zM58 522h1v1h-1zM25 523h1v1h-1zM27 523h1v1h-1zM29 523h1v1h-1zM31 523h1v1h-1zM33 523h1v1h-1zM35 523h1v1h-1zM39 523h1v1h-1zM41 523h1v1h-1zM43 523h1v1h-1zM49 523h1v1h-1zM55 523h1v1h-1zM73 523h1v1h-1zM26 524h1v1h-1zM30 524h1v1h-1zM32 524h1v1h-1zM34 524h1v1h-1zM36 524h1v1h-1zM38 524h1v1h-1zM40 524h1v1h-1zM44 524h1v1h-1zM46 524h1v1h-1zM54 524h1v1h-1zM56 524h1v1h-1zM64 524h1v1h-1zM25 525h1v1h-1zM27 525h1v1h-1zM29 525h1v1h-1zM31 525h1v1h-1zM33 525h1v1h-1zM35 525h1v1h-1zM37 525h1v1h-1zM39 525h1v1h-1zM41 525h1v1h-1zM43 525h1v1h-1zM45 525h1v1h-1zM47 525h1v1h-1zM53 525h1v1h-1zM57 525h1v1h-1zM61 525h1v1h-1zM26 526h1v1h-1zM28 526h1v1h-1zM30 526h1v1h-1zM32 526h1v1h-1zM34 526h1v1h-1zM36 526h1v1h-1zM38 526h1v1h-1zM42 526h1v1h-1zM44 526h1v1h-1zM46 526h1v1h-1zM49 526h1v1h-1zM50 526h1v1h-1zM52 526h1v1h-1zM54 526h1v1h-1zM56 526h1v1h-1zM58 526h1v1h-1zM86 526h1v1h-1zM25 527h1v1h-1zM27 527h1v1h-1zM29 527h1v1h-1zM31 527h1v1h-1zM33 527h1v1h-1zM35 527h1v1h-1zM37 527h1v1h-1zM38 527h1v1h-1zM39 527h1v1h-1zM41 527h1v1h-1zM43 527h1v1h-1zM47 527h1v1h-1zM49 527h1v1h-1zM51 527h1v1h-1zM55 527h1v1h-1zM59 527h1v1h-1zM77 527h1v1h-1zM26 528h1v1h-1zM28 528h1v1h-1zM30 528h1v1h-1zM32 528h1v1h-1zM34 528h1v1h-1zM36 528h1v1h-1zM38 528h1v1h-1zM40 528h1v1h-1zM44 528h1v1h-1zM46 528h1v1h-1zM48 528h1v1h-1zM50 528h1v1h-1zM54 528h1v1h-1zM60 528h1v1h-1zM25 529h1v1h-1zM27 529h1v1h-1zM29 529h1v1h-1zM31 529h1v1h-1zM33 529h1v1h-1zM34 529h1v1h-1zM35 529h1v1h-1zM37 529h1v1h-1zM39 529h1v1h-1zM41 529h1v1h-1zM43 529h1v1h-1zM49 529h1v1h-1zM51 529h1v1h-1zM53 529h1v1h-1zM59 529h1v1h-1zM26 530h1v1h-1zM28 530h1v1h-1zM30 530h1v1h-1zM32 530h1v1h-1zM34 530h1v1h-1zM36 530h1v1h-1zM38 530h1v1h-1zM42 530h1v1h-1zM44 530h1v1h-1zM48 530h1v1h-1zM50 530h1v1h-1zM52 530h1v1h-1zM56 530h1v1h-1zM58 530h1v1h-1zM78 530h1v1h-1zM90 530h1v1h-1zM110 530h1v1h-1zM27 531h1v1h-1zM29 531h1v1h-1zM31 531h1v1h-1zM33 531h1v1h-1zM35 531h1v1h-1zM37 531h1v1h-1zM39 531h1v1h-1zM43 531h1v1h-1zM55 531h1v1h-1zM57 531h1v1h-1zM81 531h1v1h-1zM85 531h1v1h-1zM97 531h1v1h-1zM26 532h1v1h-1zM28 532h1v1h-1zM30 532h1v1h-1zM32 532h1v1h-1zM34 532h1v1h-1zM36 532h1v1h-1zM38 532h1v1h-1zM40 532h1v1h-1zM42 532h1v1h-1zM44 532h1v1h-1zM46 532h1v1h-1zM48 532h1v1h-1zM54 532h1v1h-1zM60 532h1v1h-1zM92 532h1v1h-1zM25 533h1v1h-1zM27 533h1v1h-1zM29 533h1v1h-1zM31 533h1v1h-1zM33 533h1v1h-1zM35 533h1v1h-1zM37 533h1v1h-1zM39 533h1v1h-1zM41 533h1v1h-1zM43 533h1v1h-1zM45 533h1v1h-1zM47 533h1v1h-1zM49 533h1v1h-1zM51 533h1v1h-1zM55 533h1v1h-1zM57 533h1v1h-1zM59 533h1v1h-1zM26 534h1v1h-1zM28 534h1v1h-1zM30 534h1v1h-1zM32 534h1v1h-1zM34 534h1v1h-1zM36 534h1v1h-1zM38 534h1v1h-1zM40 534h1v1h-1zM42 534h1v1h-1zM44 534h1v1h-1zM46 534h1v1h-1zM60 534h1v1h-1zM82 534h1v1h-1zM88 534h1v1h-1zM90 534h1v1h-1zM27 535h1v1h-1zM29 535h1v1h-1zM31 535h1v1h-1zM33 535h1v1h-1zM35 535h1v1h-1zM37 535h1v1h-1zM39 535h1v1h-1zM41 535h1v1h-1zM43 535h1v1h-1zM45 535h1v1h-1zM47 535h1v1h-1zM48 535h1v1h-1zM51 535h1v1h-1zM53 535h1v1h-1zM55 535h1v1h-1zM57 535h1v1h-1zM65 535h1v1h-1zM85 535h1v1h-1zM26 536h1v1h-1zM28 536h1v1h-1zM30 536h1v1h-1zM32 536h1v1h-1zM34 536h1v1h-1zM36 536h1v1h-1zM38 536h1v1h-1zM40 536h1v1h-1zM42 536h1v1h-1zM44 536h1v1h-1zM48 536h1v1h-1zM50 536h1v1h-1zM52 536h1v1h-1zM54 536h1v1h-1zM60 536h1v1h-1zM25 537h1v1h-1zM27 537h1v1h-1zM29 537h1v1h-1zM31 537h1v1h-1zM33 537h1v1h-1zM35 537h1v1h-1zM36 537h1v1h-1zM37 537h1v1h-1zM39 537h1v1h-1zM41 537h1v1h-1zM43 537h1v1h-1zM45 537h1v1h-1zM47 537h1v1h-1zM49 537h1v1h-1zM51 537h1v1h-1zM53 537h1v1h-1zM57 537h1v1h-1zM26 538h1v1h-1zM28 538h1v1h-1zM30 538h1v1h-1zM32 538h1v1h-1zM34 538h1v1h-1zM36 538h1v1h-1zM38 538h1v1h-1zM40 538h1v1h-1zM44 538h1v1h-1zM46 538h1v1h-1zM48 538h1v1h-1zM54 538h1v1h-1zM58 538h1v1h-1zM66 538h1v1h-1zM68 538h1v1h-1zM88 538h1v1h-1zM25 539h1v1h-1zM27 539h1v1h-1zM29 539h1v1h-1zM31 539h1v1h-1zM33 539h1v1h-1zM35 539h1v1h-1zM37 539h1v1h-1zM39 539h1v1h-1zM41 539h1v1h-1zM43 539h1v1h-1zM45 539h1v1h-1zM47 539h1v1h-1zM53 539h1v1h-1zM55 539h1v1h-1zM59 539h1v1h-1zM65 539h1v1h-1zM107 539h1v1h-1zM26 540h1v1h-1zM28 540h1v1h-1zM30 540h1v1h-1zM32 540h1v1h-1zM34 540h1v1h-1zM36 540h1v1h-1zM38 540h1v1h-1zM40 540h1v1h-1zM42 540h1v1h-1zM44 540h1v1h-1zM46 540h1v1h-1zM48 540h1v1h-1zM49 540h1v1h-1zM50 540h1v1h-1zM52 540h1v1h-1zM56 540h1v1h-1zM58 540h1v1h-1zM72 540h1v1h-1zM27 541h1v1h-1zM29 541h1v1h-1zM31 541h1v1h-1zM33 541h1v1h-1zM35 541h1v1h-1zM39 541h1v1h-1zM40 541h1v1h-1zM41 541h1v1h-1zM43 541h1v1h-1zM45 541h1v1h-1zM47 541h1v1h-1zM49 541h1v1h-1zM51 541h1v1h-1zM26 542h1v1h-1zM28 542h1v1h-1zM30 542h1v1h-1zM32 542h1v1h-1zM34 542h1v1h-1zM36 542h1v1h-1zM38 542h1v1h-1zM40 542h1v1h-1zM42 542h1v1h-1zM44 542h1v1h-1zM46 542h1v1h-1zM50 542h1v1h-1zM25 543h1v1h-1zM27 543h1v1h-1zM29 543h1v1h-1zM31 543h1v1h-1zM33 543h1v1h-1zM35 543h1v1h-1zM37 543h1v1h-1zM38 543h1v1h-1zM39 543h1v1h-1zM41 543h1v1h-1zM43 543h1v1h-1zM45 543h1v1h-1zM47 543h1v1h-1zM55 543h1v1h-1zM59 543h1v1h-1zM61 543h1v1h-1zM69 543h1v1h-1zM115 543h1v1h-1zM26 544h1v1h-1zM28 544h1v1h-1zM30 544h1v1h-1zM32 544h1v1h-1zM36 544h1v1h-1zM38 544h1v1h-1zM40 544h1v1h-1zM42 544h1v1h-1zM44 544h1v1h-1zM46 544h1v1h-1zM48 544h1v1h-1zM50 544h1v1h-1zM51 544h1v1h-1zM54 544h1v1h-1zM60 544h1v1h-1zM80 544h1v1h-1zM86 544h1v1h-1zM108 544h1v1h-1zM27 545h1v1h-1zM29 545h1v1h-1zM31 545h1v1h-1zM33 545h1v1h-1zM35 545h1v1h-1zM37 545h1v1h-1zM39 545h1v1h-1zM41 545h1v1h-1zM43 545h1v1h-1zM45 545h1v1h-1zM49 545h1v1h-1zM51 545h1v1h-1zM54 545h1v1h-1zM55 545h1v1h-1zM57 545h1v1h-1zM59 545h1v1h-1zM89 545h1v1h-1zM26 546h1v1h-1zM28 546h1v1h-1zM30 546h1v1h-1zM32 546h1v1h-1zM34 546h1v1h-1zM36 546h1v1h-1zM38 546h1v1h-1zM40 546h1v1h-1zM42 546h1v1h-1zM44 546h1v1h-1zM46 546h1v1h-1zM52 546h1v1h-1zM56 546h1v1h-1zM66 546h1v1h-1zM74 546h1v1h-1zM25 547h1v1h-1zM27 547h1v1h-1zM29 547h1v1h-1zM31 547h1v1h-1zM33 547h1v1h-1zM35 547h1v1h-1zM37 547h1v1h-1zM41 547h1v1h-1zM43 547h1v1h-1zM45 547h1v1h-1zM46 547h1v1h-1zM49 547h1v1h-1zM51 547h1v1h-1zM53 547h1v1h-1zM57 547h1v1h-1zM59 547h1v1h-1zM61 547h1v1h-1zM93 547h1v1h-1zM26 548h1v1h-1zM28 548h1v1h-1zM30 548h1v1h-1zM32 548h1v1h-1zM36 548h1v1h-1zM38 548h1v1h-1zM42 548h1v1h-1zM44 548h1v1h-1zM46 548h1v1h-1zM48 548h1v1h-1zM50 548h1v1h-1zM52 548h1v1h-1zM54 548h1v1h-1zM56 548h1v1h-1zM58 548h1v1h-1zM60 548h1v1h-1zM64 548h1v1h-1zM68 548h1v1h-1zM78 548h1v1h-1zM86 548h1v1h-1zM29 549h1v1h-1zM31 549h1v1h-1zM35 549h1v1h-1zM37 549h1v1h-1zM39 549h1v1h-1zM41 549h1v1h-1zM43 549h1v1h-1zM45 549h1v1h-1zM47 549h1v1h-1zM49 549h1v1h-1zM51 549h1v1h-1zM57 549h1v1h-1zM83 549h1v1h-1zM93 549h1v1h-1zM26 550h1v1h-1zM28 550h1v1h-1zM30 550h1v1h-1zM32 550h1v1h-1zM34 550h1v1h-1zM36 550h1v1h-1zM40 550h1v1h-1zM42 550h1v1h-1zM44 550h1v1h-1zM46 550h1v1h-1zM50 550h1v1h-1zM51 550h1v1h-1zM52 550h1v1h-1zM56 550h1v1h-1zM82 550h1v1h-1zM25 551h1v1h-1zM27 551h1v1h-1zM29 551h1v1h-1zM31 551h1v1h-1zM33 551h1v1h-1zM35 551h1v1h-1zM37 551h1v1h-1zM41 551h1v1h-1zM43 551h1v1h-1zM45 551h1v1h-1zM47 551h1v1h-1zM49 551h1v1h-1zM51 551h1v1h-1zM53 551h1v1h-1zM55 551h1v1h-1zM57 551h1v1h-1zM59 551h1v1h-1zM61 551h1v1h-1zM89 551h1v1h-1zM26 552h1v1h-1zM28 552h1v1h-1zM30 552h1v1h-1zM32 552h1v1h-1zM34 552h1v1h-1zM36 552h1v1h-1zM38 552h1v1h-1zM40 552h1v1h-1zM42 552h1v1h-1zM44 552h1v1h-1zM46 552h1v1h-1zM50 552h1v1h-1zM52 552h1v1h-1zM56 552h1v1h-1zM60 552h1v1h-1zM82 552h1v1h-1zM27 553h1v1h-1zM29 553h1v1h-1zM33 553h1v1h-1zM35 553h1v1h-1zM37 553h1v1h-1zM39 553h1v1h-1zM41 553h1v1h-1zM43 553h1v1h-1zM47 553h1v1h-1zM49 553h1v1h-1zM53 553h1v1h-1zM55 553h1v1h-1zM59 553h1v1h-1zM73 553h1v1h-1zM81 553h1v1h-1zM83 553h1v1h-1zM85 553h1v1h-1zM89 553h1v1h-1zM109 553h1v1h-1zM26 554h1v1h-1zM28 554h1v1h-1zM30 554h1v1h-1zM32 554h1v1h-1zM34 554h1v1h-1zM36 554h1v1h-1zM40 554h1v1h-1zM44 554h1v1h-1zM48 554h1v1h-1zM50 554h1v1h-1zM51 554h1v1h-1zM52 554h1v1h-1zM54 554h1v1h-1zM58 554h1v1h-1zM62 554h1v1h-1zM86 554h1v1h-1zM112 554h1v1h-1zM27 555h1v1h-1zM29 555h1v1h-1zM31 555h1v1h-1zM33 555h1v1h-1zM37 555h1v1h-1zM39 555h1v1h-1zM41 555h1v1h-1zM43 555h1v1h-1zM45 555h1v1h-1zM47 555h1v1h-1zM49 555h1v1h-1zM51 555h1v1h-1zM53 555h1v1h-1zM55 555h1v1h-1zM59 555h1v1h-1zM65 555h1v1h-1zM26 556h1v1h-1zM30 556h1v1h-1zM32 556h1v1h-1zM34 556h1v1h-1zM36 556h1v1h-1zM38 556h1v1h-1zM40 556h1v1h-1zM42 556h1v1h-1zM46 556h1v1h-1zM48 556h1v1h-1zM50 556h1v1h-1zM53 556h1v1h-1zM54 556h1v1h-1zM64 556h1v1h-1zM29 557h1v1h-1zM31 557h1v1h-1zM33 557h1v1h-1zM35 557h1v1h-1zM37 557h1v1h-1zM43 557h1v1h-1zM45 557h1v1h-1zM49 557h1v1h-1zM53 557h1v1h-1zM57 557h1v1h-1zM59 557h1v1h-1zM69 557h1v1h-1zM71 557h1v1h-1zM79 557h1v1h-1zM91 557h1v1h-1zM97 557h1v1h-1zM24 558h1v1h-1zM28 558h1v1h-1zM30 558h1v1h-1zM32 558h1v1h-1zM34 558h1v1h-1zM38 558h1v1h-1zM40 558h1v1h-1zM42 558h1v1h-1zM44 558h1v1h-1zM46 558h1v1h-1zM48 558h1v1h-1zM50 558h1v1h-1zM52 558h1v1h-1zM54 558h1v1h-1zM56 558h1v1h-1zM58 558h1v1h-1zM64 558h1v1h-1zM78 558h1v1h-1zM29 559h1v1h-1zM33 559h1v1h-1zM37 559h1v1h-1zM39 559h1v1h-1zM43 559h1v1h-1zM45 559h1v1h-1zM49 559h1v1h-1zM51 559h1v1h-1zM55 559h1v1h-1zM57 559h1v1h-1zM59 559h1v1h-1zM61 559h1v1h-1zM83 559h1v1h-1zM85 559h1v1h-1zM32 560h1v1h-1zM36 560h1v1h-1zM38 560h1v1h-1zM40 560h1v1h-1zM42 560h1v1h-1zM44 560h1v1h-1zM46 560h1v1h-1zM48 560h1v1h-1zM50 560h1v1h-1zM52 560h1v1h-1zM56 560h1v1h-1zM58 560h1v1h-1zM60 560h1v1h-1zM66 560h1v1h-1zM78 560h1v1h-1zM96 560h1v1h-1zM104 560h1v1h-1zM31 561h1v1h-1zM35 561h1v1h-1zM37 561h1v1h-1zM39 561h1v1h-1zM43 561h1v1h-1zM44 561h1v1h-1zM45 561h1v1h-1zM47 561h1v1h-1zM49 561h1v1h-1zM51 561h1v1h-1zM53 561h1v1h-1zM73 561h1v1h-1zM81 561h1v1h-1zM91 561h1v1h-1zM28 562h1v1h-1zM30 562h1v1h-1zM32 562h1v1h-1zM38 562h1v1h-1zM40 562h1v1h-1zM42 562h1v1h-1zM46 562h1v1h-1zM50 562h1v1h-1zM52 562h1v1h-1zM54 562h1v1h-1zM56 562h1v1h-1zM58 562h1v1h-1zM29 563h1v1h-1zM31 563h1v1h-1zM33 563h1v1h-1zM35 563h1v1h-1zM37 563h1v1h-1zM39 563h1v1h-1zM41 563h1v1h-1zM43 563h1v1h-1zM45 563h1v1h-1zM47 563h1v1h-1zM51 563h1v1h-1zM53 563h1v1h-1zM57 563h1v1h-1zM85 563h1v1h-1zM99 563h1v1h-1zM26 564h1v1h-1zM44 564h1v1h-1zM46 564h1v1h-1zM48 564h1v1h-1zM50 564h1v1h-1zM54 564h1v1h-1zM56 564h1v1h-1zM62 564h1v1h-1zM78 564h1v1h-1zM86 564h1v1h-1zM92 564h1v1h-1zM94 564h1v1h-1zM37 565h1v1h-1zM41 565h1v1h-1zM43 565h1v1h-1zM45 565h1v1h-1zM47 565h1v1h-1zM49 565h1v1h-1zM53 565h1v1h-1zM55 565h1v1h-1zM57 565h1v1h-1zM61 565h1v1h-1zM67 565h1v1h-1zM81 565h1v1h-1zM85 565h1v1h-1zM36 566h1v1h-1zM40 566h1v1h-1zM48 566h1v1h-1zM50 566h1v1h-1zM52 566h1v1h-1zM56 566h1v1h-1zM58 566h1v1h-1zM64 566h1v1h-1zM108 566h1v1h-1zM29 567h1v1h-1zM35 567h1v1h-1zM41 567h1v1h-1zM45 567h1v1h-1zM49 567h1v1h-1zM53 567h1v1h-1zM65 567h1v1h-1zM71 567h1v1h-1zM85 567h1v1h-1zM93 567h1v1h-1zM30 568h1v1h-1zM34 568h1v1h-1zM42 568h1v1h-1zM44 568h1v1h-1zM48 568h1v1h-1zM56 568h1v1h-1zM58 568h1v1h-1zM72 568h1v1h-1zM82 568h1v1h-1zM84 568h1v1h-1zM25 569h1v1h-1zM33 569h1v1h-1zM35 569h1v1h-1zM37 569h1v1h-1zM45 569h1v1h-1zM49 569h1v1h-1zM59 569h1v1h-1zM61 569h1v1h-1zM69 569h1v1h-1zM81 569h1v1h-1zM56 570h1v1h-1zM60 570h1v1h-1zM78 570h1v1h-1zM35 571h1v1h-1zM62 572h1v1h-1zM64 572h1v1h-1zM82 572h1v1h-1zM86 572h1v1h-1zM33 573h1v1h-1zM65 573h1v1h-1zM113 573h1v1h-1zM68 574h1v1h-1zM86 574h1v1h-1zM90 574h1v1h-1zM53 575h1v1h-1zM63 575h1v1h-1zM71 575h1v1h-1zM103 575h1v1h-1zM42 576h1v1h-1zM74 576h1v1h-1zM78 576h1v1h-1zM82 576h1v1h-1zM106 576h1v1h-1zM59 577h1v1h-1zM113 577h1v1h-1zM60 578h1v1h-1zM88 578h1v1h-1zM49 579h1v1h-1zM67 579h1v1h-1zM76 580h1v1h-1zM96 580h1v1h-1zM53 581h1v1h-1zM79 581h1v1h-1zM99 581h1v1h-1zM32 582h1v1h-1zM50 582h1v1h-1zM60 582h1v1h-1zM96 582h1v1h-1zM100 582h1v1h-1zM51 583h1v1h-1zM63 583h1v1h-1zM97 583h1v1h-1zM84 584h1v1h-1zM89 585h1v1h-1zM62 586h1v1h-1zM96 586h1v1h-1zM43 587h1v1h-1zM49 587h1v1h-1zM51 587h1v1h-1zM65 587h1v1h-1zM73 587h1v1h-1zM83 587h1v1h-1zM91 587h1v1h-1zM36 588h1v1h-1zM50 588h1v1h-1zM49 589h1v1h-1zM105 589h1v1h-1zM62 590h1v1h-1zM84 590h1v1h-1zM88 590h1v1h-1zM87 591h1v1h-1zM78 592h1v1h-1zM49 593h1v1h-1zM64 594h1v1h-1zM72 594h1v1h-1zM74 594h1v1h-1zM112 594h1v1h-1zM63 595h1v1h-1zM46 596h1v1h-1zM48 596h1v1h-1zM50 596h1v1h-1zM69 597h1v1h-1zM92 598h1v1h-1zM49 599h1v1h-1zM79 599h1v1h-1zM81 599h1v1h-1zM60 600h1v1h-1zM64 600h1v1h-1zM76 600h1v1h-1zM104 600h1v1h-1zM25 601h1v1h-1zM39 601h1v1h-1zM45 601h1v1h-1zM47 601h1v1h-1zM57 601h1v1h-1zM42 602h1v1h-1zM84 602h1v1h-1zM88 602h1v1h-1z" fill="#888"/><path d="M55 459h1v1h-1zM130 464h1v1h-1zM75 465h1v1h-1zM52 466h1v1h-1zM64 466h1v1h-1zM29 467h1v1h-1zM146 468h1v1h-1zM158 468h1v1h-1zM35 469h1v1h-1zM66 470h1v1h-1zM64 472h1v1h-1zM173 475h1v1h-1zM76 476h1v1h-1zM154 476h1v1h-1zM164 476h1v1h-1zM33 477h1v1h-1zM63 477h1v1h-1zM42 478h1v1h-1zM50 478h1v1h-1zM58 478h1v1h-1zM59 479h1v1h-1zM79 479h1v1h-1zM161 479h1v1h-1zM164 480h1v1h-1zM166 480h1v1h-1zM31 481h1v1h-1zM55 481h1v1h-1zM63 481h1v1h-1zM155 481h1v1h-1zM159 481h1v1h-1zM169 481h1v1h-1zM30 482h1v1h-1zM52 482h1v1h-1zM66 482h1v1h-1zM148 482h1v1h-1zM160 482h1v1h-1zM162 482h1v1h-1zM164 482h1v1h-1zM166 482h1v1h-1zM176 482h1v1h-1zM33 483h1v1h-1zM41 483h1v1h-1zM59 483h1v1h-1zM79 483h1v1h-1zM147 483h1v1h-1zM157 483h1v1h-1zM161 483h1v1h-1zM60 484h1v1h-1zM62 484h1v1h-1zM70 484h1v1h-1zM160 484h1v1h-1zM164 484h1v1h-1zM166 484h1v1h-1zM168 484h1v1h-1zM174 484h1v1h-1zM176 484h1v1h-1zM25 485h1v1h-1zM57 485h1v1h-1zM155 485h1v1h-1zM159 485h1v1h-1zM161 485h1v1h-1zM163 485h1v1h-1zM165 485h1v1h-1zM167 485h1v1h-1zM171 485h1v1h-1zM173 485h1v1h-1zM24 486h1v1h-1zM28 486h1v1h-1zM156 486h1v1h-1zM158 486h1v1h-1zM162 486h1v1h-1zM166 486h1v1h-1zM170 486h1v1h-1zM172 486h1v1h-1zM176 486h1v1h-1zM178 486h1v1h-1zM33 487h1v1h-1zM37 487h1v1h-1zM53 487h1v1h-1zM63 487h1v1h-1zM69 487h1v1h-1zM73 487h1v1h-1zM159 487h1v1h-1zM163 487h1v1h-1zM165 487h1v1h-1zM167 487h1v1h-1zM169 487h1v1h-1zM32 488h1v1h-1zM42 488h1v1h-1zM70 488h1v1h-1zM154 488h1v1h-1zM156 488h1v1h-1zM158 488h1v1h-1zM162 488h1v1h-1zM164 488h1v1h-1zM168 488h1v1h-1zM170 488h1v1h-1zM172 488h1v1h-1zM176 488h1v1h-1zM57 489h1v1h-1zM65 489h1v1h-1zM75 489h1v1h-1zM143 489h1v1h-1zM153 489h1v1h-1zM159 489h1v1h-1zM161 489h1v1h-1zM163 489h1v1h-1zM165 489h1v1h-1zM167 489h1v1h-1zM169 489h1v1h-1zM171 489h1v1h-1zM183 489h1v1h-1zM36 490h1v1h-1zM154 490h1v1h-1zM156 490h1v1h-1zM158 490h1v1h-1zM164 490h1v1h-1zM168 490h1v1h-1zM170 490h1v1h-1zM172 490h1v1h-1zM176 490h1v1h-1zM178 490h1v1h-1zM180 490h1v1h-1zM184 490h1v1h-1zM35 491h1v1h-1zM63 491h1v1h-1zM69 491h1v1h-1zM73 491h1v1h-1zM149 491h1v1h-1zM151 491h1v1h-1zM155 491h1v1h-1zM157 491h1v1h-1zM159 491h1v1h-1zM161 491h1v1h-1zM165 491h1v1h-1zM169 491h1v1h-1zM171 491h1v1h-1zM175 491h1v1h-1zM177 491h1v1h-1zM54 492h1v1h-1zM148 492h1v1h-1zM152 492h1v1h-1zM156 492h1v1h-1zM158 492h1v1h-1zM160 492h1v1h-1zM162 492h1v1h-1zM166 492h1v1h-1zM168 492h1v1h-1zM176 492h1v1h-1zM178 492h1v1h-1zM49 493h1v1h-1zM63 493h1v1h-1zM77 493h1v1h-1zM151 493h1v1h-1zM155 493h1v1h-1zM157 493h1v1h-1zM159 493h1v1h-1zM161 493h1v1h-1zM163 493h1v1h-1zM165 493h1v1h-1zM167 493h1v1h-1zM171 493h1v1h-1zM173 493h1v1h-1zM58 494h1v1h-1zM64 494h1v1h-1zM128 494h1v1h-1zM152 494h1v1h-1zM154 494h1v1h-1zM156 494h1v1h-1zM160 494h1v1h-1zM164 494h1v1h-1zM166 494h1v1h-1zM168 494h1v1h-1zM170 494h1v1h-1zM172 494h1v1h-1zM39 495h1v1h-1zM49 495h1v1h-1zM59 495h1v1h-1zM147 495h1v1h-1zM149 495h1v1h-1zM153 495h1v1h-1zM157 495h1v1h-1zM167 495h1v1h-1zM40 496h1v1h-1zM48 496h1v1h-1zM68 496h1v1h-1zM150 496h1v1h-1zM156 496h1v1h-1zM158 496h1v1h-1zM160 496h1v1h-1zM162 496h1v1h-1zM164 496h1v1h-1zM166 496h1v1h-1zM168 496h1v1h-1zM172 496h1v1h-1zM188 496h1v1h-1zM57 497h1v1h-1zM65 497h1v1h-1zM149 497h1v1h-1zM153 497h1v1h-1zM155 497h1v1h-1zM157 497h1v1h-1zM159 497h1v1h-1zM161 497h1v1h-1zM165 497h1v1h-1zM167 497h1v1h-1zM171 497h1v1h-1zM177 497h1v1h-1zM40 498h1v1h-1zM148 498h1v1h-1zM150 498h1v1h-1zM156 498h1v1h-1zM158 498h1v1h-1zM160 498h1v1h-1zM162 498h1v1h-1zM164 498h1v1h-1zM168 498h1v1h-1zM172 498h1v1h-1zM174 498h1v1h-1zM65 499h1v1h-1zM151 499h1v1h-1zM153 499h1v1h-1zM157 499h1v1h-1zM159 499h1v1h-1zM169 499h1v1h-1zM171 499h1v1h-1zM173 499h1v1h-1zM152 500h1v1h-1zM154 500h1v1h-1zM156 500h1v1h-1zM160 500h1v1h-1zM162 500h1v1h-1zM164 500h1v1h-1zM168 500h1v1h-1zM170 500h1v1h-1zM172 500h1v1h-1zM176 500h1v1h-1zM180 500h1v1h-1zM186 500h1v1h-1zM25 501h1v1h-1zM31 501h1v1h-1zM33 501h1v1h-1zM79 501h1v1h-1zM149 501h1v1h-1zM157 501h1v1h-1zM159 501h1v1h-1zM161 501h1v1h-1zM163 501h1v1h-1zM165 501h1v1h-1zM171 501h1v1h-1zM173 501h1v1h-1zM177 501h1v1h-1zM44 502h1v1h-1zM70 502h1v1h-1zM136 502h1v1h-1zM148 502h1v1h-1zM156 502h1v1h-1zM158 502h1v1h-1zM160 502h1v1h-1zM162 502h1v1h-1zM164 502h1v1h-1zM166 502h1v1h-1zM178 502h1v1h-1zM45 503h1v1h-1zM51 503h1v1h-1zM145 503h1v1h-1zM147 503h1v1h-1zM155 503h1v1h-1zM157 503h1v1h-1zM159 503h1v1h-1zM161 503h1v1h-1zM163 503h1v1h-1zM167 503h1v1h-1zM169 503h1v1h-1zM28 504h1v1h-1zM42 504h1v1h-1zM50 504h1v1h-1zM60 504h1v1h-1zM66 504h1v1h-1zM150 504h1v1h-1zM152 504h1v1h-1zM158 504h1v1h-1zM160 504h1v1h-1zM162 504h1v1h-1zM164 504h1v1h-1zM166 504h1v1h-1zM170 504h1v1h-1zM172 504h1v1h-1zM174 504h1v1h-1zM25 505h1v1h-1zM157 505h1v1h-1zM159 505h1v1h-1zM161 505h1v1h-1zM165 505h1v1h-1zM169 505h1v1h-1zM177 505h1v1h-1zM183 505h1v1h-1zM72 506h1v1h-1zM148 506h1v1h-1zM152 506h1v1h-1zM154 506h1v1h-1zM156 506h1v1h-1zM158 506h1v1h-1zM160 506h1v1h-1zM166 506h1v1h-1zM170 506h1v1h-1zM180 506h1v1h-1zM27 507h1v1h-1zM39 507h1v1h-1zM59 507h1v1h-1zM151 507h1v1h-1zM155 507h1v1h-1zM159 507h1v1h-1zM161 507h1v1h-1zM163 507h1v1h-1zM165 507h1v1h-1zM169 507h1v1h-1zM171 507h1v1h-1zM173 507h1v1h-1zM134 508h1v1h-1zM144 508h1v1h-1zM146 508h1v1h-1zM154 508h1v1h-1zM156 508h1v1h-1zM158 508h1v1h-1zM160 508h1v1h-1zM162 508h1v1h-1zM164 508h1v1h-1zM166 508h1v1h-1zM170 508h1v1h-1zM176 508h1v1h-1zM186 508h1v1h-1zM119 509h1v1h-1zM157 509h1v1h-1zM163 509h1v1h-1zM165 509h1v1h-1zM187 509h1v1h-1zM146 510h1v1h-1zM162 510h1v1h-1zM164 510h1v1h-1zM168 510h1v1h-1zM121 511h1v1h-1zM127 511h1v1h-1zM145 511h1v1h-1zM149 511h1v1h-1zM161 511h1v1h-1zM163 511h1v1h-1zM173 511h1v1h-1zM181 511h1v1h-1zM197 511h1v1h-1zM201 511h1v1h-1zM102 512h1v1h-1zM160 512h1v1h-1zM174 512h1v1h-1zM178 512h1v1h-1zM182 512h1v1h-1zM190 512h1v1h-1zM121 513h1v1h-1zM149 513h1v1h-1zM157 513h1v1h-1zM159 513h1v1h-1zM167 513h1v1h-1zM169 513h1v1h-1zM175 513h1v1h-1zM203 513h1v1h-1zM104 514h1v1h-1zM110 514h1v1h-1zM146 514h1v1h-1zM152 514h1v1h-1zM172 514h1v1h-1zM200 514h1v1h-1zM115 515h1v1h-1zM143 515h1v1h-1zM149 515h1v1h-1zM151 515h1v1h-1zM161 515h1v1h-1zM163 515h1v1h-1zM179 515h1v1h-1zM199 515h1v1h-1zM146 516h1v1h-1zM152 516h1v1h-1zM154 516h1v1h-1zM162 516h1v1h-1zM164 516h1v1h-1zM204 516h1v1h-1zM105 517h1v1h-1zM109 517h1v1h-1zM137 517h1v1h-1zM141 517h1v1h-1zM147 517h1v1h-1zM149 517h1v1h-1zM153 517h1v1h-1zM159 517h1v1h-1zM179 517h1v1h-1zM122 518h1v1h-1zM101 519h1v1h-1zM135 519h1v1h-1zM137 519h1v1h-1zM147 519h1v1h-1zM153 519h1v1h-1zM163 519h1v1h-1zM169 519h1v1h-1zM177 519h1v1h-1zM183 519h1v1h-1zM152 520h1v1h-1zM156 520h1v1h-1zM164 520h1v1h-1zM166 520h1v1h-1zM188 520h1v1h-1zM107 521h1v1h-1zM139 521h1v1h-1zM128 522h1v1h-1zM166 522h1v1h-1zM117 523h1v1h-1zM181 523h1v1h-1zM152 524h1v1h-1zM160 524h1v1h-1zM191 525h1v1h-1zM207 525h1v1h-1zM100 526h1v1h-1zM142 526h1v1h-1zM123 527h1v1h-1zM157 527h1v1h-1zM134 528h1v1h-1zM152 528h1v1h-1zM156 528h1v1h-1zM190 528h1v1h-1zM101 529h1v1h-1zM119 529h1v1h-1zM149 529h1v1h-1zM161 529h1v1h-1zM126 530h1v1h-1zM170 530h1v1h-1zM184 530h1v1h-1zM119 531h1v1h-1zM159 531h1v1h-1zM136 532h1v1h-1zM101 533h1v1h-1zM179 533h1v1h-1zM116 534h1v1h-1zM166 536h1v1h-1zM193 537h1v1h-1zM205 537h1v1h-1zM136 538h1v1h-1zM190 538h1v1h-1zM139 539h1v1h-1zM169 539h1v1h-1zM185 539h1v1h-1zM154 540h1v1h-1zM118 542h1v1h-1zM107 545h1v1h-1zM131 545h1v1h-1zM201 545h1v1h-1zM121 549h1v1h-1zM134 552h1v1h-1zM95 553h1v1h-1zM194 554h1v1h-1zM145 555h1v1h-1zM177 555h1v1h-1zM118 556h1v1h-1zM167 557h1v1h-1zM203 557h1v1h-1zM107 559h1v1h-1zM186 560h1v1h-1zM204 562h1v1h-1zM121 563h1v1h-1zM143 563h1v1h-1zM106 564h1v1h-1zM182 564h1v1h-1zM169 567h1v1h-1zM132 568h1v1h-1zM169 569h1v1h-1zM124 570h1v1h-1zM119 571h1v1h-1zM162 574h1v1h-1zM121 575h1v1h-1zM146 576h1v1h-1zM104 584h1v1h-1zM148 586h1v1h-1zM172 588h1v1h-1zM200 592h1v1h-1z" fill="#999"/><path d="M148 452h1v1h-1zM119 455h1v1h-1zM161 455h1v1h-1zM101 457h1v1h-1zM103 457h1v1h-1zM117 457h1v1h-1zM156 458h1v1h-1zM127 459h1v1h-1zM173 459h1v1h-1zM150 460h1v1h-1zM192 460h1v1h-1zM103 461h1v1h-1zM173 461h1v1h-1zM114 462h1v1h-1zM130 462h1v1h-1zM166 462h1v1h-1zM168 462h1v1h-1zM172 462h1v1h-1zM153 463h1v1h-1zM175 463h1v1h-1zM191 463h1v1h-1zM158 464h1v1h-1zM162 464h1v1h-1zM95 465h1v1h-1zM103 465h1v1h-1zM109 465h1v1h-1zM121 465h1v1h-1zM129 465h1v1h-1zM161 465h1v1h-1zM167 465h1v1h-1zM173 465h1v1h-1zM130 466h1v1h-1zM119 467h1v1h-1zM139 467h1v1h-1zM173 467h1v1h-1zM199 467h1v1h-1zM148 468h1v1h-1zM168 468h1v1h-1zM176 468h1v1h-1zM202 468h1v1h-1zM111 469h1v1h-1zM115 469h1v1h-1zM141 469h1v1h-1zM147 469h1v1h-1zM149 469h1v1h-1zM163 469h1v1h-1zM116 470h1v1h-1zM126 470h1v1h-1zM134 470h1v1h-1zM138 470h1v1h-1zM142 470h1v1h-1zM148 470h1v1h-1zM119 471h1v1h-1zM123 471h1v1h-1zM131 471h1v1h-1zM133 471h1v1h-1zM137 471h1v1h-1zM149 471h1v1h-1zM153 471h1v1h-1zM165 471h1v1h-1zM177 471h1v1h-1zM179 471h1v1h-1zM181 471h1v1h-1zM191 471h1v1h-1zM197 471h1v1h-1zM207 471h1v1h-1zM122 472h1v1h-1zM128 472h1v1h-1zM142 472h1v1h-1zM150 472h1v1h-1zM152 472h1v1h-1zM154 472h1v1h-1zM168 472h1v1h-1zM170 472h1v1h-1zM204 472h1v1h-1zM75 473h1v1h-1zM111 473h1v1h-1zM123 473h1v1h-1zM137 473h1v1h-1zM139 473h1v1h-1zM141 473h1v1h-1zM143 473h1v1h-1zM147 473h1v1h-1zM153 473h1v1h-1zM159 473h1v1h-1zM163 473h1v1h-1zM193 473h1v1h-1zM197 473h1v1h-1zM86 474h1v1h-1zM118 474h1v1h-1zM134 474h1v1h-1zM148 474h1v1h-1zM150 474h1v1h-1zM154 474h1v1h-1zM156 474h1v1h-1zM162 474h1v1h-1zM164 474h1v1h-1zM178 474h1v1h-1zM190 474h1v1h-1zM107 475h1v1h-1zM119 475h1v1h-1zM127 475h1v1h-1zM143 475h1v1h-1zM153 475h1v1h-1zM161 475h1v1h-1zM163 475h1v1h-1zM175 475h1v1h-1zM116 476h1v1h-1zM128 476h1v1h-1zM130 476h1v1h-1zM134 476h1v1h-1zM136 476h1v1h-1zM138 476h1v1h-1zM140 476h1v1h-1zM152 476h1v1h-1zM160 476h1v1h-1zM166 476h1v1h-1zM178 476h1v1h-1zM180 476h1v1h-1zM190 476h1v1h-1zM119 477h1v1h-1zM123 477h1v1h-1zM129 477h1v1h-1zM131 477h1v1h-1zM135 477h1v1h-1zM137 477h1v1h-1zM141 477h1v1h-1zM143 477h1v1h-1zM145 477h1v1h-1zM163 477h1v1h-1zM169 477h1v1h-1zM171 477h1v1h-1zM181 477h1v1h-1zM185 477h1v1h-1zM189 477h1v1h-1zM118 478h1v1h-1zM126 478h1v1h-1zM134 478h1v1h-1zM140 478h1v1h-1zM146 478h1v1h-1zM148 478h1v1h-1zM152 478h1v1h-1zM154 478h1v1h-1zM156 478h1v1h-1zM158 478h1v1h-1zM162 478h1v1h-1zM166 478h1v1h-1zM172 478h1v1h-1zM178 478h1v1h-1zM186 478h1v1h-1zM101 479h1v1h-1zM111 479h1v1h-1zM113 479h1v1h-1zM115 479h1v1h-1zM117 479h1v1h-1zM125 479h1v1h-1zM131 479h1v1h-1zM137 479h1v1h-1zM141 479h1v1h-1zM145 479h1v1h-1zM149 479h1v1h-1zM153 479h1v1h-1zM155 479h1v1h-1zM159 479h1v1h-1zM173 479h1v1h-1zM177 479h1v1h-1zM181 479h1v1h-1zM189 479h1v1h-1zM191 479h1v1h-1zM122 480h1v1h-1zM124 480h1v1h-1zM128 480h1v1h-1zM136 480h1v1h-1zM140 480h1v1h-1zM144 480h1v1h-1zM148 480h1v1h-1zM152 480h1v1h-1zM156 480h1v1h-1zM158 480h1v1h-1zM160 480h1v1h-1zM178 480h1v1h-1zM182 480h1v1h-1zM87 481h1v1h-1zM125 481h1v1h-1zM129 481h1v1h-1zM131 481h1v1h-1zM139 481h1v1h-1zM141 481h1v1h-1zM143 481h1v1h-1zM149 481h1v1h-1zM151 481h1v1h-1zM153 481h1v1h-1zM163 481h1v1h-1zM173 481h1v1h-1zM175 481h1v1h-1zM177 481h1v1h-1zM179 481h1v1h-1zM181 481h1v1h-1zM183 481h1v1h-1zM187 481h1v1h-1zM199 481h1v1h-1zM203 481h1v1h-1zM207 481h1v1h-1zM80 482h1v1h-1zM106 482h1v1h-1zM112 482h1v1h-1zM128 482h1v1h-1zM132 482h1v1h-1zM144 482h1v1h-1zM150 482h1v1h-1zM156 482h1v1h-1zM174 482h1v1h-1zM182 482h1v1h-1zM188 482h1v1h-1zM93 483h1v1h-1zM119 483h1v1h-1zM123 483h1v1h-1zM125 483h1v1h-1zM127 483h1v1h-1zM129 483h1v1h-1zM131 483h1v1h-1zM133 483h1v1h-1zM137 483h1v1h-1zM139 483h1v1h-1zM145 483h1v1h-1zM149 483h1v1h-1zM151 483h1v1h-1zM155 483h1v1h-1zM159 483h1v1h-1zM163 483h1v1h-1zM167 483h1v1h-1zM169 483h1v1h-1zM173 483h1v1h-1zM179 483h1v1h-1zM181 483h1v1h-1zM183 483h1v1h-1zM187 483h1v1h-1zM195 483h1v1h-1zM96 484h1v1h-1zM104 484h1v1h-1zM110 484h1v1h-1zM120 484h1v1h-1zM128 484h1v1h-1zM132 484h1v1h-1zM134 484h1v1h-1zM136 484h1v1h-1zM138 484h1v1h-1zM140 484h1v1h-1zM142 484h1v1h-1zM144 484h1v1h-1zM146 484h1v1h-1zM154 484h1v1h-1zM170 484h1v1h-1zM186 484h1v1h-1zM194 484h1v1h-1zM113 485h1v1h-1zM117 485h1v1h-1zM135 485h1v1h-1zM137 485h1v1h-1zM139 485h1v1h-1zM141 485h1v1h-1zM143 485h1v1h-1zM151 485h1v1h-1zM169 485h1v1h-1zM181 485h1v1h-1zM187 485h1v1h-1zM199 485h1v1h-1zM80 486h1v1h-1zM88 486h1v1h-1zM108 486h1v1h-1zM124 486h1v1h-1zM128 486h1v1h-1zM130 486h1v1h-1zM132 486h1v1h-1zM136 486h1v1h-1zM138 486h1v1h-1zM140 486h1v1h-1zM142 486h1v1h-1zM144 486h1v1h-1zM148 486h1v1h-1zM150 486h1v1h-1zM154 486h1v1h-1zM174 486h1v1h-1zM186 486h1v1h-1zM188 486h1v1h-1zM190 486h1v1h-1zM198 486h1v1h-1zM200 486h1v1h-1zM77 487h1v1h-1zM111 487h1v1h-1zM117 487h1v1h-1zM119 487h1v1h-1zM125 487h1v1h-1zM129 487h1v1h-1zM137 487h1v1h-1zM139 487h1v1h-1zM143 487h1v1h-1zM149 487h1v1h-1zM151 487h1v1h-1zM155 487h1v1h-1zM161 487h1v1h-1zM171 487h1v1h-1zM177 487h1v1h-1zM181 487h1v1h-1zM183 487h1v1h-1zM205 487h1v1h-1zM116 488h1v1h-1zM122 488h1v1h-1zM126 488h1v1h-1zM134 488h1v1h-1zM138 488h1v1h-1zM140 488h1v1h-1zM142 488h1v1h-1zM150 488h1v1h-1zM160 488h1v1h-1zM166 488h1v1h-1zM174 488h1v1h-1zM178 488h1v1h-1zM180 488h1v1h-1zM184 488h1v1h-1zM194 488h1v1h-1zM111 489h1v1h-1zM113 489h1v1h-1zM133 489h1v1h-1zM137 489h1v1h-1zM141 489h1v1h-1zM145 489h1v1h-1zM157 489h1v1h-1zM173 489h1v1h-1zM181 489h1v1h-1zM185 489h1v1h-1zM187 489h1v1h-1zM193 489h1v1h-1zM104 490h1v1h-1zM118 490h1v1h-1zM130 490h1v1h-1zM132 490h1v1h-1zM136 490h1v1h-1zM144 490h1v1h-1zM146 490h1v1h-1zM148 490h1v1h-1zM150 490h1v1h-1zM152 490h1v1h-1zM166 490h1v1h-1zM174 490h1v1h-1zM188 490h1v1h-1zM190 490h1v1h-1zM200 490h1v1h-1zM101 491h1v1h-1zM103 491h1v1h-1zM111 491h1v1h-1zM115 491h1v1h-1zM117 491h1v1h-1zM119 491h1v1h-1zM125 491h1v1h-1zM135 491h1v1h-1zM141 491h1v1h-1zM145 491h1v1h-1zM167 491h1v1h-1zM191 491h1v1h-1zM205 491h1v1h-1zM98 492h1v1h-1zM102 492h1v1h-1zM110 492h1v1h-1zM124 492h1v1h-1zM126 492h1v1h-1zM130 492h1v1h-1zM132 492h1v1h-1zM134 492h1v1h-1zM138 492h1v1h-1zM142 492h1v1h-1zM144 492h1v1h-1zM146 492h1v1h-1zM150 492h1v1h-1zM164 492h1v1h-1zM180 492h1v1h-1zM198 492h1v1h-1zM121 493h1v1h-1zM131 493h1v1h-1zM135 493h1v1h-1zM141 493h1v1h-1zM143 493h1v1h-1zM145 493h1v1h-1zM149 493h1v1h-1zM153 493h1v1h-1zM177 493h1v1h-1zM179 493h1v1h-1zM181 493h1v1h-1zM82 494h1v1h-1zM104 494h1v1h-1zM132 494h1v1h-1zM140 494h1v1h-1zM146 494h1v1h-1zM148 494h1v1h-1zM150 494h1v1h-1zM158 494h1v1h-1zM182 494h1v1h-1zM101 495h1v1h-1zM103 495h1v1h-1zM105 495h1v1h-1zM117 495h1v1h-1zM123 495h1v1h-1zM131 495h1v1h-1zM133 495h1v1h-1zM135 495h1v1h-1zM137 495h1v1h-1zM139 495h1v1h-1zM141 495h1v1h-1zM145 495h1v1h-1zM155 495h1v1h-1zM159 495h1v1h-1zM161 495h1v1h-1zM169 495h1v1h-1zM171 495h1v1h-1zM173 495h1v1h-1zM177 495h1v1h-1zM183 495h1v1h-1zM187 495h1v1h-1zM197 495h1v1h-1zM110 496h1v1h-1zM112 496h1v1h-1zM124 496h1v1h-1zM126 496h1v1h-1zM132 496h1v1h-1zM136 496h1v1h-1zM140 496h1v1h-1zM146 496h1v1h-1zM148 496h1v1h-1zM170 496h1v1h-1zM174 496h1v1h-1zM176 496h1v1h-1zM178 496h1v1h-1zM180 496h1v1h-1zM194 496h1v1h-1zM204 496h1v1h-1zM87 497h1v1h-1zM113 497h1v1h-1zM115 497h1v1h-1zM123 497h1v1h-1zM139 497h1v1h-1zM147 497h1v1h-1zM151 497h1v1h-1zM163 497h1v1h-1zM169 497h1v1h-1zM173 497h1v1h-1zM193 497h1v1h-1zM106 498h1v1h-1zM122 498h1v1h-1zM138 498h1v1h-1zM140 498h1v1h-1zM142 498h1v1h-1zM144 498h1v1h-1zM166 498h1v1h-1zM170 498h1v1h-1zM178 498h1v1h-1zM186 498h1v1h-1zM192 498h1v1h-1zM196 498h1v1h-1zM200 498h1v1h-1zM202 498h1v1h-1zM85 499h1v1h-1zM95 499h1v1h-1zM109 499h1v1h-1zM115 499h1v1h-1zM123 499h1v1h-1zM129 499h1v1h-1zM131 499h1v1h-1zM133 499h1v1h-1zM135 499h1v1h-1zM139 499h1v1h-1zM149 499h1v1h-1zM155 499h1v1h-1zM163 499h1v1h-1zM195 499h1v1h-1zM197 499h1v1h-1zM112 500h1v1h-1zM126 500h1v1h-1zM136 500h1v1h-1zM138 500h1v1h-1zM144 500h1v1h-1zM146 500h1v1h-1zM148 500h1v1h-1zM166 500h1v1h-1zM178 500h1v1h-1zM184 500h1v1h-1zM121 501h1v1h-1zM125 501h1v1h-1zM131 501h1v1h-1zM133 501h1v1h-1zM135 501h1v1h-1zM147 501h1v1h-1zM153 501h1v1h-1zM155 501h1v1h-1zM175 501h1v1h-1zM207 501h1v1h-1zM78 502h1v1h-1zM100 502h1v1h-1zM102 502h1v1h-1zM118 502h1v1h-1zM130 502h1v1h-1zM134 502h1v1h-1zM140 502h1v1h-1zM142 502h1v1h-1zM144 502h1v1h-1zM146 502h1v1h-1zM152 502h1v1h-1zM172 502h1v1h-1zM182 502h1v1h-1zM109 503h1v1h-1zM115 503h1v1h-1zM119 503h1v1h-1zM121 503h1v1h-1zM127 503h1v1h-1zM129 503h1v1h-1zM133 503h1v1h-1zM135 503h1v1h-1zM137 503h1v1h-1zM141 503h1v1h-1zM199 503h1v1h-1zM120 504h1v1h-1zM124 504h1v1h-1zM144 504h1v1h-1zM146 504h1v1h-1zM154 504h1v1h-1zM156 504h1v1h-1zM176 504h1v1h-1zM182 504h1v1h-1zM111 505h1v1h-1zM121 505h1v1h-1zM131 505h1v1h-1zM135 505h1v1h-1zM145 505h1v1h-1zM153 505h1v1h-1zM163 505h1v1h-1zM185 505h1v1h-1zM189 505h1v1h-1zM120 506h1v1h-1zM122 506h1v1h-1zM130 506h1v1h-1zM132 506h1v1h-1zM144 506h1v1h-1zM146 506h1v1h-1zM200 506h1v1h-1zM139 507h1v1h-1zM197 507h1v1h-1zM98 508h1v1h-1zM148 508h1v1h-1zM152 508h1v1h-1zM188 508h1v1h-1zM117 509h1v1h-1zM151 509h1v1h-1zM173 509h1v1h-1zM120 510h1v1h-1zM150 510h1v1h-1zM152 510h1v1h-1zM166 510h1v1h-1zM87 511h1v1h-1zM89 511h1v1h-1zM105 511h1v1h-1zM135 511h1v1h-1zM141 511h1v1h-1zM167 511h1v1h-1zM120 512h1v1h-1zM139 513h1v1h-1zM147 513h1v1h-1zM153 513h1v1h-1zM150 514h1v1h-1zM164 514h1v1h-1zM176 514h1v1h-1zM180 514h1v1h-1zM110 516h1v1h-1zM170 516h1v1h-1zM127 519h1v1h-1zM154 520h1v1h-1zM174 520h1v1h-1zM104 524h1v1h-1zM147 527h1v1h-1zM90 528h1v1h-1zM75 529h1v1h-1zM202 532h1v1h-1z" fill="#aaa"/></g><path d="M33.5 518.5L36 517.5L38 519L44 518L46 521L52 522.5L55 526L57 530L54 532L55.5 536L52 537L50 542.5L45 541L42 543.5L38 540L34 542.5L30 541L28.5 537L29 533L27.5 529L28.5 524L31 523Z" fill="#3e3e3e" filter="url(#b05)"/><path d="M36 527h7v2h-7zM44 533h3v3h-3zM31 534h3v2h-3z" fill="#999"/><rect x="23.2" y="509" width="2.2" height="95" fill="#222"/><text transform="translate(23.90,361.60) scale(0.92,1)" font-size="34.5" style="font-family:'Liberation Sans',sans-serif" stroke="#000" stroke-width="0.45">C</text><text transform="translate(22.40,389.10) scale(1,1.28)" font-size="7.35" style="font-family:'Liberation Mono',monospace;font-weight:bold">G: A</text><text x="94.80" y="397.70" font-size="8.6" style="font-family:'Liberation Mono',monospace;font-weight:bold;font-weight:normal" text-anchor="start" >PMT3 VS PMT1</text><path d="M22.90 605.40v4.2M22.90 605.40h-4.2M38.47 605.40v4.2M22.90 589.89h-4.2M47.58 605.40v4.2M22.90 580.82h-4.2M54.04 605.40v4.2M22.90 574.38h-4.2M59.05 605.40v4.2M22.90 569.39h-4.2M63.15 605.40v4.2M22.90 565.31h-4.2M66.61 605.40v4.2M22.90 561.86h-4.2M69.61 605.40v4.2M22.90 558.87h-4.2M72.26 605.40v4.2M22.90 556.23h-4.2M74.62 605.40v4.2M22.90 553.88h-4.2M90.20 605.40v4.2M22.90 538.36h-4.2M99.30 605.40v4.2M22.90 529.29h-4.2M105.77 605.40v4.2M22.90 522.85h-4.2M110.78 605.40v4.2M22.90 517.86h-4.2M114.87 605.40v4.2M22.90 513.78h-4.2M118.34 605.40v4.2M22.90 510.33h-4.2M121.34 605.40v4.2M22.90 507.34h-4.2M123.98 605.40v4.2M22.90 504.71h-4.2M126.35 605.40v4.2M22.90 502.35h-4.2M141.92 605.40v4.2M22.90 486.84h-4.2M151.03 605.40v4.2M22.90 477.77h-4.2M157.49 605.40v4.2M22.90 471.33h-4.2M162.50 605.40v4.2M22.90 466.34h-4.2M166.60 605.40v4.2M22.90 462.26h-4.2M170.06 605.40v4.2M22.90 458.81h-4.2M173.06 605.40v4.2M22.90 455.82h-4.2M175.71 605.40v4.2M22.90 453.18h-4.2M178.08 605.40v4.2M22.90 450.82h-4.2M193.65 605.40v4.2M22.90 435.31h-4.2M202.75 605.40v4.2M22.90 426.24h-4.2M209.22 605.40v4.2M22.90 419.80h-4.2M214.23 605.40v4.2M22.90 414.81h-4.2M218.32 605.40v4.2M22.90 410.73h-4.2M221.79 605.40v4.2M22.90 407.28h-4.2M224.79 605.40v4.2M22.90 404.29h-4.2M227.43 605.40v4.2M22.90 401.66h-4.2M229.80 605.40v4.2M22.90 399.30h-4.2" stroke="#000" stroke-width="1.1" fill="none"/><rect x="22.90" y="399.30" width="206.90" height="206.10" fill="none" stroke="#000" stroke-width="1.7"/><path d="M92.30 402.10H209.00V605.40" fill="none" stroke="#505050" stroke-width="1.6"/><line x1="92.20" y1="399.30" x2="92.20" y2="508.55" stroke="#000" stroke-width="1.6"/><line x1="93.50" y1="508.55" x2="93.50" y2="605.40" stroke="#000" stroke-width="1.6"/><line x1="22.90" y1="508.55" x2="92.85" y2="508.55" stroke="#000" stroke-width="1.6"/><line x1="92.85" y1="508.55" x2="209.00" y2="508.55" stroke="#000" stroke-width="1.6"/><text transform="translate(18.00,608.95) rotate(-90) scale(1,1.12)" font-size="8" style="font-family:'Liberation Mono',monospace;font-weight:bold">.1</text><text transform="translate(18.00,553.93) rotate(-90) scale(1,1.12)" font-size="8" style="font-family:'Liberation Mono',monospace;font-weight:bold">1</text><text transform="translate(18.00,506.31) rotate(-90) scale(1,1.12)" font-size="8" style="font-family:'Liberation Mono',monospace;font-weight:bold">10</text><text transform="translate(18.00,460.72) rotate(-90) scale(1,1.12)" font-size="8" style="font-family:'Liberation Mono',monospace;font-weight:bold">100</text><text transform="translate(18.00,419.10) rotate(-90) scale(1,1.12)" font-size="8" style="font-family:'Liberation Mono',monospace;font-weight:bold">1000</text><text transform="translate(8.70,520.12) rotate(-90)" font-size="8.2" style="font-family:'Liberation Mono',monospace;font-weight:bold">HOECHST</text><text transform="translate(19.10,616.70) scale(1,1.18)" font-size="7.8" style="font-family:'Liberation Mono',monospace;font-weight:bold">.1</text><text transform="translate(74.10,616.70) scale(1,1.18)" font-size="7.8" style="font-family:'Liberation Mono',monospace;font-weight:bold">1</text><text transform="translate(120.50,616.70) scale(1,1.18)" font-size="7.8" style="font-family:'Liberation Mono',monospace;font-weight:bold">10</text><text transform="translate(167.90,616.70) scale(1,1.18)" font-size="7.8" style="font-family:'Liberation Mono',monospace;font-weight:bold">100</text><text transform="translate(208.40,616.70) scale(1,1.18)" font-size="7.8" style="font-family:'Liberation Mono',monospace;font-weight:bold">1000</text><text x="119.80" y="624.30" font-size="8.6" style="font-family:'Liberation Mono',monospace;font-weight:bold" text-anchor="start" >PI</text><text transform="translate(29.40,507.35) scale(1,1.2)" font-size="7.6" style="font-family:'Liberation Mono',monospace;font-weight:bold" text-anchor="start">E</text><text transform="translate(85.90,507.65) scale(1,1.2)" font-size="7.6" style="font-family:'Liberation Mono',monospace;font-weight:bold" text-anchor="end">F</text><text transform="translate(29.40,600.90) scale(1,1.2)" font-size="7.6" style="font-family:'Liberation Mono',monospace;font-weight:bold" text-anchor="start">D</text><text transform="translate(87.90,600.90) scale(1,1.2)" font-size="7.6" style="font-family:'Liberation Mono',monospace;font-weight:bold" text-anchor="end">G</text><rect x="57.47" y="486.10" width="30.12" height="11.5" fill="#fff"/><text x="86.80" y="495.70" font-size="12.5" style="font-family:'Liberation Serif',serif;font-weight:bold" text-anchor="end" >0.9%</text><rect x="171.68" y="486.70" width="30.12" height="11.5" fill="#fff"/><text x="201.00" y="496.30" font-size="12.5" style="font-family:'Liberation Serif',serif;font-weight:bold" text-anchor="end" >6.3%</text><rect x="50.62" y="577.10" width="36.38" height="11.5" fill="#fff"/><text x="86.20" y="586.70" font-size="12.5" style="font-family:'Liberation Serif',serif;font-weight:bold" text-anchor="end" >89.1%</text><rect x="171.68" y="577.30" width="30.12" height="11.5" fill="#fff"/><text x="201.00" y="586.90" font-size="12.5" style="font-family:'Liberation Serif',serif;font-weight:bold" text-anchor="end" >3.9%</text><g filter="url(#bd)"><path d="M461 471h1v1h-1zM449 479h1v1h-1zM450 480h1v1h-1zM460 480h1v1h-1zM447 481h1v1h-1zM455 481h1v1h-1zM459 481h1v1h-1zM454 482h1v1h-1zM455 483h1v1h-1zM448 484h1v1h-1zM452 484h1v1h-1zM454 484h1v1h-1zM458 484h1v1h-1zM462 484h1v1h-1zM449 485h1v1h-1zM451 485h1v1h-1zM454 486h1v1h-1zM447 487h1v1h-1zM453 487h1v1h-1zM459 487h1v1h-1zM454 488h1v1h-1zM456 488h1v1h-1zM449 489h1v1h-1zM451 489h1v1h-1zM438 490h1v1h-1zM444 490h1v1h-1zM450 490h1v1h-1zM468 490h1v1h-1zM443 491h1v1h-1zM445 491h1v1h-1zM449 491h1v1h-1zM455 491h1v1h-1zM457 491h1v1h-1zM461 491h1v1h-1zM446 492h1v1h-1zM450 492h1v1h-1zM454 492h1v1h-1zM456 492h1v1h-1zM449 493h1v1h-1zM455 493h1v1h-1zM457 493h1v1h-1zM459 493h1v1h-1zM446 494h1v1h-1zM448 494h1v1h-1zM450 494h1v1h-1zM452 494h1v1h-1zM460 494h1v1h-1zM462 494h1v1h-1zM443 495h1v1h-1zM445 495h1v1h-1zM447 495h1v1h-1zM449 495h1v1h-1zM463 495h1v1h-1zM450 496h1v1h-1zM454 496h1v1h-1zM458 496h1v1h-1zM447 497h1v1h-1zM449 497h1v1h-1zM451 497h1v1h-1zM453 497h1v1h-1zM459 497h1v1h-1zM461 497h1v1h-1zM448 498h1v1h-1zM454 498h1v1h-1zM456 498h1v1h-1zM460 498h1v1h-1zM449 499h1v1h-1zM451 499h1v1h-1zM448 500h1v1h-1zM454 500h1v1h-1zM458 500h1v1h-1zM464 500h1v1h-1zM451 501h1v1h-1zM453 501h1v1h-1zM455 501h1v1h-1zM454 502h1v1h-1zM444 504h1v1h-1zM454 504h1v1h-1zM458 504h1v1h-1zM457 505h1v1h-1zM454 506h1v1h-1zM444 510h1v1h-1zM445 515h1v1h-1zM456 516h1v1h-1z" fill="#555"/><path d="M314 528h1v1h-1zM316 528h1v1h-1zM320 528h1v1h-1zM322 528h1v1h-1zM326 528h1v1h-1zM344 528h1v1h-1zM348 528h1v1h-1zM350 528h1v1h-1zM317 529h1v1h-1zM321 529h1v1h-1zM331 529h1v1h-1zM326 530h1v1h-1zM309 531h1v1h-1zM311 531h1v1h-1zM337 531h1v1h-1zM341 531h1v1h-1zM343 531h1v1h-1zM349 531h1v1h-1zM353 531h1v1h-1zM355 531h1v1h-1zM357 531h1v1h-1zM308 532h1v1h-1zM312 532h1v1h-1zM316 532h1v1h-1zM318 532h1v1h-1zM320 532h1v1h-1zM326 532h1v1h-1zM360 532h1v1h-1zM374 532h1v1h-1zM315 533h1v1h-1zM333 533h1v1h-1zM339 533h1v1h-1zM367 533h1v1h-1zM369 533h1v1h-1zM312 534h1v1h-1zM324 534h1v1h-1zM328 534h1v1h-1zM330 534h1v1h-1zM348 534h1v1h-1zM362 534h1v1h-1zM364 534h1v1h-1zM370 534h1v1h-1zM317 535h1v1h-1zM325 535h1v1h-1zM335 535h1v1h-1zM369 535h1v1h-1zM308 536h1v1h-1zM324 536h1v1h-1zM332 536h1v1h-1zM338 536h1v1h-1zM346 536h1v1h-1zM374 536h1v1h-1zM321 537h1v1h-1zM329 537h1v1h-1zM339 537h1v1h-1zM345 537h1v1h-1zM347 537h1v1h-1zM353 537h1v1h-1zM369 537h1v1h-1zM371 537h1v1h-1zM308 538h1v1h-1zM312 538h1v1h-1zM316 538h1v1h-1zM322 538h1v1h-1zM336 538h1v1h-1zM344 538h1v1h-1zM348 538h1v1h-1zM354 538h1v1h-1zM356 538h1v1h-1zM364 538h1v1h-1zM366 538h1v1h-1zM372 538h1v1h-1zM311 539h1v1h-1zM317 539h1v1h-1zM323 539h1v1h-1zM333 539h1v1h-1zM337 539h1v1h-1zM353 539h1v1h-1zM357 539h1v1h-1zM363 539h1v1h-1zM369 539h1v1h-1zM316 540h1v1h-1zM350 540h1v1h-1zM364 540h1v1h-1zM374 540h1v1h-1zM311 541h1v1h-1zM313 541h1v1h-1zM319 541h1v1h-1zM323 541h1v1h-1zM327 541h1v1h-1zM331 541h1v1h-1zM335 541h1v1h-1zM359 541h1v1h-1zM367 541h1v1h-1zM375 541h1v1h-1zM314 542h1v1h-1zM320 542h1v1h-1zM311 543h1v1h-1zM345 543h1v1h-1zM373 543h1v1h-1zM312 544h1v1h-1zM320 544h1v1h-1zM332 544h1v1h-1zM364 544h1v1h-1zM372 544h1v1h-1zM309 545h1v1h-1zM337 545h1v1h-1zM351 545h1v1h-1zM363 545h1v1h-1zM367 545h1v1h-1zM308 546h1v1h-1zM316 546h1v1h-1zM330 546h1v1h-1zM332 546h1v1h-1zM338 546h1v1h-1zM342 546h1v1h-1zM344 546h1v1h-1zM348 546h1v1h-1zM372 546h1v1h-1zM374 546h1v1h-1zM323 547h1v1h-1zM325 547h1v1h-1zM333 547h1v1h-1zM351 547h1v1h-1zM353 547h1v1h-1zM355 547h1v1h-1zM361 547h1v1h-1zM365 547h1v1h-1zM367 547h1v1h-1zM375 547h1v1h-1zM322 548h1v1h-1zM326 548h1v1h-1zM340 548h1v1h-1zM350 548h1v1h-1zM372 548h1v1h-1zM309 549h1v1h-1zM323 549h1v1h-1zM371 549h1v1h-1zM312 550h1v1h-1zM322 550h1v1h-1zM330 550h1v1h-1zM334 550h1v1h-1zM338 550h1v1h-1zM342 550h1v1h-1zM348 550h1v1h-1zM364 550h1v1h-1zM372 550h1v1h-1zM315 551h1v1h-1zM323 551h1v1h-1zM353 551h1v1h-1zM361 551h1v1h-1zM369 551h1v1h-1zM320 552h1v1h-1zM322 552h1v1h-1zM332 552h1v1h-1zM338 552h1v1h-1zM346 552h1v1h-1zM354 552h1v1h-1zM309 553h1v1h-1zM357 553h1v1h-1zM318 554h1v1h-1zM324 554h1v1h-1zM342 554h1v1h-1zM344 554h1v1h-1zM346 554h1v1h-1zM309 555h1v1h-1zM315 555h1v1h-1zM325 555h1v1h-1zM339 555h1v1h-1zM353 555h1v1h-1zM373 555h1v1h-1zM310 556h1v1h-1zM322 556h1v1h-1zM334 556h1v1h-1zM336 556h1v1h-1zM350 556h1v1h-1zM354 556h1v1h-1zM364 556h1v1h-1zM374 556h1v1h-1zM309 557h1v1h-1zM327 557h1v1h-1zM331 557h1v1h-1zM351 557h1v1h-1zM357 557h1v1h-1zM361 557h1v1h-1zM363 557h1v1h-1zM375 557h1v1h-1zM324 558h1v1h-1zM328 558h1v1h-1zM348 558h1v1h-1zM362 558h1v1h-1zM315 559h1v1h-1zM317 559h1v1h-1zM325 559h1v1h-1zM343 559h1v1h-1zM351 559h1v1h-1zM365 559h1v1h-1zM375 559h1v1h-1zM308 560h1v1h-1zM310 560h1v1h-1zM316 560h1v1h-1zM320 560h1v1h-1zM332 560h1v1h-1zM338 560h1v1h-1zM344 560h1v1h-1zM348 560h1v1h-1zM358 560h1v1h-1zM360 560h1v1h-1zM364 560h1v1h-1zM370 560h1v1h-1zM311 561h1v1h-1zM313 561h1v1h-1zM325 561h1v1h-1zM337 561h1v1h-1zM347 561h1v1h-1zM351 561h1v1h-1zM363 561h1v1h-1zM369 561h1v1h-1zM373 561h1v1h-1zM316 562h1v1h-1zM332 562h1v1h-1zM340 562h1v1h-1zM348 562h1v1h-1zM350 562h1v1h-1zM362 562h1v1h-1zM309 563h1v1h-1zM317 563h1v1h-1zM329 563h1v1h-1zM331 563h1v1h-1zM335 563h1v1h-1zM339 563h1v1h-1zM351 563h1v1h-1zM361 563h1v1h-1zM367 563h1v1h-1zM320 564h1v1h-1zM326 564h1v1h-1zM336 564h1v1h-1zM354 564h1v1h-1zM356 564h1v1h-1zM358 564h1v1h-1zM313 565h1v1h-1zM321 565h1v1h-1zM357 565h1v1h-1zM365 565h1v1h-1zM367 565h1v1h-1zM318 566h1v1h-1zM320 566h1v1h-1zM336 566h1v1h-1zM338 566h1v1h-1zM358 566h1v1h-1zM372 566h1v1h-1zM313 567h1v1h-1zM315 567h1v1h-1zM317 567h1v1h-1zM321 567h1v1h-1zM359 567h1v1h-1zM320 568h1v1h-1zM332 568h1v1h-1zM336 568h1v1h-1zM352 568h1v1h-1zM354 568h1v1h-1zM362 568h1v1h-1zM313 569h1v1h-1zM319 569h1v1h-1zM323 569h1v1h-1zM371 569h1v1h-1zM375 569h1v1h-1zM314 570h1v1h-1zM320 570h1v1h-1zM336 570h1v1h-1zM338 570h1v1h-1zM352 570h1v1h-1zM370 570h1v1h-1zM374 570h1v1h-1zM309 571h1v1h-1zM319 571h1v1h-1zM321 571h1v1h-1zM329 571h1v1h-1zM347 571h1v1h-1zM357 571h1v1h-1zM365 571h1v1h-1zM367 571h1v1h-1zM369 571h1v1h-1zM375 571h1v1h-1zM312 572h1v1h-1zM314 572h1v1h-1zM330 572h1v1h-1zM332 572h1v1h-1zM342 572h1v1h-1zM370 572h1v1h-1zM372 572h1v1h-1zM317 573h1v1h-1zM325 573h1v1h-1zM331 573h1v1h-1zM343 573h1v1h-1zM353 573h1v1h-1zM363 573h1v1h-1zM371 573h1v1h-1zM322 574h1v1h-1zM324 574h1v1h-1zM334 574h1v1h-1zM342 574h1v1h-1zM346 574h1v1h-1zM348 574h1v1h-1zM370 574h1v1h-1zM374 574h1v1h-1zM325 575h1v1h-1zM335 575h1v1h-1zM371 575h1v1h-1zM312 576h1v1h-1zM316 576h1v1h-1zM318 576h1v1h-1zM332 576h1v1h-1zM344 576h1v1h-1zM358 576h1v1h-1zM364 576h1v1h-1zM321 577h1v1h-1zM325 577h1v1h-1zM337 577h1v1h-1zM339 577h1v1h-1zM343 577h1v1h-1zM357 577h1v1h-1zM373 577h1v1h-1zM375 577h1v1h-1zM326 578h1v1h-1zM338 578h1v1h-1zM342 578h1v1h-1zM364 578h1v1h-1zM319 579h1v1h-1zM323 579h1v1h-1zM325 579h1v1h-1zM331 579h1v1h-1zM335 579h1v1h-1zM359 579h1v1h-1zM367 579h1v1h-1zM320 580h1v1h-1zM326 580h1v1h-1zM328 580h1v1h-1zM332 580h1v1h-1zM334 580h1v1h-1zM338 580h1v1h-1zM342 580h1v1h-1zM364 580h1v1h-1zM368 580h1v1h-1zM370 580h1v1h-1zM311 581h1v1h-1zM319 581h1v1h-1zM321 581h1v1h-1zM329 581h1v1h-1zM355 581h1v1h-1zM363 581h1v1h-1zM373 581h1v1h-1zM375 581h1v1h-1zM312 582h1v1h-1zM324 582h1v1h-1zM326 582h1v1h-1zM330 582h1v1h-1zM332 582h1v1h-1zM338 582h1v1h-1zM350 582h1v1h-1zM354 582h1v1h-1zM366 582h1v1h-1zM329 583h1v1h-1zM335 583h1v1h-1zM347 583h1v1h-1zM367 583h1v1h-1zM371 583h1v1h-1zM318 584h1v1h-1zM356 584h1v1h-1zM358 584h1v1h-1zM309 585h1v1h-1zM311 585h1v1h-1zM315 585h1v1h-1zM325 585h1v1h-1zM335 585h1v1h-1zM341 585h1v1h-1zM345 585h1v1h-1zM347 585h1v1h-1zM349 585h1v1h-1zM355 585h1v1h-1zM359 585h1v1h-1zM365 585h1v1h-1zM369 585h1v1h-1zM371 585h1v1h-1zM312 586h1v1h-1zM316 586h1v1h-1zM338 586h1v1h-1zM356 586h1v1h-1zM358 586h1v1h-1zM366 586h1v1h-1zM313 587h1v1h-1zM317 587h1v1h-1zM319 587h1v1h-1zM323 587h1v1h-1zM333 587h1v1h-1zM343 587h1v1h-1zM357 587h1v1h-1zM359 587h1v1h-1zM365 587h1v1h-1zM367 587h1v1h-1zM371 587h1v1h-1zM334 588h1v1h-1zM348 588h1v1h-1zM358 588h1v1h-1zM319 589h1v1h-1zM321 589h1v1h-1zM333 589h1v1h-1zM349 589h1v1h-1zM363 589h1v1h-1zM371 589h1v1h-1zM310 590h1v1h-1zM314 590h1v1h-1zM322 590h1v1h-1zM342 590h1v1h-1zM344 590h1v1h-1zM348 590h1v1h-1zM350 590h1v1h-1zM311 591h1v1h-1zM315 591h1v1h-1zM343 591h1v1h-1zM345 591h1v1h-1zM349 591h1v1h-1zM351 591h1v1h-1zM369 591h1v1h-1zM373 591h1v1h-1zM312 592h1v1h-1zM316 592h1v1h-1zM320 592h1v1h-1zM344 592h1v1h-1zM362 592h1v1h-1zM366 592h1v1h-1zM325 593h1v1h-1zM335 593h1v1h-1zM337 593h1v1h-1zM341 593h1v1h-1zM365 593h1v1h-1zM371 593h1v1h-1zM373 593h1v1h-1zM310 594h1v1h-1zM312 594h1v1h-1zM316 594h1v1h-1zM330 594h1v1h-1zM342 594h1v1h-1zM346 594h1v1h-1zM354 594h1v1h-1zM360 594h1v1h-1zM374 594h1v1h-1zM327 595h1v1h-1zM343 595h1v1h-1zM349 595h1v1h-1zM351 595h1v1h-1zM355 595h1v1h-1zM357 595h1v1h-1zM359 595h1v1h-1zM361 595h1v1h-1zM369 595h1v1h-1zM318 596h1v1h-1zM330 596h1v1h-1zM350 596h1v1h-1zM356 596h1v1h-1zM358 596h1v1h-1zM370 596h1v1h-1zM325 597h1v1h-1zM329 597h1v1h-1zM341 597h1v1h-1zM349 597h1v1h-1zM351 597h1v1h-1zM361 597h1v1h-1zM375 597h1v1h-1zM310 598h1v1h-1zM322 598h1v1h-1zM334 598h1v1h-1zM338 598h1v1h-1zM342 598h1v1h-1zM350 598h1v1h-1zM364 598h1v1h-1zM370 598h1v1h-1zM372 598h1v1h-1zM374 598h1v1h-1zM311 599h1v1h-1zM313 599h1v1h-1zM339 599h1v1h-1zM343 599h1v1h-1zM353 599h1v1h-1zM359 599h1v1h-1zM363 599h1v1h-1zM308 600h1v1h-1zM310 600h1v1h-1zM312 600h1v1h-1zM318 600h1v1h-1zM328 600h1v1h-1zM330 600h1v1h-1zM350 600h1v1h-1zM362 600h1v1h-1zM313 601h1v1h-1zM317 601h1v1h-1zM323 601h1v1h-1zM335 601h1v1h-1zM337 601h1v1h-1zM341 601h1v1h-1zM351 601h1v1h-1zM373 601h1v1h-1zM308 602h1v1h-1zM310 602h1v1h-1zM316 602h1v1h-1zM322 602h1v1h-1zM324 602h1v1h-1zM344 602h1v1h-1zM352 602h1v1h-1zM358 602h1v1h-1zM335 603h1v1h-1zM347 603h1v1h-1zM349 603h1v1h-1zM355 603h1v1h-1zM357 603h1v1h-1z" fill="#888"/><path d="M383 423h1v1h-1zM385 435h1v1h-1zM453 445h1v1h-1zM468 446h1v1h-1zM447 449h1v1h-1zM313 451h1v1h-1zM338 454h1v1h-1zM442 454h1v1h-1zM423 455h1v1h-1zM465 455h1v1h-1zM332 456h1v1h-1zM447 457h1v1h-1zM453 457h1v1h-1zM330 458h1v1h-1zM448 458h1v1h-1zM454 458h1v1h-1zM470 460h1v1h-1zM461 461h1v1h-1zM464 462h1v1h-1zM469 463h1v1h-1zM436 464h1v1h-1zM454 464h1v1h-1zM458 464h1v1h-1zM464 464h1v1h-1zM459 465h1v1h-1zM448 466h1v1h-1zM456 466h1v1h-1zM466 466h1v1h-1zM449 467h1v1h-1zM451 467h1v1h-1zM471 467h1v1h-1zM452 468h1v1h-1zM454 468h1v1h-1zM456 468h1v1h-1zM464 468h1v1h-1zM447 469h1v1h-1zM463 469h1v1h-1zM465 469h1v1h-1zM451 471h1v1h-1zM444 472h1v1h-1zM446 472h1v1h-1zM450 472h1v1h-1zM441 473h1v1h-1zM443 473h1v1h-1zM453 473h1v1h-1zM457 473h1v1h-1zM465 473h1v1h-1zM436 474h1v1h-1zM442 474h1v1h-1zM454 474h1v1h-1zM458 474h1v1h-1zM429 475h1v1h-1zM447 475h1v1h-1zM449 475h1v1h-1zM457 475h1v1h-1zM459 475h1v1h-1zM461 475h1v1h-1zM465 475h1v1h-1zM448 476h1v1h-1zM452 476h1v1h-1zM454 476h1v1h-1zM456 476h1v1h-1zM458 476h1v1h-1zM460 476h1v1h-1zM466 476h1v1h-1zM443 477h1v1h-1zM445 477h1v1h-1zM449 477h1v1h-1zM453 477h1v1h-1zM455 477h1v1h-1zM459 477h1v1h-1zM461 477h1v1h-1zM465 477h1v1h-1zM469 477h1v1h-1zM475 477h1v1h-1zM420 478h1v1h-1zM426 478h1v1h-1zM440 478h1v1h-1zM448 478h1v1h-1zM450 478h1v1h-1zM454 478h1v1h-1zM456 478h1v1h-1zM458 478h1v1h-1zM462 478h1v1h-1zM431 479h1v1h-1zM437 479h1v1h-1zM441 479h1v1h-1zM445 479h1v1h-1zM447 479h1v1h-1zM451 479h1v1h-1zM455 479h1v1h-1zM457 479h1v1h-1zM461 479h1v1h-1zM473 479h1v1h-1zM434 480h1v1h-1zM440 480h1v1h-1zM446 480h1v1h-1zM448 480h1v1h-1zM456 480h1v1h-1zM458 480h1v1h-1zM462 480h1v1h-1zM466 480h1v1h-1zM468 480h1v1h-1zM472 480h1v1h-1zM441 481h1v1h-1zM443 481h1v1h-1zM445 481h1v1h-1zM449 481h1v1h-1zM451 481h1v1h-1zM453 481h1v1h-1zM457 481h1v1h-1zM461 481h1v1h-1zM465 481h1v1h-1zM469 481h1v1h-1zM471 481h1v1h-1zM438 482h1v1h-1zM440 482h1v1h-1zM446 482h1v1h-1zM448 482h1v1h-1zM450 482h1v1h-1zM456 482h1v1h-1zM460 482h1v1h-1zM464 482h1v1h-1zM441 483h1v1h-1zM445 483h1v1h-1zM447 483h1v1h-1zM449 483h1v1h-1zM451 483h1v1h-1zM453 483h1v1h-1zM457 483h1v1h-1zM459 483h1v1h-1zM461 483h1v1h-1zM463 483h1v1h-1zM465 483h1v1h-1zM475 483h1v1h-1zM426 484h1v1h-1zM440 484h1v1h-1zM442 484h1v1h-1zM444 484h1v1h-1zM450 484h1v1h-1zM456 484h1v1h-1zM464 484h1v1h-1zM466 484h1v1h-1zM468 484h1v1h-1zM472 484h1v1h-1zM437 485h1v1h-1zM441 485h1v1h-1zM447 485h1v1h-1zM455 485h1v1h-1zM457 485h1v1h-1zM459 485h1v1h-1zM461 485h1v1h-1zM463 485h1v1h-1zM465 485h1v1h-1zM467 485h1v1h-1zM430 486h1v1h-1zM436 486h1v1h-1zM438 486h1v1h-1zM444 486h1v1h-1zM446 486h1v1h-1zM448 486h1v1h-1zM452 486h1v1h-1zM456 486h1v1h-1zM458 486h1v1h-1zM460 486h1v1h-1zM462 486h1v1h-1zM466 486h1v1h-1zM484 486h1v1h-1zM435 487h1v1h-1zM439 487h1v1h-1zM443 487h1v1h-1zM445 487h1v1h-1zM449 487h1v1h-1zM451 487h1v1h-1zM455 487h1v1h-1zM463 487h1v1h-1zM465 487h1v1h-1zM467 487h1v1h-1zM469 487h1v1h-1zM471 487h1v1h-1zM442 488h1v1h-1zM448 488h1v1h-1zM452 488h1v1h-1zM458 488h1v1h-1zM462 488h1v1h-1zM464 488h1v1h-1zM466 488h1v1h-1zM470 488h1v1h-1zM484 488h1v1h-1zM433 489h1v1h-1zM437 489h1v1h-1zM439 489h1v1h-1zM445 489h1v1h-1zM447 489h1v1h-1zM453 489h1v1h-1zM455 489h1v1h-1zM457 489h1v1h-1zM459 489h1v1h-1zM461 489h1v1h-1zM463 489h1v1h-1zM465 489h1v1h-1zM432 490h1v1h-1zM440 490h1v1h-1zM446 490h1v1h-1zM448 490h1v1h-1zM452 490h1v1h-1zM456 490h1v1h-1zM458 490h1v1h-1zM460 490h1v1h-1zM464 490h1v1h-1zM466 490h1v1h-1zM472 490h1v1h-1zM474 490h1v1h-1zM441 491h1v1h-1zM447 491h1v1h-1zM451 491h1v1h-1zM453 491h1v1h-1zM465 491h1v1h-1zM471 491h1v1h-1zM473 491h1v1h-1zM426 492h1v1h-1zM438 492h1v1h-1zM440 492h1v1h-1zM444 492h1v1h-1zM448 492h1v1h-1zM458 492h1v1h-1zM462 492h1v1h-1zM464 492h1v1h-1zM466 492h1v1h-1zM468 492h1v1h-1zM435 493h1v1h-1zM441 493h1v1h-1zM445 493h1v1h-1zM447 493h1v1h-1zM451 493h1v1h-1zM453 493h1v1h-1zM461 493h1v1h-1zM463 493h1v1h-1zM465 493h1v1h-1zM467 493h1v1h-1zM473 493h1v1h-1zM370 494h1v1h-1zM434 494h1v1h-1zM436 494h1v1h-1zM438 494h1v1h-1zM440 494h1v1h-1zM442 494h1v1h-1zM456 494h1v1h-1zM464 494h1v1h-1zM468 494h1v1h-1zM474 494h1v1h-1zM433 495h1v1h-1zM437 495h1v1h-1zM441 495h1v1h-1zM451 495h1v1h-1zM453 495h1v1h-1zM455 495h1v1h-1zM457 495h1v1h-1zM459 495h1v1h-1zM465 495h1v1h-1zM467 495h1v1h-1zM469 495h1v1h-1zM424 496h1v1h-1zM436 496h1v1h-1zM438 496h1v1h-1zM442 496h1v1h-1zM446 496h1v1h-1zM448 496h1v1h-1zM452 496h1v1h-1zM460 496h1v1h-1zM462 496h1v1h-1zM464 496h1v1h-1zM466 496h1v1h-1zM468 496h1v1h-1zM435 497h1v1h-1zM441 497h1v1h-1zM443 497h1v1h-1zM445 497h1v1h-1zM455 497h1v1h-1zM457 497h1v1h-1zM465 497h1v1h-1zM467 497h1v1h-1zM438 498h1v1h-1zM440 498h1v1h-1zM442 498h1v1h-1zM444 498h1v1h-1zM446 498h1v1h-1zM450 498h1v1h-1zM452 498h1v1h-1zM458 498h1v1h-1zM462 498h1v1h-1zM466 498h1v1h-1zM470 498h1v1h-1zM437 499h1v1h-1zM439 499h1v1h-1zM441 499h1v1h-1zM443 499h1v1h-1zM445 499h1v1h-1zM455 499h1v1h-1zM457 499h1v1h-1zM463 499h1v1h-1zM465 499h1v1h-1zM467 499h1v1h-1zM469 499h1v1h-1zM475 499h1v1h-1zM479 499h1v1h-1zM436 500h1v1h-1zM442 500h1v1h-1zM444 500h1v1h-1zM446 500h1v1h-1zM450 500h1v1h-1zM456 500h1v1h-1zM460 500h1v1h-1zM462 500h1v1h-1zM466 500h1v1h-1zM472 500h1v1h-1zM439 501h1v1h-1zM441 501h1v1h-1zM443 501h1v1h-1zM447 501h1v1h-1zM449 501h1v1h-1zM457 501h1v1h-1zM461 501h1v1h-1zM465 501h1v1h-1zM467 501h1v1h-1zM469 501h1v1h-1zM475 501h1v1h-1zM440 502h1v1h-1zM448 502h1v1h-1zM450 502h1v1h-1zM456 502h1v1h-1zM458 502h1v1h-1zM460 502h1v1h-1zM462 502h1v1h-1zM466 502h1v1h-1zM468 502h1v1h-1zM470 502h1v1h-1zM437 503h1v1h-1zM439 503h1v1h-1zM441 503h1v1h-1zM443 503h1v1h-1zM445 503h1v1h-1zM451 503h1v1h-1zM453 503h1v1h-1zM455 503h1v1h-1zM457 503h1v1h-1zM459 503h1v1h-1zM461 503h1v1h-1zM465 503h1v1h-1zM467 503h1v1h-1zM471 503h1v1h-1zM473 503h1v1h-1zM479 503h1v1h-1zM436 504h1v1h-1zM438 504h1v1h-1zM440 504h1v1h-1zM442 504h1v1h-1zM450 504h1v1h-1zM452 504h1v1h-1zM456 504h1v1h-1zM460 504h1v1h-1zM462 504h1v1h-1zM464 504h1v1h-1zM468 504h1v1h-1zM470 504h1v1h-1zM427 505h1v1h-1zM437 505h1v1h-1zM445 505h1v1h-1zM447 505h1v1h-1zM451 505h1v1h-1zM455 505h1v1h-1zM459 505h1v1h-1zM463 505h1v1h-1zM465 505h1v1h-1zM479 505h1v1h-1zM436 506h1v1h-1zM438 506h1v1h-1zM440 506h1v1h-1zM442 506h1v1h-1zM444 506h1v1h-1zM446 506h1v1h-1zM448 506h1v1h-1zM450 506h1v1h-1zM452 506h1v1h-1zM456 506h1v1h-1zM458 506h1v1h-1zM462 506h1v1h-1zM470 506h1v1h-1zM472 506h1v1h-1zM435 507h1v1h-1zM443 507h1v1h-1zM449 507h1v1h-1zM453 507h1v1h-1zM455 507h1v1h-1zM459 507h1v1h-1zM461 507h1v1h-1zM463 507h1v1h-1zM465 507h1v1h-1zM438 508h1v1h-1zM444 508h1v1h-1zM448 508h1v1h-1zM452 508h1v1h-1zM454 508h1v1h-1zM456 508h1v1h-1zM458 508h1v1h-1zM460 508h1v1h-1zM462 508h1v1h-1zM464 508h1v1h-1zM466 508h1v1h-1zM472 508h1v1h-1zM476 508h1v1h-1zM480 508h1v1h-1zM435 509h1v1h-1zM437 509h1v1h-1zM441 509h1v1h-1zM443 509h1v1h-1zM445 509h1v1h-1zM447 509h1v1h-1zM449 509h1v1h-1zM451 509h1v1h-1zM453 509h1v1h-1zM455 509h1v1h-1zM457 509h1v1h-1zM459 509h1v1h-1zM461 509h1v1h-1zM463 509h1v1h-1zM465 509h1v1h-1zM475 509h1v1h-1zM442 510h1v1h-1zM446 510h1v1h-1zM448 510h1v1h-1zM450 510h1v1h-1zM452 510h1v1h-1zM456 510h1v1h-1zM460 510h1v1h-1zM462 510h1v1h-1zM468 510h1v1h-1zM472 510h1v1h-1zM474 510h1v1h-1zM441 511h1v1h-1zM443 511h1v1h-1zM447 511h1v1h-1zM449 511h1v1h-1zM451 511h1v1h-1zM453 511h1v1h-1zM455 511h1v1h-1zM459 511h1v1h-1zM463 511h1v1h-1zM434 512h1v1h-1zM442 512h1v1h-1zM444 512h1v1h-1zM446 512h1v1h-1zM448 512h1v1h-1zM452 512h1v1h-1zM454 512h1v1h-1zM456 512h1v1h-1zM458 512h1v1h-1zM460 512h1v1h-1zM462 512h1v1h-1zM464 512h1v1h-1zM466 512h1v1h-1zM468 512h1v1h-1zM474 512h1v1h-1zM476 512h1v1h-1zM431 513h1v1h-1zM435 513h1v1h-1zM443 513h1v1h-1zM445 513h1v1h-1zM447 513h1v1h-1zM449 513h1v1h-1zM453 513h1v1h-1zM455 513h1v1h-1zM457 513h1v1h-1zM463 513h1v1h-1zM465 513h1v1h-1zM469 513h1v1h-1zM471 513h1v1h-1zM442 514h1v1h-1zM444 514h1v1h-1zM448 514h1v1h-1zM450 514h1v1h-1zM454 514h1v1h-1zM458 514h1v1h-1zM460 514h1v1h-1zM462 514h1v1h-1zM464 514h1v1h-1zM466 514h1v1h-1zM468 514h1v1h-1zM437 515h1v1h-1zM443 515h1v1h-1zM449 515h1v1h-1zM451 515h1v1h-1zM453 515h1v1h-1zM455 515h1v1h-1zM457 515h1v1h-1zM461 515h1v1h-1zM465 515h1v1h-1zM469 515h1v1h-1zM436 516h1v1h-1zM444 516h1v1h-1zM448 516h1v1h-1zM450 516h1v1h-1zM454 516h1v1h-1zM462 516h1v1h-1zM433 517h1v1h-1zM435 517h1v1h-1zM441 517h1v1h-1zM443 517h1v1h-1zM445 517h1v1h-1zM447 517h1v1h-1zM451 517h1v1h-1zM463 517h1v1h-1zM475 517h1v1h-1zM438 518h1v1h-1zM444 518h1v1h-1zM452 518h1v1h-1zM454 518h1v1h-1zM456 518h1v1h-1zM458 518h1v1h-1zM429 519h1v1h-1zM443 519h1v1h-1zM447 519h1v1h-1zM449 519h1v1h-1zM451 519h1v1h-1zM453 519h1v1h-1zM457 519h1v1h-1zM463 519h1v1h-1zM424 520h1v1h-1zM444 520h1v1h-1zM446 520h1v1h-1zM452 520h1v1h-1zM456 520h1v1h-1zM458 520h1v1h-1zM460 520h1v1h-1zM466 520h1v1h-1zM445 521h1v1h-1zM447 521h1v1h-1zM449 521h1v1h-1zM451 521h1v1h-1zM455 521h1v1h-1zM469 521h1v1h-1zM444 522h1v1h-1zM448 522h1v1h-1zM450 522h1v1h-1zM456 522h1v1h-1zM462 522h1v1h-1zM464 522h1v1h-1zM443 523h1v1h-1zM445 523h1v1h-1zM451 523h1v1h-1zM465 523h1v1h-1zM436 524h1v1h-1zM444 524h1v1h-1zM466 524h1v1h-1zM435 525h1v1h-1zM455 525h1v1h-1zM471 525h1v1h-1zM436 526h1v1h-1zM446 526h1v1h-1zM450 526h1v1h-1zM449 527h1v1h-1zM457 527h1v1h-1zM461 527h1v1h-1zM469 527h1v1h-1zM471 527h1v1h-1zM475 527h1v1h-1zM382 528h1v1h-1zM386 528h1v1h-1zM394 528h1v1h-1zM402 528h1v1h-1zM420 528h1v1h-1zM432 528h1v1h-1zM436 528h1v1h-1zM442 528h1v1h-1zM464 528h1v1h-1zM385 529h1v1h-1zM409 529h1v1h-1zM427 529h1v1h-1zM453 529h1v1h-1zM380 530h1v1h-1zM388 530h1v1h-1zM392 530h1v1h-1zM404 530h1v1h-1zM416 530h1v1h-1zM436 530h1v1h-1zM438 530h1v1h-1zM440 530h1v1h-1zM444 530h1v1h-1zM446 530h1v1h-1zM450 530h1v1h-1zM458 530h1v1h-1zM466 530h1v1h-1zM468 530h1v1h-1zM470 530h1v1h-1zM377 531h1v1h-1zM383 531h1v1h-1zM395 531h1v1h-1zM401 531h1v1h-1zM437 531h1v1h-1zM441 531h1v1h-1zM445 531h1v1h-1zM449 531h1v1h-1zM455 531h1v1h-1zM459 531h1v1h-1zM461 531h1v1h-1zM463 531h1v1h-1zM398 532h1v1h-1zM426 532h1v1h-1zM432 532h1v1h-1zM450 532h1v1h-1zM466 532h1v1h-1zM399 533h1v1h-1zM403 533h1v1h-1zM407 533h1v1h-1zM445 533h1v1h-1zM447 533h1v1h-1zM457 533h1v1h-1zM465 533h1v1h-1zM380 534h1v1h-1zM386 534h1v1h-1zM418 534h1v1h-1zM432 534h1v1h-1zM440 534h1v1h-1zM456 534h1v1h-1zM468 534h1v1h-1zM441 535h1v1h-1zM449 535h1v1h-1zM451 535h1v1h-1zM465 535h1v1h-1zM396 536h1v1h-1zM422 536h1v1h-1zM424 536h1v1h-1zM432 536h1v1h-1zM434 536h1v1h-1zM438 536h1v1h-1zM440 536h1v1h-1zM444 536h1v1h-1zM452 536h1v1h-1zM458 536h1v1h-1zM393 537h1v1h-1zM415 537h1v1h-1zM427 537h1v1h-1zM447 537h1v1h-1zM449 537h1v1h-1zM388 538h1v1h-1zM400 538h1v1h-1zM458 538h1v1h-1zM381 539h1v1h-1zM383 539h1v1h-1zM403 539h1v1h-1zM437 539h1v1h-1zM461 539h1v1h-1zM404 540h1v1h-1zM430 540h1v1h-1zM456 540h1v1h-1zM470 540h1v1h-1zM474 540h1v1h-1zM385 541h1v1h-1zM411 541h1v1h-1zM421 541h1v1h-1zM425 541h1v1h-1zM429 541h1v1h-1zM437 541h1v1h-1zM451 541h1v1h-1zM457 541h1v1h-1zM467 541h1v1h-1zM469 541h1v1h-1zM384 542h1v1h-1zM394 542h1v1h-1zM402 542h1v1h-1zM406 542h1v1h-1zM408 542h1v1h-1zM410 542h1v1h-1zM412 542h1v1h-1zM416 542h1v1h-1zM426 542h1v1h-1zM436 542h1v1h-1zM438 542h1v1h-1zM460 542h1v1h-1zM383 543h1v1h-1zM397 543h1v1h-1zM409 543h1v1h-1zM439 543h1v1h-1zM445 543h1v1h-1zM447 543h1v1h-1zM459 543h1v1h-1zM461 543h1v1h-1zM386 544h1v1h-1zM398 544h1v1h-1zM408 544h1v1h-1zM450 544h1v1h-1zM460 544h1v1h-1zM474 544h1v1h-1zM385 545h1v1h-1zM417 545h1v1h-1zM419 545h1v1h-1zM447 545h1v1h-1zM449 545h1v1h-1zM459 545h1v1h-1zM465 545h1v1h-1zM380 546h1v1h-1zM400 546h1v1h-1zM426 546h1v1h-1zM430 546h1v1h-1zM450 546h1v1h-1zM464 546h1v1h-1zM395 547h1v1h-1zM399 547h1v1h-1zM461 547h1v1h-1zM378 548h1v1h-1zM384 548h1v1h-1zM386 548h1v1h-1zM390 548h1v1h-1zM404 548h1v1h-1zM466 548h1v1h-1zM385 549h1v1h-1zM403 549h1v1h-1zM409 549h1v1h-1zM406 550h1v1h-1zM442 550h1v1h-1zM444 550h1v1h-1zM454 550h1v1h-1zM468 550h1v1h-1zM387 551h1v1h-1zM427 551h1v1h-1zM449 551h1v1h-1zM473 551h1v1h-1zM382 552h1v1h-1zM388 552h1v1h-1zM392 552h1v1h-1zM404 552h1v1h-1zM406 552h1v1h-1zM450 552h1v1h-1zM464 552h1v1h-1zM470 552h1v1h-1zM393 553h1v1h-1zM421 553h1v1h-1zM441 553h1v1h-1zM445 553h1v1h-1zM459 553h1v1h-1zM418 554h1v1h-1zM426 554h1v1h-1zM430 554h1v1h-1zM450 554h1v1h-1zM452 554h1v1h-1zM468 554h1v1h-1zM383 555h1v1h-1zM389 555h1v1h-1zM397 555h1v1h-1zM433 555h1v1h-1zM386 556h1v1h-1zM390 556h1v1h-1zM424 556h1v1h-1zM426 556h1v1h-1zM436 556h1v1h-1zM452 556h1v1h-1zM381 557h1v1h-1zM383 557h1v1h-1zM395 557h1v1h-1zM419 557h1v1h-1zM439 557h1v1h-1zM473 557h1v1h-1zM382 558h1v1h-1zM408 558h1v1h-1zM442 558h1v1h-1zM466 558h1v1h-1zM395 559h1v1h-1zM409 559h1v1h-1zM431 559h1v1h-1zM447 559h1v1h-1zM451 559h1v1h-1zM457 559h1v1h-1zM465 559h1v1h-1zM390 560h1v1h-1zM440 560h1v1h-1zM474 560h1v1h-1zM415 561h1v1h-1zM414 562h1v1h-1zM440 562h1v1h-1zM448 562h1v1h-1zM452 562h1v1h-1zM468 562h1v1h-1zM411 563h1v1h-1zM423 563h1v1h-1zM427 563h1v1h-1zM441 563h1v1h-1zM459 563h1v1h-1zM463 563h1v1h-1zM382 564h1v1h-1zM406 564h1v1h-1zM442 564h1v1h-1zM446 564h1v1h-1zM458 564h1v1h-1zM413 565h1v1h-1zM427 565h1v1h-1zM451 565h1v1h-1zM457 565h1v1h-1zM471 565h1v1h-1zM416 566h1v1h-1zM422 566h1v1h-1zM424 566h1v1h-1zM426 566h1v1h-1zM427 567h1v1h-1zM431 567h1v1h-1zM398 568h1v1h-1zM420 568h1v1h-1zM436 568h1v1h-1zM448 568h1v1h-1zM405 569h1v1h-1zM411 569h1v1h-1zM417 569h1v1h-1zM392 570h1v1h-1zM406 570h1v1h-1zM414 570h1v1h-1zM420 570h1v1h-1zM460 570h1v1h-1zM464 570h1v1h-1zM470 570h1v1h-1zM393 571h1v1h-1zM403 571h1v1h-1zM455 571h1v1h-1zM461 571h1v1h-1zM471 571h1v1h-1zM400 572h1v1h-1zM408 572h1v1h-1zM416 572h1v1h-1zM418 572h1v1h-1zM442 572h1v1h-1zM446 572h1v1h-1zM456 572h1v1h-1zM393 573h1v1h-1zM447 573h1v1h-1zM473 573h1v1h-1zM382 574h1v1h-1zM384 574h1v1h-1zM414 574h1v1h-1zM430 574h1v1h-1zM434 574h1v1h-1zM446 574h1v1h-1zM407 575h1v1h-1zM435 575h1v1h-1zM451 575h1v1h-1zM463 575h1v1h-1zM426 576h1v1h-1zM450 576h1v1h-1zM403 577h1v1h-1zM415 577h1v1h-1zM439 577h1v1h-1zM443 577h1v1h-1zM469 577h1v1h-1zM392 578h1v1h-1zM396 578h1v1h-1zM400 578h1v1h-1zM404 578h1v1h-1zM418 578h1v1h-1zM468 578h1v1h-1zM395 579h1v1h-1zM415 579h1v1h-1zM421 579h1v1h-1zM380 580h1v1h-1zM404 580h1v1h-1zM426 580h1v1h-1zM430 580h1v1h-1zM436 580h1v1h-1zM460 580h1v1h-1zM462 580h1v1h-1zM472 580h1v1h-1zM403 581h1v1h-1zM419 581h1v1h-1zM449 581h1v1h-1zM463 581h1v1h-1zM456 582h1v1h-1zM395 583h1v1h-1zM403 583h1v1h-1zM415 583h1v1h-1zM417 583h1v1h-1zM386 584h1v1h-1zM468 584h1v1h-1zM472 584h1v1h-1zM389 585h1v1h-1zM411 585h1v1h-1zM463 585h1v1h-1zM378 586h1v1h-1zM436 586h1v1h-1zM458 586h1v1h-1zM383 587h1v1h-1zM403 587h1v1h-1zM427 587h1v1h-1zM429 587h1v1h-1zM443 587h1v1h-1zM453 587h1v1h-1zM378 588h1v1h-1zM382 588h1v1h-1zM392 588h1v1h-1zM426 588h1v1h-1zM440 588h1v1h-1zM454 588h1v1h-1zM391 589h1v1h-1zM395 589h1v1h-1zM403 589h1v1h-1zM444 590h1v1h-1zM446 590h1v1h-1zM470 590h1v1h-1zM474 590h1v1h-1zM395 591h1v1h-1zM397 591h1v1h-1zM445 591h1v1h-1zM418 592h1v1h-1zM474 592h1v1h-1zM381 593h1v1h-1zM403 593h1v1h-1zM445 593h1v1h-1zM467 593h1v1h-1zM382 594h1v1h-1zM436 594h1v1h-1zM446 594h1v1h-1zM449 595h1v1h-1zM412 596h1v1h-1zM422 596h1v1h-1zM428 596h1v1h-1zM452 596h1v1h-1zM465 597h1v1h-1zM467 597h1v1h-1zM428 598h1v1h-1zM460 598h1v1h-1zM466 598h1v1h-1zM409 599h1v1h-1zM431 599h1v1h-1zM439 599h1v1h-1zM382 600h1v1h-1zM414 600h1v1h-1zM403 601h1v1h-1zM443 601h1v1h-1zM451 601h1v1h-1zM426 602h1v1h-1zM438 602h1v1h-1zM377 603h1v1h-1zM413 603h1v1h-1zM425 603h1v1h-1z" fill="#999"/><path d="M466 444h1v1h-1zM480 448h1v1h-1zM485 449h1v1h-1zM487 449h1v1h-1zM457 451h1v1h-1zM469 451h1v1h-1zM458 452h1v1h-1zM455 453h1v1h-1zM464 456h1v1h-1zM413 459h1v1h-1zM440 460h1v1h-1zM451 461h1v1h-1zM406 462h1v1h-1zM452 462h1v1h-1zM458 462h1v1h-1zM467 463h1v1h-1zM430 464h1v1h-1zM441 465h1v1h-1zM443 465h1v1h-1zM449 465h1v1h-1zM473 465h1v1h-1zM483 465h1v1h-1zM414 466h1v1h-1zM450 466h1v1h-1zM470 466h1v1h-1zM424 468h1v1h-1zM466 468h1v1h-1zM476 468h1v1h-1zM417 469h1v1h-1zM439 469h1v1h-1zM455 469h1v1h-1zM459 469h1v1h-1zM473 469h1v1h-1zM414 470h1v1h-1zM424 470h1v1h-1zM432 470h1v1h-1zM452 470h1v1h-1zM456 470h1v1h-1zM466 470h1v1h-1zM423 471h1v1h-1zM429 471h1v1h-1zM453 471h1v1h-1zM457 471h1v1h-1zM459 471h1v1h-1zM428 472h1v1h-1zM442 472h1v1h-1zM448 472h1v1h-1zM474 472h1v1h-1zM415 473h1v1h-1zM455 473h1v1h-1zM463 473h1v1h-1zM468 474h1v1h-1zM417 475h1v1h-1zM433 475h1v1h-1zM439 475h1v1h-1zM441 475h1v1h-1zM451 475h1v1h-1zM471 475h1v1h-1zM426 476h1v1h-1zM434 476h1v1h-1zM436 476h1v1h-1zM438 476h1v1h-1zM440 476h1v1h-1zM446 476h1v1h-1zM464 476h1v1h-1zM389 477h1v1h-1zM401 477h1v1h-1zM415 477h1v1h-1zM417 477h1v1h-1zM439 477h1v1h-1zM441 477h1v1h-1zM457 477h1v1h-1zM471 477h1v1h-1zM483 477h1v1h-1zM422 478h1v1h-1zM424 478h1v1h-1zM438 478h1v1h-1zM466 478h1v1h-1zM478 478h1v1h-1zM433 479h1v1h-1zM416 480h1v1h-1zM430 480h1v1h-1zM452 480h1v1h-1zM425 481h1v1h-1zM431 481h1v1h-1zM433 481h1v1h-1zM439 481h1v1h-1zM467 481h1v1h-1zM479 481h1v1h-1zM414 482h1v1h-1zM416 482h1v1h-1zM420 482h1v1h-1zM424 482h1v1h-1zM426 482h1v1h-1zM434 482h1v1h-1zM480 482h1v1h-1zM355 483h1v1h-1zM381 483h1v1h-1zM423 483h1v1h-1zM429 483h1v1h-1zM439 483h1v1h-1zM443 483h1v1h-1zM473 483h1v1h-1zM416 484h1v1h-1zM418 484h1v1h-1zM424 484h1v1h-1zM432 484h1v1h-1zM446 484h1v1h-1zM460 484h1v1h-1zM470 484h1v1h-1zM397 485h1v1h-1zM407 485h1v1h-1zM409 485h1v1h-1zM415 485h1v1h-1zM429 485h1v1h-1zM435 485h1v1h-1zM443 485h1v1h-1zM420 486h1v1h-1zM424 486h1v1h-1zM428 486h1v1h-1zM434 486h1v1h-1zM442 486h1v1h-1zM395 487h1v1h-1zM397 487h1v1h-1zM411 487h1v1h-1zM419 487h1v1h-1zM431 487h1v1h-1zM406 488h1v1h-1zM410 488h1v1h-1zM418 488h1v1h-1zM424 488h1v1h-1zM428 488h1v1h-1zM436 488h1v1h-1zM438 488h1v1h-1zM444 488h1v1h-1zM450 488h1v1h-1zM478 488h1v1h-1zM389 489h1v1h-1zM405 489h1v1h-1zM421 489h1v1h-1zM423 489h1v1h-1zM427 489h1v1h-1zM431 489h1v1h-1zM443 489h1v1h-1zM467 489h1v1h-1zM402 490h1v1h-1zM404 490h1v1h-1zM412 490h1v1h-1zM422 490h1v1h-1zM428 490h1v1h-1zM442 490h1v1h-1zM383 491h1v1h-1zM401 491h1v1h-1zM413 491h1v1h-1zM417 491h1v1h-1zM425 491h1v1h-1zM429 491h1v1h-1zM431 491h1v1h-1zM435 491h1v1h-1zM437 491h1v1h-1zM459 491h1v1h-1zM467 491h1v1h-1zM376 492h1v1h-1zM404 492h1v1h-1zM412 492h1v1h-1zM420 492h1v1h-1zM422 492h1v1h-1zM424 492h1v1h-1zM430 492h1v1h-1zM432 492h1v1h-1zM436 492h1v1h-1zM341 493h1v1h-1zM407 493h1v1h-1zM417 493h1v1h-1zM425 493h1v1h-1zM427 493h1v1h-1zM439 493h1v1h-1zM388 494h1v1h-1zM400 494h1v1h-1zM404 494h1v1h-1zM412 494h1v1h-1zM414 494h1v1h-1zM444 494h1v1h-1zM458 494h1v1h-1zM395 495h1v1h-1zM399 495h1v1h-1zM409 495h1v1h-1zM411 495h1v1h-1zM415 495h1v1h-1zM425 495h1v1h-1zM427 495h1v1h-1zM429 495h1v1h-1zM435 495h1v1h-1zM439 495h1v1h-1zM477 495h1v1h-1zM384 496h1v1h-1zM390 496h1v1h-1zM402 496h1v1h-1zM406 496h1v1h-1zM416 496h1v1h-1zM426 496h1v1h-1zM434 496h1v1h-1zM440 496h1v1h-1zM456 496h1v1h-1zM371 497h1v1h-1zM391 497h1v1h-1zM395 497h1v1h-1zM397 497h1v1h-1zM401 497h1v1h-1zM409 497h1v1h-1zM411 497h1v1h-1zM413 497h1v1h-1zM417 497h1v1h-1zM421 497h1v1h-1zM423 497h1v1h-1zM425 497h1v1h-1zM427 497h1v1h-1zM429 497h1v1h-1zM463 497h1v1h-1zM360 498h1v1h-1zM390 498h1v1h-1zM402 498h1v1h-1zM412 498h1v1h-1zM416 498h1v1h-1zM420 498h1v1h-1zM424 498h1v1h-1zM426 498h1v1h-1zM428 498h1v1h-1zM430 498h1v1h-1zM436 498h1v1h-1zM474 498h1v1h-1zM401 499h1v1h-1zM405 499h1v1h-1zM407 499h1v1h-1zM411 499h1v1h-1zM413 499h1v1h-1zM417 499h1v1h-1zM419 499h1v1h-1zM421 499h1v1h-1zM423 499h1v1h-1zM429 499h1v1h-1zM433 499h1v1h-1zM435 499h1v1h-1zM447 499h1v1h-1zM477 499h1v1h-1zM487 499h1v1h-1zM378 500h1v1h-1zM392 500h1v1h-1zM400 500h1v1h-1zM406 500h1v1h-1zM414 500h1v1h-1zM418 500h1v1h-1zM420 500h1v1h-1zM422 500h1v1h-1zM428 500h1v1h-1zM430 500h1v1h-1zM434 500h1v1h-1zM440 500h1v1h-1zM452 500h1v1h-1zM474 500h1v1h-1zM488 500h1v1h-1zM361 501h1v1h-1zM365 501h1v1h-1zM379 501h1v1h-1zM383 501h1v1h-1zM385 501h1v1h-1zM407 501h1v1h-1zM415 501h1v1h-1zM417 501h1v1h-1zM421 501h1v1h-1zM423 501h1v1h-1zM425 501h1v1h-1zM427 501h1v1h-1zM431 501h1v1h-1zM433 501h1v1h-1zM435 501h1v1h-1zM437 501h1v1h-1zM445 501h1v1h-1zM477 501h1v1h-1zM384 502h1v1h-1zM390 502h1v1h-1zM398 502h1v1h-1zM402 502h1v1h-1zM404 502h1v1h-1zM410 502h1v1h-1zM412 502h1v1h-1zM414 502h1v1h-1zM418 502h1v1h-1zM422 502h1v1h-1zM424 502h1v1h-1zM426 502h1v1h-1zM432 502h1v1h-1zM442 502h1v1h-1zM444 502h1v1h-1zM446 502h1v1h-1zM359 503h1v1h-1zM371 503h1v1h-1zM379 503h1v1h-1zM401 503h1v1h-1zM405 503h1v1h-1zM407 503h1v1h-1zM411 503h1v1h-1zM423 503h1v1h-1zM425 503h1v1h-1zM427 503h1v1h-1zM449 503h1v1h-1zM463 503h1v1h-1zM380 504h1v1h-1zM384 504h1v1h-1zM386 504h1v1h-1zM400 504h1v1h-1zM404 504h1v1h-1zM410 504h1v1h-1zM414 504h1v1h-1zM422 504h1v1h-1zM426 504h1v1h-1zM430 504h1v1h-1zM448 504h1v1h-1zM373 505h1v1h-1zM377 505h1v1h-1zM391 505h1v1h-1zM411 505h1v1h-1zM413 505h1v1h-1zM431 505h1v1h-1zM433 505h1v1h-1zM439 505h1v1h-1zM441 505h1v1h-1zM350 506h1v1h-1zM374 506h1v1h-1zM390 506h1v1h-1zM394 506h1v1h-1zM396 506h1v1h-1zM400 506h1v1h-1zM410 506h1v1h-1zM412 506h1v1h-1zM416 506h1v1h-1zM418 506h1v1h-1zM420 506h1v1h-1zM426 506h1v1h-1zM430 506h1v1h-1zM432 506h1v1h-1zM383 507h1v1h-1zM389 507h1v1h-1zM397 507h1v1h-1zM403 507h1v1h-1zM405 507h1v1h-1zM407 507h1v1h-1zM409 507h1v1h-1zM411 507h1v1h-1zM415 507h1v1h-1zM417 507h1v1h-1zM423 507h1v1h-1zM425 507h1v1h-1zM431 507h1v1h-1zM433 507h1v1h-1zM441 507h1v1h-1zM445 507h1v1h-1zM467 507h1v1h-1zM386 508h1v1h-1zM394 508h1v1h-1zM396 508h1v1h-1zM400 508h1v1h-1zM408 508h1v1h-1zM410 508h1v1h-1zM412 508h1v1h-1zM416 508h1v1h-1zM422 508h1v1h-1zM424 508h1v1h-1zM434 508h1v1h-1zM442 508h1v1h-1zM446 508h1v1h-1zM450 508h1v1h-1zM468 508h1v1h-1zM359 509h1v1h-1zM367 509h1v1h-1zM397 509h1v1h-1zM399 509h1v1h-1zM405 509h1v1h-1zM407 509h1v1h-1zM409 509h1v1h-1zM419 509h1v1h-1zM421 509h1v1h-1zM423 509h1v1h-1zM429 509h1v1h-1zM431 509h1v1h-1zM439 509h1v1h-1zM467 509h1v1h-1zM396 510h1v1h-1zM398 510h1v1h-1zM408 510h1v1h-1zM414 510h1v1h-1zM420 510h1v1h-1zM422 510h1v1h-1zM426 510h1v1h-1zM430 510h1v1h-1zM436 510h1v1h-1zM438 510h1v1h-1zM375 511h1v1h-1zM391 511h1v1h-1zM401 511h1v1h-1zM405 511h1v1h-1zM407 511h1v1h-1zM409 511h1v1h-1zM411 511h1v1h-1zM413 511h1v1h-1zM417 511h1v1h-1zM419 511h1v1h-1zM421 511h1v1h-1zM431 511h1v1h-1zM433 511h1v1h-1zM437 511h1v1h-1zM439 511h1v1h-1zM376 512h1v1h-1zM384 512h1v1h-1zM386 512h1v1h-1zM402 512h1v1h-1zM404 512h1v1h-1zM408 512h1v1h-1zM410 512h1v1h-1zM422 512h1v1h-1zM424 512h1v1h-1zM426 512h1v1h-1zM428 512h1v1h-1zM430 512h1v1h-1zM432 512h1v1h-1zM436 512h1v1h-1zM438 512h1v1h-1zM440 512h1v1h-1zM450 512h1v1h-1zM470 512h1v1h-1zM351 513h1v1h-1zM371 513h1v1h-1zM377 513h1v1h-1zM383 513h1v1h-1zM387 513h1v1h-1zM389 513h1v1h-1zM391 513h1v1h-1zM395 513h1v1h-1zM403 513h1v1h-1zM405 513h1v1h-1zM411 513h1v1h-1zM415 513h1v1h-1zM417 513h1v1h-1zM421 513h1v1h-1zM423 513h1v1h-1zM425 513h1v1h-1zM427 513h1v1h-1zM429 513h1v1h-1zM437 513h1v1h-1zM441 513h1v1h-1zM459 513h1v1h-1zM358 514h1v1h-1zM394 514h1v1h-1zM396 514h1v1h-1zM402 514h1v1h-1zM404 514h1v1h-1zM408 514h1v1h-1zM410 514h1v1h-1zM412 514h1v1h-1zM416 514h1v1h-1zM418 514h1v1h-1zM420 514h1v1h-1zM422 514h1v1h-1zM424 514h1v1h-1zM430 514h1v1h-1zM434 514h1v1h-1zM438 514h1v1h-1zM367 515h1v1h-1zM373 515h1v1h-1zM387 515h1v1h-1zM393 515h1v1h-1zM399 515h1v1h-1zM403 515h1v1h-1zM409 515h1v1h-1zM411 515h1v1h-1zM413 515h1v1h-1zM417 515h1v1h-1zM419 515h1v1h-1zM423 515h1v1h-1zM425 515h1v1h-1zM429 515h1v1h-1zM431 515h1v1h-1zM433 515h1v1h-1zM459 515h1v1h-1zM471 515h1v1h-1zM376 516h1v1h-1zM380 516h1v1h-1zM382 516h1v1h-1zM386 516h1v1h-1zM388 516h1v1h-1zM396 516h1v1h-1zM398 516h1v1h-1zM400 516h1v1h-1zM404 516h1v1h-1zM406 516h1v1h-1zM412 516h1v1h-1zM414 516h1v1h-1zM418 516h1v1h-1zM420 516h1v1h-1zM422 516h1v1h-1zM424 516h1v1h-1zM428 516h1v1h-1zM432 516h1v1h-1zM434 516h1v1h-1zM440 516h1v1h-1zM341 517h1v1h-1zM373 517h1v1h-1zM397 517h1v1h-1zM399 517h1v1h-1zM403 517h1v1h-1zM407 517h1v1h-1zM409 517h1v1h-1zM419 517h1v1h-1zM421 517h1v1h-1zM423 517h1v1h-1zM425 517h1v1h-1zM439 517h1v1h-1zM455 517h1v1h-1zM457 517h1v1h-1zM394 518h1v1h-1zM396 518h1v1h-1zM402 518h1v1h-1zM404 518h1v1h-1zM406 518h1v1h-1zM408 518h1v1h-1zM412 518h1v1h-1zM414 518h1v1h-1zM416 518h1v1h-1zM420 518h1v1h-1zM424 518h1v1h-1zM442 518h1v1h-1zM446 518h1v1h-1zM462 518h1v1h-1zM381 519h1v1h-1zM393 519h1v1h-1zM395 519h1v1h-1zM399 519h1v1h-1zM407 519h1v1h-1zM411 519h1v1h-1zM413 519h1v1h-1zM417 519h1v1h-1zM419 519h1v1h-1zM425 519h1v1h-1zM431 519h1v1h-1zM433 519h1v1h-1zM435 519h1v1h-1zM374 520h1v1h-1zM384 520h1v1h-1zM386 520h1v1h-1zM392 520h1v1h-1zM394 520h1v1h-1zM396 520h1v1h-1zM398 520h1v1h-1zM400 520h1v1h-1zM402 520h1v1h-1zM404 520h1v1h-1zM408 520h1v1h-1zM416 520h1v1h-1zM420 520h1v1h-1zM422 520h1v1h-1zM428 520h1v1h-1zM430 520h1v1h-1zM436 520h1v1h-1zM438 520h1v1h-1zM440 520h1v1h-1zM454 520h1v1h-1zM369 521h1v1h-1zM379 521h1v1h-1zM381 521h1v1h-1zM387 521h1v1h-1zM391 521h1v1h-1zM397 521h1v1h-1zM401 521h1v1h-1zM403 521h1v1h-1zM405 521h1v1h-1zM407 521h1v1h-1zM409 521h1v1h-1zM411 521h1v1h-1zM413 521h1v1h-1zM415 521h1v1h-1zM417 521h1v1h-1zM419 521h1v1h-1zM433 521h1v1h-1zM439 521h1v1h-1zM453 521h1v1h-1zM370 522h1v1h-1zM376 522h1v1h-1zM380 522h1v1h-1zM388 522h1v1h-1zM392 522h1v1h-1zM394 522h1v1h-1zM396 522h1v1h-1zM400 522h1v1h-1zM410 522h1v1h-1zM412 522h1v1h-1zM414 522h1v1h-1zM418 522h1v1h-1zM420 522h1v1h-1zM426 522h1v1h-1zM428 522h1v1h-1zM434 522h1v1h-1zM436 522h1v1h-1zM440 522h1v1h-1zM446 522h1v1h-1zM361 523h1v1h-1zM373 523h1v1h-1zM377 523h1v1h-1zM383 523h1v1h-1zM387 523h1v1h-1zM395 523h1v1h-1zM403 523h1v1h-1zM405 523h1v1h-1zM407 523h1v1h-1zM411 523h1v1h-1zM417 523h1v1h-1zM425 523h1v1h-1zM427 523h1v1h-1zM431 523h1v1h-1zM435 523h1v1h-1zM439 523h1v1h-1zM453 523h1v1h-1zM372 524h1v1h-1zM378 524h1v1h-1zM382 524h1v1h-1zM396 524h1v1h-1zM410 524h1v1h-1zM412 524h1v1h-1zM414 524h1v1h-1zM416 524h1v1h-1zM418 524h1v1h-1zM420 524h1v1h-1zM422 524h1v1h-1zM430 524h1v1h-1zM432 524h1v1h-1zM438 524h1v1h-1zM446 524h1v1h-1zM450 524h1v1h-1zM452 524h1v1h-1zM371 525h1v1h-1zM381 525h1v1h-1zM403 525h1v1h-1zM407 525h1v1h-1zM413 525h1v1h-1zM417 525h1v1h-1zM421 525h1v1h-1zM425 525h1v1h-1zM427 525h1v1h-1zM429 525h1v1h-1zM437 525h1v1h-1zM439 525h1v1h-1zM443 525h1v1h-1zM445 525h1v1h-1zM447 525h1v1h-1zM451 525h1v1h-1zM453 525h1v1h-1zM372 526h1v1h-1zM374 526h1v1h-1zM388 526h1v1h-1zM400 526h1v1h-1zM412 526h1v1h-1zM416 526h1v1h-1zM418 526h1v1h-1zM426 526h1v1h-1zM428 526h1v1h-1zM434 526h1v1h-1zM440 526h1v1h-1zM442 526h1v1h-1zM460 526h1v1h-1zM363 527h1v1h-1zM373 527h1v1h-1zM379 527h1v1h-1zM395 527h1v1h-1zM397 527h1v1h-1zM403 527h1v1h-1zM407 527h1v1h-1zM409 527h1v1h-1zM417 527h1v1h-1zM419 527h1v1h-1zM421 527h1v1h-1zM425 527h1v1h-1zM431 527h1v1h-1zM435 527h1v1h-1zM437 527h1v1h-1zM455 527h1v1h-1zM463 527h1v1h-1zM310 528h1v1h-1zM324 528h1v1h-1zM328 528h1v1h-1zM330 528h1v1h-1zM332 528h1v1h-1zM334 528h1v1h-1zM338 528h1v1h-1zM352 528h1v1h-1zM360 528h1v1h-1zM368 528h1v1h-1zM388 528h1v1h-1zM396 528h1v1h-1zM408 528h1v1h-1zM438 528h1v1h-1zM444 528h1v1h-1zM315 529h1v1h-1zM319 529h1v1h-1zM323 529h1v1h-1zM329 529h1v1h-1zM337 529h1v1h-1zM343 529h1v1h-1zM351 529h1v1h-1zM353 529h1v1h-1zM359 529h1v1h-1zM373 529h1v1h-1zM379 529h1v1h-1zM383 529h1v1h-1zM389 529h1v1h-1zM393 529h1v1h-1zM401 529h1v1h-1zM403 529h1v1h-1zM411 529h1v1h-1zM413 529h1v1h-1zM415 529h1v1h-1zM417 529h1v1h-1zM423 529h1v1h-1zM429 529h1v1h-1zM433 529h1v1h-1zM437 529h1v1h-1zM441 529h1v1h-1zM459 529h1v1h-1zM308 530h1v1h-1zM316 530h1v1h-1zM318 530h1v1h-1zM320 530h1v1h-1zM338 530h1v1h-1zM340 530h1v1h-1zM342 530h1v1h-1zM346 530h1v1h-1zM348 530h1v1h-1zM350 530h1v1h-1zM356 530h1v1h-1zM358 530h1v1h-1zM362 530h1v1h-1zM364 530h1v1h-1zM366 530h1v1h-1zM370 530h1v1h-1zM372 530h1v1h-1zM374 530h1v1h-1zM382 530h1v1h-1zM410 530h1v1h-1zM412 530h1v1h-1zM420 530h1v1h-1zM432 530h1v1h-1zM434 530h1v1h-1zM454 530h1v1h-1zM456 530h1v1h-1zM313 531h1v1h-1zM317 531h1v1h-1zM319 531h1v1h-1zM325 531h1v1h-1zM327 531h1v1h-1zM331 531h1v1h-1zM333 531h1v1h-1zM339 531h1v1h-1zM347 531h1v1h-1zM351 531h1v1h-1zM367 531h1v1h-1zM369 531h1v1h-1zM403 531h1v1h-1zM407 531h1v1h-1zM409 531h1v1h-1zM415 531h1v1h-1zM417 531h1v1h-1zM419 531h1v1h-1zM425 531h1v1h-1zM433 531h1v1h-1zM443 531h1v1h-1zM457 531h1v1h-1zM332 532h1v1h-1zM334 532h1v1h-1zM336 532h1v1h-1zM338 532h1v1h-1zM350 532h1v1h-1zM356 532h1v1h-1zM358 532h1v1h-1zM368 532h1v1h-1zM404 532h1v1h-1zM406 532h1v1h-1zM416 532h1v1h-1zM430 532h1v1h-1zM317 533h1v1h-1zM319 533h1v1h-1zM323 533h1v1h-1zM327 533h1v1h-1zM329 533h1v1h-1zM331 533h1v1h-1zM337 533h1v1h-1zM341 533h1v1h-1zM345 533h1v1h-1zM347 533h1v1h-1zM351 533h1v1h-1zM353 533h1v1h-1zM359 533h1v1h-1zM361 533h1v1h-1zM363 533h1v1h-1zM373 533h1v1h-1zM375 533h1v1h-1zM379 533h1v1h-1zM381 533h1v1h-1zM387 533h1v1h-1zM397 533h1v1h-1zM417 533h1v1h-1zM419 533h1v1h-1zM421 533h1v1h-1zM423 533h1v1h-1zM433 533h1v1h-1zM308 534h1v1h-1zM310 534h1v1h-1zM314 534h1v1h-1zM322 534h1v1h-1zM332 534h1v1h-1zM336 534h1v1h-1zM346 534h1v1h-1zM354 534h1v1h-1zM360 534h1v1h-1zM374 534h1v1h-1zM394 534h1v1h-1zM402 534h1v1h-1zM416 534h1v1h-1zM420 534h1v1h-1zM422 534h1v1h-1zM426 534h1v1h-1zM442 534h1v1h-1zM311 535h1v1h-1zM315 535h1v1h-1zM327 535h1v1h-1zM331 535h1v1h-1zM333 535h1v1h-1zM337 535h1v1h-1zM349 535h1v1h-1zM351 535h1v1h-1zM353 535h1v1h-1zM355 535h1v1h-1zM357 535h1v1h-1zM361 535h1v1h-1zM365 535h1v1h-1zM371 535h1v1h-1zM375 535h1v1h-1zM403 535h1v1h-1zM411 535h1v1h-1zM413 535h1v1h-1zM419 535h1v1h-1zM433 535h1v1h-1zM437 535h1v1h-1zM310 536h1v1h-1zM316 536h1v1h-1zM322 536h1v1h-1zM326 536h1v1h-1zM336 536h1v1h-1zM340 536h1v1h-1zM342 536h1v1h-1zM348 536h1v1h-1zM350 536h1v1h-1zM356 536h1v1h-1zM362 536h1v1h-1zM364 536h1v1h-1zM366 536h1v1h-1zM414 536h1v1h-1zM418 536h1v1h-1zM428 536h1v1h-1zM311 537h1v1h-1zM313 537h1v1h-1zM315 537h1v1h-1zM317 537h1v1h-1zM319 537h1v1h-1zM323 537h1v1h-1zM325 537h1v1h-1zM327 537h1v1h-1zM331 537h1v1h-1zM333 537h1v1h-1zM337 537h1v1h-1zM341 537h1v1h-1zM343 537h1v1h-1zM349 537h1v1h-1zM351 537h1v1h-1zM355 537h1v1h-1zM357 537h1v1h-1zM359 537h1v1h-1zM361 537h1v1h-1zM365 537h1v1h-1zM373 537h1v1h-1zM375 537h1v1h-1zM405 537h1v1h-1zM425 537h1v1h-1zM437 537h1v1h-1zM463 537h1v1h-1zM318 538h1v1h-1zM330 538h1v1h-1zM334 538h1v1h-1zM346 538h1v1h-1zM350 538h1v1h-1zM358 538h1v1h-1zM362 538h1v1h-1zM368 538h1v1h-1zM374 538h1v1h-1zM402 538h1v1h-1zM422 538h1v1h-1zM426 538h1v1h-1zM428 538h1v1h-1zM440 538h1v1h-1zM319 539h1v1h-1zM327 539h1v1h-1zM331 539h1v1h-1zM335 539h1v1h-1zM339 539h1v1h-1zM345 539h1v1h-1zM347 539h1v1h-1zM351 539h1v1h-1zM359 539h1v1h-1zM361 539h1v1h-1zM365 539h1v1h-1zM371 539h1v1h-1zM375 539h1v1h-1zM389 539h1v1h-1zM413 539h1v1h-1zM425 539h1v1h-1zM427 539h1v1h-1zM308 540h1v1h-1zM310 540h1v1h-1zM312 540h1v1h-1zM314 540h1v1h-1zM318 540h1v1h-1zM322 540h1v1h-1zM330 540h1v1h-1zM336 540h1v1h-1zM348 540h1v1h-1zM362 540h1v1h-1zM366 540h1v1h-1zM368 540h1v1h-1zM372 540h1v1h-1zM400 540h1v1h-1zM309 541h1v1h-1zM317 541h1v1h-1zM325 541h1v1h-1zM333 541h1v1h-1zM343 541h1v1h-1zM357 541h1v1h-1zM363 541h1v1h-1zM365 541h1v1h-1zM371 541h1v1h-1zM391 541h1v1h-1zM423 541h1v1h-1zM445 541h1v1h-1zM308 542h1v1h-1zM310 542h1v1h-1zM312 542h1v1h-1zM324 542h1v1h-1zM328 542h1v1h-1zM338 542h1v1h-1zM340 542h1v1h-1zM346 542h1v1h-1zM348 542h1v1h-1zM350 542h1v1h-1zM354 542h1v1h-1zM358 542h1v1h-1zM368 542h1v1h-1zM370 542h1v1h-1zM424 542h1v1h-1zM309 543h1v1h-1zM317 543h1v1h-1zM329 543h1v1h-1zM331 543h1v1h-1zM339 543h1v1h-1zM341 543h1v1h-1zM347 543h1v1h-1zM353 543h1v1h-1zM357 543h1v1h-1zM359 543h1v1h-1zM371 543h1v1h-1zM387 543h1v1h-1zM399 543h1v1h-1zM415 543h1v1h-1zM475 543h1v1h-1zM308 544h1v1h-1zM316 544h1v1h-1zM318 544h1v1h-1zM326 544h1v1h-1zM328 544h1v1h-1zM330 544h1v1h-1zM338 544h1v1h-1zM342 544h1v1h-1zM348 544h1v1h-1zM350 544h1v1h-1zM352 544h1v1h-1zM354 544h1v1h-1zM356 544h1v1h-1zM358 544h1v1h-1zM360 544h1v1h-1zM362 544h1v1h-1zM368 544h1v1h-1zM370 544h1v1h-1zM374 544h1v1h-1zM315 545h1v1h-1zM319 545h1v1h-1zM321 545h1v1h-1zM329 545h1v1h-1zM331 545h1v1h-1zM339 545h1v1h-1zM343 545h1v1h-1zM345 545h1v1h-1zM349 545h1v1h-1zM353 545h1v1h-1zM357 545h1v1h-1zM359 545h1v1h-1zM361 545h1v1h-1zM375 545h1v1h-1zM381 545h1v1h-1zM415 545h1v1h-1zM310 546h1v1h-1zM312 546h1v1h-1zM320 546h1v1h-1zM322 546h1v1h-1zM326 546h1v1h-1zM334 546h1v1h-1zM336 546h1v1h-1zM346 546h1v1h-1zM350 546h1v1h-1zM360 546h1v1h-1zM362 546h1v1h-1zM364 546h1v1h-1zM366 546h1v1h-1zM368 546h1v1h-1zM370 546h1v1h-1zM408 546h1v1h-1zM410 546h1v1h-1zM420 546h1v1h-1zM436 546h1v1h-1zM309 547h1v1h-1zM311 547h1v1h-1zM315 547h1v1h-1zM317 547h1v1h-1zM319 547h1v1h-1zM321 547h1v1h-1zM337 547h1v1h-1zM341 547h1v1h-1zM343 547h1v1h-1zM345 547h1v1h-1zM347 547h1v1h-1zM349 547h1v1h-1zM359 547h1v1h-1zM369 547h1v1h-1zM371 547h1v1h-1zM373 547h1v1h-1zM381 547h1v1h-1zM401 547h1v1h-1zM421 547h1v1h-1zM449 547h1v1h-1zM308 548h1v1h-1zM312 548h1v1h-1zM316 548h1v1h-1zM318 548h1v1h-1zM324 548h1v1h-1zM334 548h1v1h-1zM336 548h1v1h-1zM338 548h1v1h-1zM342 548h1v1h-1zM344 548h1v1h-1zM346 548h1v1h-1zM348 548h1v1h-1zM354 548h1v1h-1zM358 548h1v1h-1zM360 548h1v1h-1zM368 548h1v1h-1zM370 548h1v1h-1zM374 548h1v1h-1zM313 549h1v1h-1zM317 549h1v1h-1zM319 549h1v1h-1zM321 549h1v1h-1zM333 549h1v1h-1zM335 549h1v1h-1zM337 549h1v1h-1zM339 549h1v1h-1zM341 549h1v1h-1zM343 549h1v1h-1zM345 549h1v1h-1zM349 549h1v1h-1zM353 549h1v1h-1zM357 549h1v1h-1zM363 549h1v1h-1zM367 549h1v1h-1zM375 549h1v1h-1zM421 549h1v1h-1zM308 550h1v1h-1zM310 550h1v1h-1zM316 550h1v1h-1zM318 550h1v1h-1zM320 550h1v1h-1zM332 550h1v1h-1zM340 550h1v1h-1zM346 550h1v1h-1zM350 550h1v1h-1zM354 550h1v1h-1zM356 550h1v1h-1zM360 550h1v1h-1zM374 550h1v1h-1zM309 551h1v1h-1zM319 551h1v1h-1zM327 551h1v1h-1zM331 551h1v1h-1zM333 551h1v1h-1zM339 551h1v1h-1zM341 551h1v1h-1zM343 551h1v1h-1zM347 551h1v1h-1zM349 551h1v1h-1zM355 551h1v1h-1zM363 551h1v1h-1zM375 551h1v1h-1zM407 551h1v1h-1zM308 552h1v1h-1zM312 552h1v1h-1zM314 552h1v1h-1zM318 552h1v1h-1zM326 552h1v1h-1zM328 552h1v1h-1zM330 552h1v1h-1zM336 552h1v1h-1zM344 552h1v1h-1zM348 552h1v1h-1zM350 552h1v1h-1zM358 552h1v1h-1zM366 552h1v1h-1zM368 552h1v1h-1zM315 553h1v1h-1zM319 553h1v1h-1zM325 553h1v1h-1zM331 553h1v1h-1zM333 553h1v1h-1zM337 553h1v1h-1zM339 553h1v1h-1zM343 553h1v1h-1zM347 553h1v1h-1zM349 553h1v1h-1zM351 553h1v1h-1zM353 553h1v1h-1zM359 553h1v1h-1zM367 553h1v1h-1zM391 553h1v1h-1zM397 553h1v1h-1zM415 553h1v1h-1zM425 553h1v1h-1zM310 554h1v1h-1zM314 554h1v1h-1zM320 554h1v1h-1zM330 554h1v1h-1zM332 554h1v1h-1zM340 554h1v1h-1zM356 554h1v1h-1zM360 554h1v1h-1zM372 554h1v1h-1zM374 554h1v1h-1zM414 554h1v1h-1zM311 555h1v1h-1zM313 555h1v1h-1zM317 555h1v1h-1zM321 555h1v1h-1zM323 555h1v1h-1zM329 555h1v1h-1zM331 555h1v1h-1zM335 555h1v1h-1zM341 555h1v1h-1zM345 555h1v1h-1zM349 555h1v1h-1zM351 555h1v1h-1zM355 555h1v1h-1zM361 555h1v1h-1zM363 555h1v1h-1zM367 555h1v1h-1zM413 555h1v1h-1zM312 556h1v1h-1zM314 556h1v1h-1zM318 556h1v1h-1zM320 556h1v1h-1zM324 556h1v1h-1zM328 556h1v1h-1zM330 556h1v1h-1zM338 556h1v1h-1zM344 556h1v1h-1zM352 556h1v1h-1zM356 556h1v1h-1zM360 556h1v1h-1zM366 556h1v1h-1zM368 556h1v1h-1zM311 557h1v1h-1zM315 557h1v1h-1zM329 557h1v1h-1zM333 557h1v1h-1zM339 557h1v1h-1zM345 557h1v1h-1zM349 557h1v1h-1zM355 557h1v1h-1zM365 557h1v1h-1zM367 557h1v1h-1zM369 557h1v1h-1zM371 557h1v1h-1zM373 557h1v1h-1zM407 557h1v1h-1zM308 558h1v1h-1zM312 558h1v1h-1zM320 558h1v1h-1zM322 558h1v1h-1zM330 558h1v1h-1zM332 558h1v1h-1zM334 558h1v1h-1zM336 558h1v1h-1zM342 558h1v1h-1zM346 558h1v1h-1zM352 558h1v1h-1zM356 558h1v1h-1zM364 558h1v1h-1zM366 558h1v1h-1zM368 558h1v1h-1zM370 558h1v1h-1zM374 558h1v1h-1zM309 559h1v1h-1zM319 559h1v1h-1zM323 559h1v1h-1zM327 559h1v1h-1zM339 559h1v1h-1zM341 559h1v1h-1zM347 559h1v1h-1zM353 559h1v1h-1zM359 559h1v1h-1zM367 559h1v1h-1zM373 559h1v1h-1zM413 559h1v1h-1zM312 560h1v1h-1zM318 560h1v1h-1zM324 560h1v1h-1zM326 560h1v1h-1zM328 560h1v1h-1zM330 560h1v1h-1zM334 560h1v1h-1zM340 560h1v1h-1zM342 560h1v1h-1zM350 560h1v1h-1zM366 560h1v1h-1zM321 561h1v1h-1zM323 561h1v1h-1zM327 561h1v1h-1zM331 561h1v1h-1zM335 561h1v1h-1zM343 561h1v1h-1zM353 561h1v1h-1zM359 561h1v1h-1zM367 561h1v1h-1zM371 561h1v1h-1zM385 561h1v1h-1zM310 562h1v1h-1zM314 562h1v1h-1zM318 562h1v1h-1zM320 562h1v1h-1zM328 562h1v1h-1zM330 562h1v1h-1zM338 562h1v1h-1zM342 562h1v1h-1zM356 562h1v1h-1zM358 562h1v1h-1zM360 562h1v1h-1zM366 562h1v1h-1zM368 562h1v1h-1zM370 562h1v1h-1zM372 562h1v1h-1zM374 562h1v1h-1zM402 562h1v1h-1zM313 563h1v1h-1zM315 563h1v1h-1zM319 563h1v1h-1zM321 563h1v1h-1zM323 563h1v1h-1zM325 563h1v1h-1zM327 563h1v1h-1zM333 563h1v1h-1zM341 563h1v1h-1zM345 563h1v1h-1zM353 563h1v1h-1zM359 563h1v1h-1zM363 563h1v1h-1zM365 563h1v1h-1zM369 563h1v1h-1zM375 563h1v1h-1zM318 564h1v1h-1zM324 564h1v1h-1zM330 564h1v1h-1zM332 564h1v1h-1zM334 564h1v1h-1zM344 564h1v1h-1zM348 564h1v1h-1zM352 564h1v1h-1zM362 564h1v1h-1zM370 564h1v1h-1zM315 565h1v1h-1zM317 565h1v1h-1zM333 565h1v1h-1zM341 565h1v1h-1zM343 565h1v1h-1zM345 565h1v1h-1zM359 565h1v1h-1zM369 565h1v1h-1zM371 565h1v1h-1zM373 565h1v1h-1zM375 565h1v1h-1zM308 566h1v1h-1zM314 566h1v1h-1zM316 566h1v1h-1zM330 566h1v1h-1zM332 566h1v1h-1zM342 566h1v1h-1zM344 566h1v1h-1zM362 566h1v1h-1zM366 566h1v1h-1zM319 567h1v1h-1zM323 567h1v1h-1zM325 567h1v1h-1zM327 567h1v1h-1zM329 567h1v1h-1zM335 567h1v1h-1zM341 567h1v1h-1zM345 567h1v1h-1zM351 567h1v1h-1zM353 567h1v1h-1zM357 567h1v1h-1zM363 567h1v1h-1zM365 567h1v1h-1zM369 567h1v1h-1zM373 567h1v1h-1zM375 567h1v1h-1zM308 568h1v1h-1zM310 568h1v1h-1zM316 568h1v1h-1zM322 568h1v1h-1zM324 568h1v1h-1zM330 568h1v1h-1zM334 568h1v1h-1zM340 568h1v1h-1zM344 568h1v1h-1zM346 568h1v1h-1zM348 568h1v1h-1zM358 568h1v1h-1zM360 568h1v1h-1zM368 568h1v1h-1zM329 569h1v1h-1zM335 569h1v1h-1zM341 569h1v1h-1zM343 569h1v1h-1zM345 569h1v1h-1zM347 569h1v1h-1zM353 569h1v1h-1zM361 569h1v1h-1zM365 569h1v1h-1zM373 569h1v1h-1zM308 570h1v1h-1zM310 570h1v1h-1zM312 570h1v1h-1zM328 570h1v1h-1zM340 570h1v1h-1zM342 570h1v1h-1zM346 570h1v1h-1zM348 570h1v1h-1zM356 570h1v1h-1zM358 570h1v1h-1zM372 570h1v1h-1zM315 571h1v1h-1zM323 571h1v1h-1zM333 571h1v1h-1zM335 571h1v1h-1zM345 571h1v1h-1zM355 571h1v1h-1zM373 571h1v1h-1zM310 572h1v1h-1zM320 572h1v1h-1zM324 572h1v1h-1zM328 572h1v1h-1zM336 572h1v1h-1zM340 572h1v1h-1zM348 572h1v1h-1zM354 572h1v1h-1zM356 572h1v1h-1zM358 572h1v1h-1zM364 572h1v1h-1zM366 572h1v1h-1zM368 572h1v1h-1zM374 572h1v1h-1zM319 573h1v1h-1zM321 573h1v1h-1zM323 573h1v1h-1zM327 573h1v1h-1zM329 573h1v1h-1zM333 573h1v1h-1zM335 573h1v1h-1zM337 573h1v1h-1zM341 573h1v1h-1zM347 573h1v1h-1zM349 573h1v1h-1zM367 573h1v1h-1zM369 573h1v1h-1zM373 573h1v1h-1zM375 573h1v1h-1zM308 574h1v1h-1zM314 574h1v1h-1zM318 574h1v1h-1zM326 574h1v1h-1zM328 574h1v1h-1zM330 574h1v1h-1zM332 574h1v1h-1zM336 574h1v1h-1zM344 574h1v1h-1zM354 574h1v1h-1zM358 574h1v1h-1zM366 574h1v1h-1zM372 574h1v1h-1zM311 575h1v1h-1zM315 575h1v1h-1zM323 575h1v1h-1zM339 575h1v1h-1zM341 575h1v1h-1zM347 575h1v1h-1zM349 575h1v1h-1zM351 575h1v1h-1zM355 575h1v1h-1zM357 575h1v1h-1zM359 575h1v1h-1zM361 575h1v1h-1zM363 575h1v1h-1zM367 575h1v1h-1zM369 575h1v1h-1zM373 575h1v1h-1zM375 575h1v1h-1zM310 576h1v1h-1zM314 576h1v1h-1zM320 576h1v1h-1zM324 576h1v1h-1zM326 576h1v1h-1zM328 576h1v1h-1zM338 576h1v1h-1zM340 576h1v1h-1zM342 576h1v1h-1zM350 576h1v1h-1zM360 576h1v1h-1zM366 576h1v1h-1zM309 577h1v1h-1zM315 577h1v1h-1zM317 577h1v1h-1zM331 577h1v1h-1zM333 577h1v1h-1zM335 577h1v1h-1zM341 577h1v1h-1zM347 577h1v1h-1zM355 577h1v1h-1zM359 577h1v1h-1zM361 577h1v1h-1zM363 577h1v1h-1zM369 577h1v1h-1zM371 577h1v1h-1zM308 578h1v1h-1zM310 578h1v1h-1zM312 578h1v1h-1zM314 578h1v1h-1zM316 578h1v1h-1zM318 578h1v1h-1zM320 578h1v1h-1zM322 578h1v1h-1zM328 578h1v1h-1zM334 578h1v1h-1zM340 578h1v1h-1zM350 578h1v1h-1zM354 578h1v1h-1zM356 578h1v1h-1zM358 578h1v1h-1zM362 578h1v1h-1zM366 578h1v1h-1zM372 578h1v1h-1zM374 578h1v1h-1zM317 579h1v1h-1zM321 579h1v1h-1zM333 579h1v1h-1zM337 579h1v1h-1zM345 579h1v1h-1zM347 579h1v1h-1zM353 579h1v1h-1zM355 579h1v1h-1zM357 579h1v1h-1zM361 579h1v1h-1zM365 579h1v1h-1zM369 579h1v1h-1zM375 579h1v1h-1zM308 580h1v1h-1zM312 580h1v1h-1zM316 580h1v1h-1zM318 580h1v1h-1zM322 580h1v1h-1zM324 580h1v1h-1zM330 580h1v1h-1zM336 580h1v1h-1zM352 580h1v1h-1zM354 580h1v1h-1zM362 580h1v1h-1zM366 580h1v1h-1zM309 581h1v1h-1zM315 581h1v1h-1zM317 581h1v1h-1zM323 581h1v1h-1zM325 581h1v1h-1zM333 581h1v1h-1zM335 581h1v1h-1zM341 581h1v1h-1zM343 581h1v1h-1zM345 581h1v1h-1zM349 581h1v1h-1zM351 581h1v1h-1zM353 581h1v1h-1zM359 581h1v1h-1zM361 581h1v1h-1zM365 581h1v1h-1zM367 581h1v1h-1zM310 582h1v1h-1zM316 582h1v1h-1zM340 582h1v1h-1zM342 582h1v1h-1zM348 582h1v1h-1zM358 582h1v1h-1zM372 582h1v1h-1zM309 583h1v1h-1zM315 583h1v1h-1zM321 583h1v1h-1zM327 583h1v1h-1zM331 583h1v1h-1zM333 583h1v1h-1zM339 583h1v1h-1zM349 583h1v1h-1zM353 583h1v1h-1zM357 583h1v1h-1zM361 583h1v1h-1zM363 583h1v1h-1zM365 583h1v1h-1zM369 583h1v1h-1zM375 583h1v1h-1zM316 584h1v1h-1zM320 584h1v1h-1zM328 584h1v1h-1zM336 584h1v1h-1zM338 584h1v1h-1zM342 584h1v1h-1zM344 584h1v1h-1zM346 584h1v1h-1zM348 584h1v1h-1zM354 584h1v1h-1zM368 584h1v1h-1zM374 584h1v1h-1zM313 585h1v1h-1zM317 585h1v1h-1zM319 585h1v1h-1zM323 585h1v1h-1zM327 585h1v1h-1zM329 585h1v1h-1zM331 585h1v1h-1zM333 585h1v1h-1zM337 585h1v1h-1zM343 585h1v1h-1zM357 585h1v1h-1zM367 585h1v1h-1zM375 585h1v1h-1zM308 586h1v1h-1zM310 586h1v1h-1zM314 586h1v1h-1zM320 586h1v1h-1zM322 586h1v1h-1zM330 586h1v1h-1zM332 586h1v1h-1zM340 586h1v1h-1zM350 586h1v1h-1zM354 586h1v1h-1zM360 586h1v1h-1zM364 586h1v1h-1zM368 586h1v1h-1zM311 587h1v1h-1zM325 587h1v1h-1zM327 587h1v1h-1zM331 587h1v1h-1zM337 587h1v1h-1zM349 587h1v1h-1zM351 587h1v1h-1zM363 587h1v1h-1zM369 587h1v1h-1zM373 587h1v1h-1zM375 587h1v1h-1zM308 588h1v1h-1zM312 588h1v1h-1zM318 588h1v1h-1zM320 588h1v1h-1zM322 588h1v1h-1zM332 588h1v1h-1zM338 588h1v1h-1zM340 588h1v1h-1zM342 588h1v1h-1zM350 588h1v1h-1zM356 588h1v1h-1zM360 588h1v1h-1zM364 588h1v1h-1zM370 588h1v1h-1zM309 589h1v1h-1zM311 589h1v1h-1zM313 589h1v1h-1zM315 589h1v1h-1zM317 589h1v1h-1zM323 589h1v1h-1zM325 589h1v1h-1zM327 589h1v1h-1zM329 589h1v1h-1zM335 589h1v1h-1zM341 589h1v1h-1zM345 589h1v1h-1zM347 589h1v1h-1zM355 589h1v1h-1zM365 589h1v1h-1zM367 589h1v1h-1zM375 589h1v1h-1zM308 590h1v1h-1zM312 590h1v1h-1zM320 590h1v1h-1zM326 590h1v1h-1zM330 590h1v1h-1zM332 590h1v1h-1zM334 590h1v1h-1zM346 590h1v1h-1zM352 590h1v1h-1zM354 590h1v1h-1zM356 590h1v1h-1zM360 590h1v1h-1zM366 590h1v1h-1zM368 590h1v1h-1zM370 590h1v1h-1zM372 590h1v1h-1zM374 590h1v1h-1zM309 591h1v1h-1zM317 591h1v1h-1zM319 591h1v1h-1zM321 591h1v1h-1zM325 591h1v1h-1zM329 591h1v1h-1zM331 591h1v1h-1zM333 591h1v1h-1zM337 591h1v1h-1zM341 591h1v1h-1zM353 591h1v1h-1zM355 591h1v1h-1zM359 591h1v1h-1zM361 591h1v1h-1zM363 591h1v1h-1zM365 591h1v1h-1zM375 591h1v1h-1zM310 592h1v1h-1zM314 592h1v1h-1zM322 592h1v1h-1zM328 592h1v1h-1zM330 592h1v1h-1zM334 592h1v1h-1zM342 592h1v1h-1zM346 592h1v1h-1zM356 592h1v1h-1zM360 592h1v1h-1zM368 592h1v1h-1zM372 592h1v1h-1zM313 593h1v1h-1zM319 593h1v1h-1zM323 593h1v1h-1zM327 593h1v1h-1zM333 593h1v1h-1zM339 593h1v1h-1zM343 593h1v1h-1zM345 593h1v1h-1zM349 593h1v1h-1zM357 593h1v1h-1zM361 593h1v1h-1zM363 593h1v1h-1zM369 593h1v1h-1zM375 593h1v1h-1zM314 594h1v1h-1zM320 594h1v1h-1zM324 594h1v1h-1zM326 594h1v1h-1zM338 594h1v1h-1zM340 594h1v1h-1zM348 594h1v1h-1zM352 594h1v1h-1zM356 594h1v1h-1zM364 594h1v1h-1zM368 594h1v1h-1zM309 595h1v1h-1zM311 595h1v1h-1zM313 595h1v1h-1zM317 595h1v1h-1zM319 595h1v1h-1zM321 595h1v1h-1zM323 595h1v1h-1zM325 595h1v1h-1zM329 595h1v1h-1zM331 595h1v1h-1zM335 595h1v1h-1zM341 595h1v1h-1zM353 595h1v1h-1zM363 595h1v1h-1zM365 595h1v1h-1zM375 595h1v1h-1zM314 596h1v1h-1zM320 596h1v1h-1zM322 596h1v1h-1zM326 596h1v1h-1zM328 596h1v1h-1zM334 596h1v1h-1zM336 596h1v1h-1zM340 596h1v1h-1zM352 596h1v1h-1zM362 596h1v1h-1zM366 596h1v1h-1zM311 597h1v1h-1zM315 597h1v1h-1zM321 597h1v1h-1zM333 597h1v1h-1zM335 597h1v1h-1zM345 597h1v1h-1zM347 597h1v1h-1zM353 597h1v1h-1zM359 597h1v1h-1zM365 597h1v1h-1zM367 597h1v1h-1zM371 597h1v1h-1zM373 597h1v1h-1zM320 598h1v1h-1zM324 598h1v1h-1zM326 598h1v1h-1zM332 598h1v1h-1zM346 598h1v1h-1zM348 598h1v1h-1zM352 598h1v1h-1zM356 598h1v1h-1zM366 598h1v1h-1zM315 599h1v1h-1zM319 599h1v1h-1zM351 599h1v1h-1zM361 599h1v1h-1zM371 599h1v1h-1zM373 599h1v1h-1zM375 599h1v1h-1zM314 600h1v1h-1zM320 600h1v1h-1zM322 600h1v1h-1zM326 600h1v1h-1zM332 600h1v1h-1zM340 600h1v1h-1zM352 600h1v1h-1zM354 600h1v1h-1zM356 600h1v1h-1zM358 600h1v1h-1zM366 600h1v1h-1zM372 600h1v1h-1zM374 600h1v1h-1zM311 601h1v1h-1zM315 601h1v1h-1zM319 601h1v1h-1zM321 601h1v1h-1zM327 601h1v1h-1zM331 601h1v1h-1zM347 601h1v1h-1zM357 601h1v1h-1zM361 601h1v1h-1zM365 601h1v1h-1zM371 601h1v1h-1zM312 602h1v1h-1zM314 602h1v1h-1zM318 602h1v1h-1zM320 602h1v1h-1zM328 602h1v1h-1zM330 602h1v1h-1zM332 602h1v1h-1zM340 602h1v1h-1zM342 602h1v1h-1zM348 602h1v1h-1zM354 602h1v1h-1zM362 602h1v1h-1zM368 602h1v1h-1zM313 603h1v1h-1zM315 603h1v1h-1zM319 603h1v1h-1zM323 603h1v1h-1zM331 603h1v1h-1zM337 603h1v1h-1zM339 603h1v1h-1zM341 603h1v1h-1zM343 603h1v1h-1zM345 603h1v1h-1zM363 603h1v1h-1zM365 603h1v1h-1zM369 603h1v1h-1zM375 603h1v1h-1z" fill="#aaa"/></g><rect x="307.2" y="528" width="2.4" height="77" fill="#555"/><path d="M450 495h5v1.6h-5zM452 492h2v2h-2z" fill="#333"/><rect x="308" y="603.4" width="68" height="2.5" fill="#222"/><rect x="377.5" y="603.8" width="98" height="2.1" fill="#444"/><text transform="translate(307.80,361.50) scale(0.92,1)" font-size="34.5" style="font-family:'Liberation Sans',sans-serif" stroke="#000" stroke-width="0.45">D</text><text transform="translate(306.10,389.90) scale(1,1.28)" font-size="7.35" style="font-family:'Liberation Mono',monospace;font-weight:bold">G: A</text><text x="378.50" y="398.50" font-size="8.6" style="font-family:'Liberation Mono',monospace;font-weight:bold;font-weight:normal" text-anchor="start" >PMT3 VS PMT1</text><path d="M306.60 606.65v4.2M306.60 606.65h-4.2M322.10 606.65v4.2M306.60 591.11h-4.2M331.17 606.65v4.2M306.60 582.01h-4.2M337.61 606.65v4.2M306.60 575.56h-4.2M342.60 606.65v4.2M306.60 570.56h-4.2M346.67 606.65v4.2M306.60 566.47h-4.2M350.12 606.65v4.2M306.60 563.01h-4.2M353.11 606.65v4.2M306.60 560.02h-4.2M355.74 606.65v4.2M306.60 557.38h-4.2M358.10 606.65v4.2M306.60 555.01h-4.2M373.60 606.65v4.2M306.60 539.47h-4.2M382.67 606.65v4.2M306.60 530.38h-4.2M389.11 606.65v4.2M306.60 523.92h-4.2M394.10 606.65v4.2M306.60 518.92h-4.2M398.17 606.65v4.2M306.60 514.83h-4.2M401.62 606.65v4.2M306.60 511.37h-4.2M404.61 606.65v4.2M306.60 508.38h-4.2M407.24 606.65v4.2M306.60 505.74h-4.2M409.60 606.65v4.2M306.60 503.38h-4.2M425.10 606.65v4.2M306.60 487.83h-4.2M434.17 606.65v4.2M306.60 478.74h-4.2M440.61 606.65v4.2M306.60 472.29h-4.2M445.60 606.65v4.2M306.60 467.28h-4.2M449.67 606.65v4.2M306.60 463.19h-4.2M453.12 606.65v4.2M306.60 459.74h-4.2M456.11 606.65v4.2M306.60 456.74h-4.2M458.74 606.65v4.2M306.60 454.10h-4.2M461.10 606.65v4.2M306.60 451.74h-4.2M476.60 606.65v4.2M306.60 436.19h-4.2M485.67 606.65v4.2M306.60 427.10h-4.2M492.11 606.65v4.2M306.60 420.65h-4.2M497.10 606.65v4.2M306.60 415.64h-4.2M501.17 606.65v4.2M306.60 411.56h-4.2M504.62 606.65v4.2M306.60 408.10h-4.2M507.61 606.65v4.2M306.60 405.10h-4.2M510.24 606.65v4.2M306.60 402.46h-4.2M512.60 606.65v4.2M306.60 400.10h-4.2" stroke="#000" stroke-width="1.1" fill="none"/><rect x="306.60" y="400.10" width="206.00" height="206.55" fill="none" stroke="#000" stroke-width="1.7"/><path d="M306.60 417.80H493.00V606.65" fill="none" stroke="#505050" stroke-width="1.6"/><line x1="376.10" y1="417.80" x2="376.10" y2="527.40" stroke="#000" stroke-width="1.6"/><line x1="376.60" y1="527.40" x2="376.60" y2="606.65" stroke="#000" stroke-width="1.6"/><line x1="306.60" y1="527.40" x2="376.35" y2="527.40" stroke="#000" stroke-width="1.6"/><line x1="376.35" y1="527.40" x2="493.00" y2="527.40" stroke="#000" stroke-width="1.6"/><text transform="translate(301.70,610.21) rotate(-90) scale(1,1.12)" font-size="8" style="font-family:'Liberation Mono',monospace;font-weight:bold">.1</text><text transform="translate(301.70,555.06) rotate(-90) scale(1,1.12)" font-size="8" style="font-family:'Liberation Mono',monospace;font-weight:bold">1</text><text transform="translate(301.70,507.34) rotate(-90) scale(1,1.12)" font-size="8" style="font-family:'Liberation Mono',monospace;font-weight:bold">10</text><text transform="translate(301.70,461.66) rotate(-90) scale(1,1.12)" font-size="8" style="font-family:'Liberation Mono',monospace;font-weight:bold">100</text><text transform="translate(301.70,419.94) rotate(-90) scale(1,1.12)" font-size="8" style="font-family:'Liberation Mono',monospace;font-weight:bold">1000</text><text transform="translate(292.40,521.18) rotate(-90)" font-size="8.2" style="font-family:'Liberation Mono',monospace;font-weight:bold">HOECHST</text><text transform="translate(302.80,617.95) scale(1,1.18)" font-size="7.8" style="font-family:'Liberation Mono',monospace;font-weight:bold">.1</text><text transform="translate(357.80,617.95) scale(1,1.18)" font-size="7.8" style="font-family:'Liberation Mono',monospace;font-weight:bold">1</text><text transform="translate(404.20,617.95) scale(1,1.18)" font-size="7.8" style="font-family:'Liberation Mono',monospace;font-weight:bold">10</text><text transform="translate(451.60,617.95) scale(1,1.18)" font-size="7.8" style="font-family:'Liberation Mono',monospace;font-weight:bold">100</text><text transform="translate(492.10,617.95) scale(1,1.18)" font-size="7.8" style="font-family:'Liberation Mono',monospace;font-weight:bold">1000</text><text x="403.50" y="625.55" font-size="8.6" style="font-family:'Liberation Mono',monospace;font-weight:bold" text-anchor="start" >PI</text><text transform="translate(313.10,526.20) scale(1,1.2)" font-size="7.6" style="font-family:'Liberation Mono',monospace;font-weight:bold" text-anchor="start">E</text><text transform="translate(369.80,526.50) scale(1,1.2)" font-size="7.6" style="font-family:'Liberation Mono',monospace;font-weight:bold" text-anchor="end">F</text><text transform="translate(313.10,602.15) scale(1,1.2)" font-size="7.6" style="font-family:'Liberation Mono',monospace;font-weight:bold" text-anchor="start">D</text><text transform="translate(371.00,602.15) scale(1,1.2)" font-size="7.6" style="font-family:'Liberation Mono',monospace;font-weight:bold" text-anchor="end">G</text><rect x="340.77" y="505.00" width="30.12" height="11.5" fill="#fff"/><text x="370.10" y="514.60" font-size="12.5" style="font-family:'Liberation Serif',serif;font-weight:normal" text-anchor="end" stroke="#000" stroke-width="0.35">0.8%</text><rect x="454.02" y="505.40" width="36.38" height="11.5" fill="#fff"/><text x="489.60" y="515.00" font-size="12.5" style="font-family:'Liberation Serif',serif;font-weight:bold" text-anchor="end" >17.5%</text><rect x="334.82" y="578.10" width="36.38" height="11.5" fill="#fff"/><text x="370.40" y="587.70" font-size="12.5" style="font-family:'Liberation Serif',serif;font-weight:bold" text-anchor="end" >64.5%</text><rect x="453.82" y="578.10" width="36.38" height="11.5" fill="#fff"/><text x="489.40" y="587.70" font-size="12.5" style="font-family:'Liberation Serif',serif;font-weight:bold" text-anchor="end" >20.0%</text></svg>
</body></html>
